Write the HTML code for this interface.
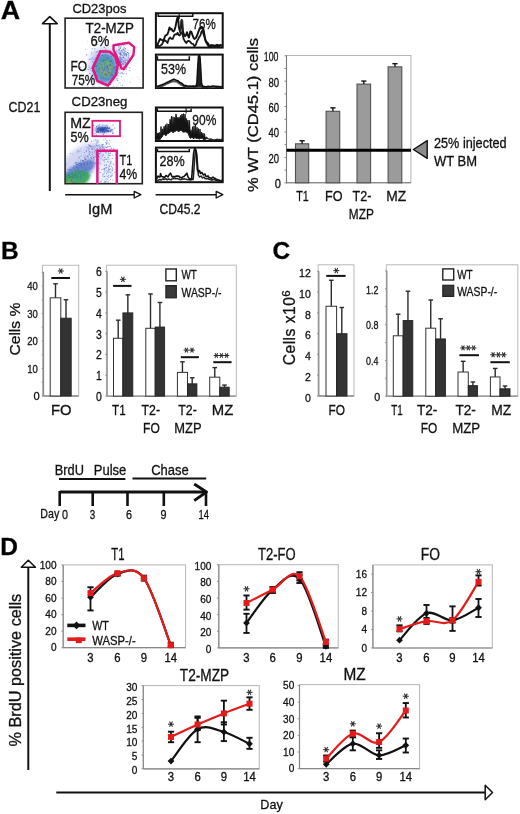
<!DOCTYPE html><html><head><meta charset="utf-8"><style>html,body{margin:0;padding:0;background:#fff;}svg{display:block;will-change:transform;}text{font-family:"Liberation Sans", sans-serif;stroke:#111;stroke-width:0.3px;}</style></head><body>
<svg width="520" height="814" viewBox="0 0 520 814">
<rect x="0" y="0" width="520" height="814" fill="#fff"/>
<text x="0.80" y="18.80" font-size="25.5" text-anchor="start" font-weight="bold" fill="#000" textLength="19.4" lengthAdjust="spacingAndGlyphs" >A</text>
<text x="1.00" y="259.00" font-size="24.5" text-anchor="start" font-weight="bold" fill="#000" >B</text>
<text x="272.50" y="259.20" font-size="24.5" text-anchor="start" font-weight="bold" fill="#000" >C</text>
<text x="0.30" y="555.00" font-size="24.5" text-anchor="start" font-weight="bold" fill="#000" >D</text>
<line x1="49.80" y1="23.00" x2="49.80" y2="191.00" stroke="#111" stroke-width="2.0" />
<polygon points="42.50,23.70 49.80,16.70 57.20,23.70" fill="#fff" stroke="#111" stroke-width="1.6" stroke-linejoin="round" />
<text x="8.60" y="111.80" font-size="14.49" text-anchor="start" font-weight="normal" fill="#111" textLength="31.8" lengthAdjust="spacingAndGlyphs" >CD21</text>
<rect x="65.10" y="18.20" width="78.00" height="69.80" fill="#fff" stroke="#222" stroke-width="1.6" />
<rect x="65.10" y="112.30" width="77.20" height="71.40" fill="#fff" stroke="#222" stroke-width="1.6" />
<defs><filter id="bl1" x="-50%" y="-50%" width="200%" height="200%"><feGaussianBlur stdDeviation="2.2"/></filter><filter id="bl2" x="-50%" y="-50%" width="200%" height="200%"><feGaussianBlur stdDeviation="1.2"/></filter><clipPath id="cp1"><rect x="66" y="19" width="76.2" height="68.2"/></clipPath><clipPath id="cp2"><rect x="66" y="113.1" width="75.5" height="69.8"/></clipPath></defs>
<g clip-path="url(#cp1)">
<g filter="url(#bl1)">
<ellipse cx="104" cy="66" rx="16" ry="19" fill="#b6c3ee" opacity="0.7"/>
<ellipse cx="123" cy="58" rx="6" ry="10" fill="#c2ccf0" opacity="0.6" transform="rotate(20 123 58)"/>
<ellipse cx="96" cy="55" rx="6" ry="5" fill="#c9d1f2" opacity="0.5"/>
</g>
<g filter="url(#bl2)">
<ellipse cx="105" cy="68" rx="11.5" ry="15" fill="#5f86d4" opacity="0.85"/>
<ellipse cx="105.5" cy="67.5" rx="9.5" ry="12.5" fill="#3f9fb0" opacity="0.85"/>
<ellipse cx="106" cy="68.5" rx="7.3" ry="9.5" fill="#5bb06a" opacity="0.9"/>
<ellipse cx="106" cy="69.5" rx="5.2" ry="6.5" fill="#aaa43c" opacity="0.9"/>
</g>
<rect x="101.7" y="77.3" width="1" height="1" fill="#3e63c4" opacity="0.75"/>
<rect x="94.0" y="64.1" width="1" height="1" fill="#5a7fd6" opacity="0.75"/>
<rect x="108.1" y="68.8" width="1" height="1" fill="#8aa0e3" opacity="0.75"/>
<rect x="105.6" y="67.6" width="1" height="1" fill="#7890de" opacity="0.75"/>
<rect x="103.4" y="68.9" width="1" height="1" fill="#2f56b8" opacity="0.75"/>
<rect x="102.3" y="63.3" width="1" height="1" fill="#56b27c" opacity="0.75"/>
<rect x="86.2" y="54.3" width="1" height="1" fill="#3e63c4" opacity="0.75"/>
<rect x="115.9" y="50.8" width="1" height="1" fill="#5a7fd6" opacity="0.75"/>
<rect x="109.4" y="74.0" width="1" height="1" fill="#8aa0e3" opacity="0.75"/>
<rect x="107.9" y="74.3" width="1" height="1" fill="#7890de" opacity="0.75"/>
<rect x="99.9" y="58.8" width="1" height="1" fill="#3e63c4" opacity="0.75"/>
<rect x="113.9" y="71.8" width="1" height="1" fill="#5a7fd6" opacity="0.75"/>
<rect x="102.2" y="58.3" width="1" height="1" fill="#7890de" opacity="0.75"/>
<rect x="101.8" y="68.9" width="1" height="1" fill="#2f56b8" opacity="0.75"/>
<rect x="106.1" y="64.6" width="1" height="1" fill="#8aa0e3" opacity="0.75"/>
<rect x="98.5" y="66.0" width="1" height="1" fill="#8aa0e3" opacity="0.75"/>
<rect x="104.6" y="59.0" width="1" height="1" fill="#3e63c4" opacity="0.75"/>
<rect x="81.8" y="84.9" width="1" height="1" fill="#2f56b8" opacity="0.75"/>
<rect x="107.1" y="70.5" width="1" height="1" fill="#3c9fae" opacity="0.75"/>
<rect x="105.5" y="67.2" width="1" height="1" fill="#8aa0e3" opacity="0.75"/>
<rect x="109.8" y="62.0" width="1" height="1" fill="#7890de" opacity="0.75"/>
<rect x="93.1" y="58.6" width="1" height="1" fill="#7890de" opacity="0.75"/>
<rect x="111.2" y="55.8" width="1" height="1" fill="#2f56b8" opacity="0.75"/>
<rect x="109.1" y="69.4" width="1" height="1" fill="#3c9fae" opacity="0.75"/>
<rect x="94.3" y="48.2" width="1" height="1" fill="#5a7fd6" opacity="0.75"/>
<rect x="104.9" y="68.2" width="1" height="1" fill="#3c9fae" opacity="0.75"/>
<rect x="111.3" y="68.6" width="1" height="1" fill="#3e63c4" opacity="0.75"/>
<rect x="106.8" y="68.2" width="1" height="1" fill="#3c9fae" opacity="0.75"/>
<rect x="105.6" y="67.6" width="1" height="1" fill="#56b27c" opacity="0.75"/>
<rect x="114.2" y="73.8" width="1" height="1" fill="#7890de" opacity="0.75"/>
<rect x="92.4" y="62.0" width="1" height="1" fill="#8aa0e3" opacity="0.75"/>
<rect x="103.3" y="83.3" width="1" height="1" fill="#7890de" opacity="0.75"/>
<rect x="93.6" y="86.4" width="1" height="1" fill="#3e63c4" opacity="0.75"/>
<rect x="113.0" y="87.0" width="1" height="1" fill="#5a7fd6" opacity="0.75"/>
<rect x="106.9" y="84.7" width="1" height="1" fill="#5a7fd6" opacity="0.75"/>
<rect x="106.8" y="67.5" width="1" height="1" fill="#8aa0e3" opacity="0.75"/>
<rect x="90.1" y="89.0" width="1" height="1" fill="#2f56b8" opacity="0.75"/>
<rect x="95.5" y="66.2" width="1" height="1" fill="#2f56b8" opacity="0.75"/>
<rect x="96.5" y="44.0" width="1" height="1" fill="#2f56b8" opacity="0.75"/>
<rect x="110.5" y="60.9" width="1" height="1" fill="#2f56b8" opacity="0.75"/>
<rect x="102.6" y="70.6" width="1" height="1" fill="#3c9fae" opacity="0.75"/>
<rect x="108.1" y="68.9" width="1" height="1" fill="#7890de" opacity="0.75"/>
<rect x="106.7" y="73.5" width="1" height="1" fill="#7890de" opacity="0.75"/>
<rect x="113.3" y="67.5" width="1" height="1" fill="#3e63c4" opacity="0.75"/>
<rect x="106.7" y="68.7" width="1" height="1" fill="#56b27c" opacity="0.75"/>
<rect x="104.2" y="66.0" width="1" height="1" fill="#7890de" opacity="0.75"/>
<rect x="105.4" y="74.6" width="1" height="1" fill="#3e63c4" opacity="0.75"/>
<rect x="110.0" y="59.3" width="1" height="1" fill="#8aa0e3" opacity="0.75"/>
<rect x="101.4" y="68.7" width="1" height="1" fill="#7890de" opacity="0.75"/>
<rect x="105.3" y="68.0" width="1" height="1" fill="#2f56b8" opacity="0.75"/>
<rect x="106.0" y="66.2" width="1" height="1" fill="#56b27c" opacity="0.75"/>
<rect x="103.7" y="67.1" width="1" height="1" fill="#7890de" opacity="0.75"/>
<rect x="93.9" y="63.3" width="1" height="1" fill="#8aa0e3" opacity="0.75"/>
<rect x="106.9" y="65.5" width="1" height="1" fill="#3c9fae" opacity="0.75"/>
<rect x="105.2" y="72.7" width="1" height="1" fill="#3c9fae" opacity="0.75"/>
<rect x="101.1" y="66.3" width="1" height="1" fill="#3c9fae" opacity="0.75"/>
<rect x="104.0" y="71.0" width="1" height="1" fill="#56b27c" opacity="0.75"/>
<rect x="116.3" y="48.8" width="1" height="1" fill="#8aa0e3" opacity="0.75"/>
<rect x="105.7" y="67.0" width="1" height="1" fill="#8aa0e3" opacity="0.75"/>
<rect x="101.1" y="74.8" width="1" height="1" fill="#3e63c4" opacity="0.75"/>
<rect x="106.9" y="67.8" width="1" height="1" fill="#3c9fae" opacity="0.75"/>
<rect x="112.8" y="64.8" width="1" height="1" fill="#7890de" opacity="0.75"/>
<rect x="128.4" y="55.1" width="1" height="1" fill="#5a7fd6" opacity="0.75"/>
<rect x="105.8" y="69.9" width="1" height="1" fill="#2f56b8" opacity="0.75"/>
<rect x="106.8" y="72.4" width="1" height="1" fill="#56b27c" opacity="0.75"/>
<rect x="112.7" y="52.8" width="1" height="1" fill="#7890de" opacity="0.75"/>
<rect x="104.8" y="66.1" width="1" height="1" fill="#3c9fae" opacity="0.75"/>
<rect x="108.9" y="64.7" width="1" height="1" fill="#3c9fae" opacity="0.75"/>
<rect x="105.5" y="59.4" width="1" height="1" fill="#2f56b8" opacity="0.75"/>
<rect x="105.1" y="68.5" width="1" height="1" fill="#56b27c" opacity="0.75"/>
<rect x="113.4" y="65.6" width="1" height="1" fill="#8aa0e3" opacity="0.75"/>
<rect x="104.5" y="59.6" width="1" height="1" fill="#3e63c4" opacity="0.75"/>
<rect x="114.3" y="79.3" width="1" height="1" fill="#8aa0e3" opacity="0.75"/>
<rect x="116.2" y="85.7" width="1" height="1" fill="#8aa0e3" opacity="0.75"/>
<rect x="110.6" y="66.7" width="1" height="1" fill="#7890de" opacity="0.75"/>
<rect x="110.8" y="74.9" width="1" height="1" fill="#3e63c4" opacity="0.75"/>
<rect x="112.6" y="65.8" width="1" height="1" fill="#8aa0e3" opacity="0.75"/>
<rect x="96.5" y="72.7" width="1" height="1" fill="#8aa0e3" opacity="0.75"/>
<rect x="106.3" y="65.4" width="1" height="1" fill="#2f56b8" opacity="0.75"/>
<rect x="105.9" y="77.1" width="1" height="1" fill="#7890de" opacity="0.75"/>
<rect x="105.2" y="73.5" width="1" height="1" fill="#56b27c" opacity="0.75"/>
<rect x="103.9" y="70.2" width="1" height="1" fill="#8aa0e3" opacity="0.75"/>
<rect x="98.0" y="61.9" width="1" height="1" fill="#8aa0e3" opacity="0.75"/>
<rect x="99.6" y="67.4" width="1" height="1" fill="#7890de" opacity="0.75"/>
<rect x="94.9" y="65.5" width="1" height="1" fill="#3e63c4" opacity="0.75"/>
<rect x="106.8" y="67.5" width="1" height="1" fill="#3c9fae" opacity="0.75"/>
<rect x="112.9" y="85.7" width="1" height="1" fill="#7890de" opacity="0.75"/>
<rect x="104.3" y="70.6" width="1" height="1" fill="#8aa0e3" opacity="0.75"/>
<rect x="104.5" y="67.1" width="1" height="1" fill="#8aa0e3" opacity="0.75"/>
<rect x="105.5" y="73.5" width="1" height="1" fill="#2f56b8" opacity="0.75"/>
<rect x="107.3" y="51.0" width="1" height="1" fill="#2f56b8" opacity="0.75"/>
<rect x="106.0" y="67.1" width="1" height="1" fill="#8aa0e3" opacity="0.75"/>
<rect x="96.4" y="57.4" width="1" height="1" fill="#2f56b8" opacity="0.75"/>
<rect x="105.1" y="67.7" width="1" height="1" fill="#8aa0e3" opacity="0.75"/>
<rect x="91.2" y="70.1" width="1" height="1" fill="#8aa0e3" opacity="0.75"/>
<rect x="110.7" y="64.9" width="1" height="1" fill="#5a7fd6" opacity="0.75"/>
<rect x="88.8" y="59.0" width="1" height="1" fill="#3e63c4" opacity="0.75"/>
<rect x="110.3" y="73.5" width="1" height="1" fill="#7890de" opacity="0.75"/>
<rect x="105.7" y="67.6" width="1" height="1" fill="#3c9fae" opacity="0.75"/>
<rect x="106.3" y="62.6" width="1" height="1" fill="#56b27c" opacity="0.75"/>
<rect x="107.3" y="70.8" width="1" height="1" fill="#7890de" opacity="0.75"/>
<rect x="116.1" y="55.0" width="1" height="1" fill="#8aa0e3" opacity="0.75"/>
<rect x="107.3" y="79.8" width="1" height="1" fill="#7890de" opacity="0.75"/>
<rect x="108.5" y="67.3" width="1" height="1" fill="#56b27c" opacity="0.75"/>
<rect x="111.3" y="79.6" width="1" height="1" fill="#5a7fd6" opacity="0.75"/>
<rect x="107.2" y="73.7" width="1" height="1" fill="#5a7fd6" opacity="0.75"/>
<rect x="103.3" y="51.4" width="1" height="1" fill="#7890de" opacity="0.75"/>
<rect x="107.0" y="67.7" width="1" height="1" fill="#2f56b8" opacity="0.75"/>
<rect x="102.9" y="64.2" width="1" height="1" fill="#56b27c" opacity="0.75"/>
<rect x="105.6" y="67.1" width="1" height="1" fill="#56b27c" opacity="0.75"/>
<rect x="105.7" y="67.7" width="1" height="1" fill="#3c9fae" opacity="0.75"/>
<rect x="105.1" y="71.1" width="1" height="1" fill="#7890de" opacity="0.75"/>
<rect x="91.6" y="77.1" width="1" height="1" fill="#5a7fd6" opacity="0.75"/>
<rect x="111.3" y="77.7" width="1" height="1" fill="#8aa0e3" opacity="0.75"/>
<rect x="104.3" y="66.8" width="1" height="1" fill="#7890de" opacity="0.75"/>
<rect x="103.9" y="62.5" width="1" height="1" fill="#8aa0e3" opacity="0.75"/>
<rect x="117.3" y="75.0" width="1" height="1" fill="#8aa0e3" opacity="0.75"/>
<rect x="110.1" y="71.0" width="1" height="1" fill="#8aa0e3" opacity="0.75"/>
<rect x="112.0" y="71.3" width="1" height="1" fill="#5a7fd6" opacity="0.75"/>
<rect x="97.6" y="63.9" width="1" height="1" fill="#8aa0e3" opacity="0.75"/>
<rect x="104.6" y="78.4" width="1" height="1" fill="#5a7fd6" opacity="0.75"/>
<rect x="112.4" y="74.8" width="1" height="1" fill="#3e63c4" opacity="0.75"/>
<rect x="108.0" y="68.5" width="1" height="1" fill="#2f56b8" opacity="0.75"/>
<rect x="106.0" y="56.8" width="1" height="1" fill="#5a7fd6" opacity="0.75"/>
<rect x="101.5" y="67.5" width="1" height="1" fill="#7890de" opacity="0.75"/>
<rect x="105.5" y="78.3" width="1" height="1" fill="#3e63c4" opacity="0.75"/>
<rect x="104.8" y="59.5" width="1" height="1" fill="#7890de" opacity="0.75"/>
<rect x="107.4" y="66.4" width="1" height="1" fill="#7890de" opacity="0.75"/>
<rect x="110.0" y="54.9" width="1" height="1" fill="#8aa0e3" opacity="0.75"/>
<rect x="101.7" y="71.4" width="1" height="1" fill="#8aa0e3" opacity="0.75"/>
<rect x="102.0" y="56.6" width="1" height="1" fill="#8aa0e3" opacity="0.75"/>
<rect x="105.2" y="66.2" width="1" height="1" fill="#3c9fae" opacity="0.75"/>
<rect x="103.9" y="68.9" width="1" height="1" fill="#7890de" opacity="0.75"/>
<rect x="108.0" y="69.0" width="1" height="1" fill="#3c9fae" opacity="0.75"/>
<rect x="105.4" y="70.3" width="1" height="1" fill="#56b27c" opacity="0.75"/>
<rect x="108.0" y="64.1" width="1" height="1" fill="#3c9fae" opacity="0.75"/>
<rect x="105.4" y="68.0" width="1" height="1" fill="#8aa0e3" opacity="0.75"/>
<rect x="110.1" y="76.5" width="1" height="1" fill="#7890de" opacity="0.75"/>
<rect x="103.3" y="101.3" width="1" height="1" fill="#7890de" opacity="0.75"/>
<rect x="105.7" y="75.8" width="1" height="1" fill="#8aa0e3" opacity="0.75"/>
<rect x="105.4" y="67.8" width="1" height="1" fill="#2f56b8" opacity="0.75"/>
<rect x="105.1" y="67.6" width="1" height="1" fill="#8aa0e3" opacity="0.75"/>
<rect x="105.8" y="68.7" width="1" height="1" fill="#2f56b8" opacity="0.75"/>
<rect x="105.5" y="67.5" width="1" height="1" fill="#2f56b8" opacity="0.75"/>
<rect x="113.6" y="70.3" width="1" height="1" fill="#5a7fd6" opacity="0.75"/>
<rect x="104.5" y="66.7" width="1" height="1" fill="#8aa0e3" opacity="0.75"/>
<rect x="105.5" y="56.2" width="1" height="1" fill="#8aa0e3" opacity="0.75"/>
<rect x="95.3" y="78.5" width="1" height="1" fill="#5a7fd6" opacity="0.75"/>
<rect x="114.9" y="66.3" width="1" height="1" fill="#2f56b8" opacity="0.75"/>
<rect x="118.0" y="72.1" width="1" height="1" fill="#8aa0e3" opacity="0.75"/>
<rect x="114.3" y="58.2" width="1" height="1" fill="#8aa0e3" opacity="0.75"/>
<rect x="113.0" y="79.1" width="1" height="1" fill="#7890de" opacity="0.75"/>
<rect x="96.3" y="67.2" width="1" height="1" fill="#8aa0e3" opacity="0.75"/>
<rect x="92.1" y="57.3" width="1" height="1" fill="#8aa0e3" opacity="0.75"/>
<rect x="104.5" y="64.5" width="1" height="1" fill="#7890de" opacity="0.75"/>
<rect x="110.0" y="74.0" width="1" height="1" fill="#5a7fd6" opacity="0.75"/>
<rect x="110.7" y="72.7" width="1" height="1" fill="#2f56b8" opacity="0.75"/>
<rect x="97.8" y="57.3" width="1" height="1" fill="#2f56b8" opacity="0.75"/>
<rect x="87.7" y="69.1" width="1" height="1" fill="#2f56b8" opacity="0.75"/>
<rect x="105.1" y="67.5" width="1" height="1" fill="#8aa0e3" opacity="0.75"/>
<rect x="97.4" y="51.1" width="1" height="1" fill="#5a7fd6" opacity="0.75"/>
<rect x="111.4" y="71.4" width="1" height="1" fill="#5a7fd6" opacity="0.75"/>
<rect x="104.9" y="61.6" width="1" height="1" fill="#56b27c" opacity="0.75"/>
<rect x="89.7" y="68.3" width="1" height="1" fill="#5a7fd6" opacity="0.75"/>
<rect x="98.7" y="68.7" width="1" height="1" fill="#2f56b8" opacity="0.75"/>
<rect x="95.8" y="51.6" width="1" height="1" fill="#3e63c4" opacity="0.75"/>
<rect x="105.7" y="67.9" width="1" height="1" fill="#2f56b8" opacity="0.75"/>
<rect x="90.5" y="58.6" width="1" height="1" fill="#3e63c4" opacity="0.75"/>
<rect x="107.1" y="68.3" width="1" height="1" fill="#3c9fae" opacity="0.75"/>
<rect x="98.8" y="50.3" width="1" height="1" fill="#5a7fd6" opacity="0.75"/>
<rect x="94.6" y="66.0" width="1" height="1" fill="#3e63c4" opacity="0.75"/>
<rect x="107.4" y="65.5" width="1" height="1" fill="#7890de" opacity="0.75"/>
<rect x="107.2" y="67.2" width="1" height="1" fill="#8aa0e3" opacity="0.75"/>
<rect x="105.8" y="66.6" width="1" height="1" fill="#56b27c" opacity="0.75"/>
<rect x="104.7" y="67.8" width="1" height="1" fill="#56b27c" opacity="0.75"/>
<rect x="107.2" y="76.1" width="1" height="1" fill="#7890de" opacity="0.75"/>
<rect x="120.9" y="92.2" width="1" height="1" fill="#3e63c4" opacity="0.75"/>
<rect x="107.1" y="63.1" width="1" height="1" fill="#8aa0e3" opacity="0.75"/>
<rect x="107.1" y="65.7" width="1" height="1" fill="#56b27c" opacity="0.75"/>
<rect x="98.6" y="68.3" width="1" height="1" fill="#3e63c4" opacity="0.75"/>
<rect x="116.4" y="67.8" width="1" height="1" fill="#5a7fd6" opacity="0.75"/>
<rect x="105.9" y="68.1" width="1" height="1" fill="#2f56b8" opacity="0.75"/>
<rect x="105.4" y="67.9" width="1" height="1" fill="#3c9fae" opacity="0.75"/>
<rect x="105.8" y="67.0" width="1" height="1" fill="#7890de" opacity="0.75"/>
<rect x="109.9" y="64.6" width="1" height="1" fill="#2f56b8" opacity="0.75"/>
<rect x="90.9" y="87.1" width="1" height="1" fill="#5a7fd6" opacity="0.75"/>
<rect x="113.5" y="67.4" width="1" height="1" fill="#7890de" opacity="0.75"/>
<rect x="104.7" y="74.0" width="1" height="1" fill="#3e63c4" opacity="0.75"/>
<rect x="108.8" y="70.7" width="1" height="1" fill="#56b27c" opacity="0.75"/>
<rect x="105.5" y="76.7" width="1" height="1" fill="#5a7fd6" opacity="0.75"/>
<rect x="101.9" y="67.2" width="1" height="1" fill="#56b27c" opacity="0.75"/>
<rect x="112.2" y="59.7" width="1" height="1" fill="#8aa0e3" opacity="0.75"/>
<rect x="91.7" y="48.1" width="1" height="1" fill="#7890de" opacity="0.75"/>
<rect x="103.2" y="51.8" width="1" height="1" fill="#3e63c4" opacity="0.75"/>
<rect x="103.7" y="46.9" width="1" height="1" fill="#2f56b8" opacity="0.75"/>
<rect x="104.4" y="73.9" width="1" height="1" fill="#3e63c4" opacity="0.75"/>
<rect x="112.6" y="63.0" width="1" height="1" fill="#5a7fd6" opacity="0.75"/>
<rect x="103.1" y="77.6" width="1" height="1" fill="#2f56b8" opacity="0.75"/>
<rect x="106.4" y="67.3" width="1" height="1" fill="#2f56b8" opacity="0.75"/>
<rect x="91.9" y="60.8" width="1" height="1" fill="#5a7fd6" opacity="0.75"/>
<rect x="107.3" y="71.6" width="1" height="1" fill="#56b27c" opacity="0.75"/>
<rect x="99.7" y="67.6" width="1" height="1" fill="#5a7fd6" opacity="0.75"/>
<rect x="114.6" y="59.6" width="1" height="1" fill="#3e63c4" opacity="0.75"/>
<rect x="105.6" y="67.8" width="1" height="1" fill="#7890de" opacity="0.75"/>
<rect x="102.1" y="74.3" width="1" height="1" fill="#5a7fd6" opacity="0.75"/>
<rect x="101.9" y="65.3" width="1" height="1" fill="#56b27c" opacity="0.75"/>
<rect x="105.5" y="56.0" width="1" height="1" fill="#7890de" opacity="0.75"/>
<rect x="101.6" y="72.4" width="1" height="1" fill="#5a7fd6" opacity="0.75"/>
<rect x="109.7" y="69.7" width="1" height="1" fill="#7890de" opacity="0.75"/>
<rect x="79.7" y="66.8" width="1" height="1" fill="#2f56b8" opacity="0.75"/>
<rect x="106.6" y="65.8" width="1" height="1" fill="#2f56b8" opacity="0.75"/>
<rect x="99.2" y="73.4" width="1" height="1" fill="#7890de" opacity="0.75"/>
<rect x="116.8" y="63.1" width="1" height="1" fill="#3e63c4" opacity="0.75"/>
<rect x="121.7" y="71.8" width="1" height="1" fill="#2f56b8" opacity="0.75"/>
<rect x="115.9" y="57.1" width="1" height="1" fill="#3e63c4" opacity="0.75"/>
<rect x="103.8" y="69.3" width="1" height="1" fill="#56b27c" opacity="0.75"/>
<rect x="113.0" y="48.5" width="1" height="1" fill="#5a7fd6" opacity="0.75"/>
<rect x="121.8" y="84.9" width="1" height="1" fill="#3e63c4" opacity="0.75"/>
<rect x="95.7" y="65.7" width="1" height="1" fill="#2f56b8" opacity="0.75"/>
<rect x="92.5" y="45.0" width="1" height="1" fill="#2f56b8" opacity="0.75"/>
<rect x="102.9" y="68.4" width="1" height="1" fill="#3c9fae" opacity="0.75"/>
<rect x="105.6" y="68.7" width="1" height="1" fill="#56b27c" opacity="0.75"/>
<rect x="104.4" y="65.7" width="1" height="1" fill="#2f56b8" opacity="0.75"/>
<rect x="102.3" y="62.7" width="1" height="1" fill="#3c9fae" opacity="0.75"/>
<rect x="113.9" y="76.8" width="1" height="1" fill="#7890de" opacity="0.75"/>
<rect x="101.5" y="71.9" width="1" height="1" fill="#5a7fd6" opacity="0.75"/>
<rect x="98.7" y="61.0" width="1" height="1" fill="#7890de" opacity="0.75"/>
<rect x="106.0" y="67.3" width="1" height="1" fill="#3c9fae" opacity="0.75"/>
<rect x="110.9" y="61.2" width="1" height="1" fill="#5a7fd6" opacity="0.75"/>
<rect x="106.6" y="67.1" width="1" height="1" fill="#3c9fae" opacity="0.75"/>
<rect x="101.4" y="81.7" width="1" height="1" fill="#2f56b8" opacity="0.75"/>
<rect x="104.1" y="68.5" width="1" height="1" fill="#2f56b8" opacity="0.75"/>
<rect x="102.3" y="60.3" width="1" height="1" fill="#3e63c4" opacity="0.75"/>
<rect x="103.8" y="71.1" width="1" height="1" fill="#8aa0e3" opacity="0.75"/>
<rect x="103.1" y="60.7" width="1" height="1" fill="#2f56b8" opacity="0.75"/>
<rect x="88.6" y="66.8" width="1" height="1" fill="#5a7fd6" opacity="0.75"/>
<rect x="112.4" y="65.8" width="1" height="1" fill="#5a7fd6" opacity="0.75"/>
<rect x="108.6" y="89.4" width="1" height="1" fill="#2f56b8" opacity="0.75"/>
<rect x="102.4" y="81.4" width="1" height="1" fill="#3e63c4" opacity="0.75"/>
<rect x="106.1" y="72.0" width="1" height="1" fill="#8aa0e3" opacity="0.75"/>
<rect x="102.8" y="61.5" width="1" height="1" fill="#5a7fd6" opacity="0.75"/>
<rect x="105.9" y="69.8" width="1" height="1" fill="#56b27c" opacity="0.75"/>
<rect x="107.6" y="70.9" width="1" height="1" fill="#2f56b8" opacity="0.75"/>
<rect x="106.4" y="66.6" width="1" height="1" fill="#56b27c" opacity="0.75"/>
<rect x="103.0" y="37.6" width="1" height="1" fill="#5a7fd6" opacity="0.75"/>
<rect x="105.6" y="67.9" width="1" height="1" fill="#56b27c" opacity="0.75"/>
<rect x="105.2" y="48.7" width="1" height="1" fill="#5a7fd6" opacity="0.75"/>
<rect x="103.4" y="70.2" width="1" height="1" fill="#2f56b8" opacity="0.75"/>
<rect x="109.4" y="76.7" width="1" height="1" fill="#5a7fd6" opacity="0.75"/>
<rect x="105.6" y="67.4" width="1" height="1" fill="#7890de" opacity="0.75"/>
<rect x="107.9" y="66.8" width="1" height="1" fill="#56b27c" opacity="0.75"/>
<rect x="109.5" y="56.9" width="1" height="1" fill="#7890de" opacity="0.75"/>
<rect x="114.6" y="71.3" width="1" height="1" fill="#8aa0e3" opacity="0.75"/>
<rect x="106.1" y="69.5" width="1" height="1" fill="#2f56b8" opacity="0.75"/>
<rect x="113.6" y="59.6" width="1" height="1" fill="#8aa0e3" opacity="0.75"/>
<rect x="105.7" y="65.0" width="1" height="1" fill="#7890de" opacity="0.75"/>
<rect x="125.8" y="73.4" width="1" height="1" fill="#5a7fd6" opacity="0.75"/>
<rect x="105.4" y="56.3" width="1" height="1" fill="#8aa0e3" opacity="0.75"/>
<rect x="103.6" y="71.4" width="1" height="1" fill="#3c9fae" opacity="0.75"/>
<rect x="103.6" y="99.8" width="1" height="1" fill="#2f56b8" opacity="0.75"/>
<rect x="105.4" y="67.7" width="1" height="1" fill="#3c9fae" opacity="0.75"/>
<rect x="106.2" y="66.9" width="1" height="1" fill="#3c9fae" opacity="0.75"/>
<rect x="112.3" y="64.2" width="1" height="1" fill="#7890de" opacity="0.75"/>
<rect x="106.6" y="67.1" width="1" height="1" fill="#56b27c" opacity="0.75"/>
<rect x="105.4" y="67.6" width="1" height="1" fill="#8aa0e3" opacity="0.75"/>
<rect x="115.0" y="61.5" width="1" height="1" fill="#3e63c4" opacity="0.75"/>
<rect x="105.9" y="65.8" width="1" height="1" fill="#3c9fae" opacity="0.75"/>
<rect x="91.0" y="52.4" width="1" height="1" fill="#5a7fd6" opacity="0.75"/>
<rect x="100.7" y="80.8" width="1" height="1" fill="#3e63c4" opacity="0.75"/>
<rect x="109.8" y="83.9" width="1" height="1" fill="#2f56b8" opacity="0.75"/>
<rect x="105.5" y="70.6" width="1" height="1" fill="#8aa0e3" opacity="0.75"/>
<rect x="105.0" y="68.7" width="1" height="1" fill="#56b27c" opacity="0.75"/>
<rect x="111.3" y="60.7" width="1" height="1" fill="#3e63c4" opacity="0.75"/>
<rect x="106.0" y="67.9" width="1" height="1" fill="#8aa0e3" opacity="0.75"/>
<rect x="103.8" y="58.8" width="1" height="1" fill="#7890de" opacity="0.75"/>
<rect x="103.8" y="65.4" width="1" height="1" fill="#3c9fae" opacity="0.75"/>
<rect x="105.4" y="56.5" width="1" height="1" fill="#3e63c4" opacity="0.75"/>
<rect x="112.0" y="54.2" width="1" height="1" fill="#5a7fd6" opacity="0.75"/>
<rect x="95.1" y="61.4" width="1" height="1" fill="#3e63c4" opacity="0.75"/>
<rect x="105.7" y="82.7" width="1" height="1" fill="#5a7fd6" opacity="0.75"/>
<rect x="111.1" y="78.0" width="1" height="1" fill="#5a7fd6" opacity="0.75"/>
<rect x="98.6" y="74.4" width="1" height="1" fill="#8aa0e3" opacity="0.75"/>
<rect x="103.4" y="67.4" width="1" height="1" fill="#3c9fae" opacity="0.75"/>
<rect x="123.5" y="66.2" width="1" height="1" fill="#3e63c4" opacity="0.75"/>
<rect x="97.5" y="69.2" width="1" height="1" fill="#8aa0e3" opacity="0.75"/>
<rect x="122.3" y="73.2" width="1" height="1" fill="#5a7fd6" opacity="0.75"/>
<rect x="112.8" y="76.3" width="1" height="1" fill="#7890de" opacity="0.75"/>
<rect x="128.1" y="53.7" width="1" height="1" fill="#5a7fd6" opacity="0.75"/>
<rect x="110.4" y="60.4" width="1" height="1" fill="#2f56b8" opacity="0.75"/>
<rect x="107.8" y="66.4" width="1" height="1" fill="#7890de" opacity="0.75"/>
<rect x="101.3" y="63.7" width="1" height="1" fill="#5a7fd6" opacity="0.75"/>
<rect x="108.5" y="72.3" width="1" height="1" fill="#2f56b8" opacity="0.75"/>
<rect x="105.1" y="82.8" width="1" height="1" fill="#5a7fd6" opacity="0.75"/>
<rect x="114.0" y="68.3" width="1" height="1" fill="#5a7fd6" opacity="0.75"/>
<rect x="104.0" y="63.5" width="1" height="1" fill="#2f56b8" opacity="0.75"/>
<rect x="107.7" y="57.6" width="1" height="1" fill="#7890de" opacity="0.75"/>
<rect x="112.9" y="71.6" width="1" height="1" fill="#7890de" opacity="0.75"/>
<rect x="101.7" y="61.5" width="1" height="1" fill="#3e63c4" opacity="0.75"/>
<rect x="107.3" y="71.3" width="1" height="1" fill="#2f56b8" opacity="0.75"/>
<rect x="102.1" y="79.3" width="1" height="1" fill="#8aa0e3" opacity="0.75"/>
<rect x="102.2" y="77.8" width="1" height="1" fill="#7890de" opacity="0.75"/>
<rect x="108.0" y="63.8" width="1" height="1" fill="#56b27c" opacity="0.75"/>
<rect x="102.1" y="72.7" width="1" height="1" fill="#5a7fd6" opacity="0.75"/>
<rect x="120.7" y="68.2" width="1" height="1" fill="#8aa0e3" opacity="0.75"/>
<rect x="101.6" y="70.1" width="1" height="1" fill="#56b27c" opacity="0.75"/>
<rect x="96.5" y="70.4" width="1" height="1" fill="#3e63c4" opacity="0.75"/>
<rect x="119.0" y="69.1" width="1" height="1" fill="#8aa0e3" opacity="0.75"/>
<rect x="109.4" y="70.6" width="1" height="1" fill="#3c9fae" opacity="0.75"/>
<rect x="101.6" y="72.8" width="1" height="1" fill="#5a7fd6" opacity="0.75"/>
<rect x="105.3" y="67.5" width="1" height="1" fill="#56b27c" opacity="0.75"/>
<rect x="119.5" y="82.3" width="1" height="1" fill="#8aa0e3" opacity="0.75"/>
<rect x="105.8" y="68.8" width="1" height="1" fill="#7890de" opacity="0.75"/>
<rect x="116.1" y="62.3" width="1" height="1" fill="#3e63c4" opacity="0.75"/>
<rect x="107.1" y="66.5" width="1" height="1" fill="#2f56b8" opacity="0.75"/>
<rect x="116.7" y="57.5" width="1" height="1" fill="#3e63c4" opacity="0.75"/>
<rect x="108.4" y="51.3" width="1" height="1" fill="#5a7fd6" opacity="0.75"/>
<rect x="96.7" y="75.4" width="1" height="1" fill="#3e63c4" opacity="0.75"/>
<rect x="108.6" y="87.2" width="1" height="1" fill="#5a7fd6" opacity="0.75"/>
<rect x="101.7" y="66.9" width="1" height="1" fill="#2f56b8" opacity="0.75"/>
<rect x="105.0" y="63.1" width="1" height="1" fill="#56b27c" opacity="0.75"/>
<rect x="120.5" y="72.7" width="1" height="1" fill="#3e63c4" opacity="0.75"/>
<rect x="108.9" y="60.4" width="1" height="1" fill="#3e63c4" opacity="0.75"/>
<rect x="94.7" y="57.3" width="1" height="1" fill="#5a7fd6" opacity="0.75"/>
<rect x="101.7" y="70.2" width="1" height="1" fill="#8aa0e3" opacity="0.75"/>
<rect x="100.2" y="70.9" width="1" height="1" fill="#7890de" opacity="0.75"/>
<rect x="114.5" y="69.2" width="1" height="1" fill="#2f56b8" opacity="0.75"/>
<rect x="103.9" y="67.6" width="1" height="1" fill="#3c9fae" opacity="0.75"/>
<rect x="89.2" y="73.2" width="1" height="1" fill="#3e63c4" opacity="0.75"/>
<rect x="101.5" y="68.4" width="1" height="1" fill="#8aa0e3" opacity="0.75"/>
<rect x="108.2" y="69.8" width="1" height="1" fill="#8aa0e3" opacity="0.75"/>
<rect x="91.8" y="66.4" width="1" height="1" fill="#3e63c4" opacity="0.75"/>
<rect x="105.1" y="62.8" width="1" height="1" fill="#3c9fae" opacity="0.75"/>
<rect x="94.4" y="66.5" width="1" height="1" fill="#5a7fd6" opacity="0.75"/>
<rect x="109.3" y="65.9" width="1" height="1" fill="#7890de" opacity="0.75"/>
<rect x="115.6" y="51.0" width="1" height="1" fill="#8aa0e3" opacity="0.75"/>
<rect x="105.6" y="68.0" width="1" height="1" fill="#56b27c" opacity="0.75"/>
<rect x="84.1" y="68.9" width="1" height="1" fill="#3e63c4" opacity="0.75"/>
<rect x="106.9" y="59.9" width="1" height="1" fill="#8aa0e3" opacity="0.75"/>
<rect x="114.6" y="72.7" width="1" height="1" fill="#3e63c4" opacity="0.75"/>
<rect x="116.3" y="56.8" width="1" height="1" fill="#5a7fd6" opacity="0.75"/>
<rect x="108.4" y="58.8" width="1" height="1" fill="#8aa0e3" opacity="0.75"/>
<rect x="107.9" y="79.1" width="1" height="1" fill="#5a7fd6" opacity="0.75"/>
<rect x="104.3" y="67.4" width="1" height="1" fill="#7890de" opacity="0.75"/>
<rect x="106.8" y="70.2" width="1" height="1" fill="#56b27c" opacity="0.75"/>
<rect x="103.4" y="61.8" width="1" height="1" fill="#3c9fae" opacity="0.75"/>
<rect x="108.3" y="70.7" width="1" height="1" fill="#8aa0e3" opacity="0.75"/>
<rect x="97.0" y="54.8" width="1" height="1" fill="#7890de" opacity="0.75"/>
<rect x="91.8" y="57.7" width="1" height="1" fill="#8aa0e3" opacity="0.75"/>
<rect x="116.6" y="78.7" width="1" height="1" fill="#5a7fd6" opacity="0.75"/>
<rect x="105.7" y="66.7" width="1" height="1" fill="#2f56b8" opacity="0.75"/>
<rect x="113.8" y="66.9" width="1" height="1" fill="#2f56b8" opacity="0.75"/>
<rect x="101.4" y="69.5" width="1" height="1" fill="#7890de" opacity="0.75"/>
<rect x="104.8" y="44.5" width="1" height="1" fill="#5a7fd6" opacity="0.75"/>
<rect x="102.0" y="62.0" width="1" height="1" fill="#8aa0e3" opacity="0.75"/>
<rect x="101.7" y="64.5" width="1" height="1" fill="#7890de" opacity="0.75"/>
<rect x="112.8" y="69.5" width="1" height="1" fill="#3e63c4" opacity="0.75"/>
<rect x="97.4" y="58.0" width="1" height="1" fill="#8aa0e3" opacity="0.75"/>
<rect x="108.8" y="72.2" width="1" height="1" fill="#2f56b8" opacity="0.75"/>
<rect x="105.1" y="66.7" width="1" height="1" fill="#2f56b8" opacity="0.75"/>
<rect x="105.6" y="67.6" width="1" height="1" fill="#2f56b8" opacity="0.75"/>
<rect x="107.4" y="82.3" width="1" height="1" fill="#5a7fd6" opacity="0.75"/>
<rect x="100.7" y="61.4" width="1" height="1" fill="#7890de" opacity="0.75"/>
<rect x="110.1" y="74.2" width="1" height="1" fill="#3e63c4" opacity="0.75"/>
<rect x="107.9" y="69.6" width="1" height="1" fill="#3c9fae" opacity="0.75"/>
<rect x="106.9" y="65.6" width="1" height="1" fill="#2f56b8" opacity="0.75"/>
<rect x="115.4" y="68.4" width="1" height="1" fill="#2f56b8" opacity="0.75"/>
<rect x="97.7" y="63.3" width="1" height="1" fill="#7890de" opacity="0.75"/>
<rect x="116.2" y="61.7" width="1" height="1" fill="#2f56b8" opacity="0.75"/>
<rect x="105.5" y="70.7" width="1" height="1" fill="#8aa0e3" opacity="0.75"/>
<rect x="104.1" y="68.7" width="1" height="1" fill="#2f56b8" opacity="0.75"/>
<rect x="105.8" y="67.6" width="1" height="1" fill="#8aa0e3" opacity="0.75"/>
<rect x="106.9" y="66.8" width="1" height="1" fill="#7890de" opacity="0.75"/>
<rect x="108.4" y="78.9" width="1" height="1" fill="#2f56b8" opacity="0.75"/>
<rect x="108.4" y="58.5" width="1" height="1" fill="#3e63c4" opacity="0.75"/>
<rect x="105.1" y="68.7" width="1" height="1" fill="#56b27c" opacity="0.75"/>
<rect x="106.1" y="63.7" width="1" height="1" fill="#3c9fae" opacity="0.75"/>
<rect x="114.7" y="68.0" width="1" height="1" fill="#7890de" opacity="0.75"/>
<rect x="104.8" y="49.7" width="1" height="1" fill="#7890de" opacity="0.75"/>
<rect x="106.4" y="74.9" width="1" height="1" fill="#3e63c4" opacity="0.75"/>
<rect x="103.2" y="72.5" width="1" height="1" fill="#3c9fae" opacity="0.75"/>
<rect x="102.5" y="56.6" width="1" height="1" fill="#5a7fd6" opacity="0.75"/>
<rect x="93.2" y="61.9" width="1" height="1" fill="#7890de" opacity="0.75"/>
<rect x="107.4" y="57.7" width="1" height="1" fill="#2f56b8" opacity="0.75"/>
<rect x="106.6" y="67.2" width="1" height="1" fill="#2f56b8" opacity="0.75"/>
<rect x="111.1" y="60.6" width="1" height="1" fill="#5a7fd6" opacity="0.75"/>
<rect x="105.5" y="66.5" width="1" height="1" fill="#56b27c" opacity="0.75"/>
<rect x="105.3" y="55.1" width="1" height="1" fill="#5a7fd6" opacity="0.75"/>
<rect x="106.7" y="91.2" width="1" height="1" fill="#8aa0e3" opacity="0.75"/>
<rect x="102.0" y="62.6" width="1" height="1" fill="#8aa0e3" opacity="0.75"/>
<rect x="91.9" y="70.9" width="1" height="1" fill="#8aa0e3" opacity="0.75"/>
<rect x="103.3" y="59.3" width="1" height="1" fill="#2f56b8" opacity="0.75"/>
<rect x="97.9" y="62.8" width="1" height="1" fill="#5a7fd6" opacity="0.75"/>
<rect x="106.2" y="71.1" width="1" height="1" fill="#56b27c" opacity="0.75"/>
<rect x="107.2" y="70.4" width="1" height="1" fill="#7890de" opacity="0.75"/>
<rect x="112.0" y="74.2" width="1" height="1" fill="#3e63c4" opacity="0.75"/>
<rect x="109.4" y="68.4" width="1" height="1" fill="#7890de" opacity="0.75"/>
<rect x="101.9" y="55.0" width="1" height="1" fill="#2f56b8" opacity="0.75"/>
<rect x="116.0" y="73.5" width="1" height="1" fill="#7890de" opacity="0.75"/>
<rect x="100.5" y="75.0" width="1" height="1" fill="#8aa0e3" opacity="0.75"/>
<rect x="120.9" y="76.3" width="1" height="1" fill="#8aa0e3" opacity="0.75"/>
<rect x="109.3" y="64.5" width="1" height="1" fill="#2f56b8" opacity="0.75"/>
<rect x="106.7" y="68.9" width="1" height="1" fill="#7890de" opacity="0.75"/>
<rect x="108.6" y="61.8" width="1" height="1" fill="#8aa0e3" opacity="0.75"/>
<rect x="96.6" y="55.0" width="1" height="1" fill="#5a7fd6" opacity="0.75"/>
<rect x="116.6" y="78.0" width="1" height="1" fill="#5a7fd6" opacity="0.75"/>
<rect x="101.4" y="78.9" width="1" height="1" fill="#7890de" opacity="0.75"/>
<rect x="105.8" y="67.6" width="1" height="1" fill="#3c9fae" opacity="0.75"/>
<rect x="100.0" y="75.3" width="1" height="1" fill="#5a7fd6" opacity="0.75"/>
<rect x="124.5" y="61.8" width="1" height="1" fill="#2f56b8" opacity="0.75"/>
<rect x="105.9" y="67.6" width="1" height="1" fill="#8aa0e3" opacity="0.75"/>
<rect x="104.3" y="68.2" width="1" height="1" fill="#3c9fae" opacity="0.75"/>
<rect x="96.6" y="64.7" width="1" height="1" fill="#5a7fd6" opacity="0.75"/>
<rect x="115.6" y="52.1" width="1" height="1" fill="#3e63c4" opacity="0.75"/>
<rect x="115.5" y="67.6" width="1" height="1" fill="#5a7fd6" opacity="0.75"/>
<rect x="105.6" y="66.3" width="1" height="1" fill="#8aa0e3" opacity="0.75"/>
<rect x="105.4" y="67.5" width="1" height="1" fill="#3c9fae" opacity="0.75"/>
<rect x="109.2" y="78.5" width="1" height="1" fill="#8aa0e3" opacity="0.75"/>
<rect x="105.5" y="67.9" width="1" height="1" fill="#56b27c" opacity="0.75"/>
<rect x="104.8" y="71.8" width="1" height="1" fill="#8aa0e3" opacity="0.75"/>
<rect x="117.2" y="80.0" width="1" height="1" fill="#2f56b8" opacity="0.75"/>
<rect x="127.4" y="63.1" width="1" height="1" fill="#4f6cc6" opacity="0.65"/>
<rect x="120.0" y="48.0" width="1" height="1" fill="#4f6cc6" opacity="0.65"/>
<rect x="119.7" y="53.9" width="1" height="1" fill="#4f6cc6" opacity="0.65"/>
<rect x="119.1" y="61.5" width="1" height="1" fill="#4f6cc6" opacity="0.65"/>
<rect x="123.1" y="56.4" width="1" height="1" fill="#4f6cc6" opacity="0.65"/>
<rect x="122.6" y="57.1" width="1" height="1" fill="#4f6cc6" opacity="0.65"/>
<rect x="122.7" y="62.5" width="1" height="1" fill="#4f6cc6" opacity="0.65"/>
<rect x="125.4" y="53.9" width="1" height="1" fill="#4f6cc6" opacity="0.65"/>
<rect x="116.7" y="66.6" width="1" height="1" fill="#4f6cc6" opacity="0.65"/>
<rect x="122.4" y="64.6" width="1" height="1" fill="#4f6cc6" opacity="0.65"/>
<rect x="116.2" y="56.0" width="1" height="1" fill="#4f6cc6" opacity="0.65"/>
<rect x="122.1" y="49.4" width="1" height="1" fill="#4f6cc6" opacity="0.65"/>
<rect x="120.2" y="62.3" width="1" height="1" fill="#4f6cc6" opacity="0.65"/>
<rect x="125.8" y="67.6" width="1" height="1" fill="#4f6cc6" opacity="0.65"/>
<rect x="119.0" y="49.6" width="1" height="1" fill="#4f6cc6" opacity="0.65"/>
<rect x="123.8" y="63.6" width="1" height="1" fill="#4f6cc6" opacity="0.65"/>
<rect x="122.7" y="50.2" width="1" height="1" fill="#4f6cc6" opacity="0.65"/>
<rect x="124.7" y="62.8" width="1" height="1" fill="#4f6cc6" opacity="0.65"/>
<rect x="123.9" y="55.1" width="1" height="1" fill="#4f6cc6" opacity="0.65"/>
<rect x="123.1" y="62.7" width="1" height="1" fill="#4f6cc6" opacity="0.65"/>
<rect x="120.0" y="46.9" width="1" height="1" fill="#4f6cc6" opacity="0.65"/>
<rect x="123.2" y="60.9" width="1" height="1" fill="#4f6cc6" opacity="0.65"/>
<rect x="122.0" y="63.3" width="1" height="1" fill="#4f6cc6" opacity="0.65"/>
<rect x="119.9" y="57.5" width="1" height="1" fill="#4f6cc6" opacity="0.65"/>
<rect x="120.9" y="61.4" width="1" height="1" fill="#4f6cc6" opacity="0.65"/>
<rect x="127.6" y="56.5" width="1" height="1" fill="#4f6cc6" opacity="0.65"/>
<rect x="129.2" y="67.2" width="1" height="1" fill="#4f6cc6" opacity="0.65"/>
<rect x="124.8" y="61.5" width="1" height="1" fill="#4f6cc6" opacity="0.65"/>
<rect x="128.2" y="56.9" width="1" height="1" fill="#4f6cc6" opacity="0.65"/>
<rect x="121.6" y="51.6" width="1" height="1" fill="#4f6cc6" opacity="0.65"/>
<rect x="123.7" y="66.1" width="1" height="1" fill="#4f6cc6" opacity="0.65"/>
<rect x="123.9" y="60.5" width="1" height="1" fill="#4f6cc6" opacity="0.65"/>
<rect x="121.3" y="59.0" width="1" height="1" fill="#4f6cc6" opacity="0.65"/>
<rect x="117.0" y="64.3" width="1" height="1" fill="#4f6cc6" opacity="0.65"/>
<rect x="120.6" y="51.4" width="1" height="1" fill="#4f6cc6" opacity="0.65"/>
<rect x="119.4" y="53.1" width="1" height="1" fill="#4f6cc6" opacity="0.65"/>
<rect x="125.0" y="64.3" width="1" height="1" fill="#4f6cc6" opacity="0.65"/>
<rect x="117.2" y="63.6" width="1" height="1" fill="#4f6cc6" opacity="0.65"/>
<rect x="125.1" y="54.5" width="1" height="1" fill="#4f6cc6" opacity="0.65"/>
<rect x="116.8" y="53.5" width="1" height="1" fill="#4f6cc6" opacity="0.65"/>
<rect x="119.8" y="60.1" width="1" height="1" fill="#4f6cc6" opacity="0.65"/>
<rect x="120.7" y="45.8" width="1" height="1" fill="#4f6cc6" opacity="0.65"/>
<rect x="122.8" y="48.8" width="1" height="1" fill="#4f6cc6" opacity="0.65"/>
<rect x="125.2" y="50.8" width="1" height="1" fill="#4f6cc6" opacity="0.65"/>
<rect x="119.6" y="52.9" width="1" height="1" fill="#4f6cc6" opacity="0.65"/>
<rect x="120.1" y="65.8" width="1" height="1" fill="#4f6cc6" opacity="0.65"/>
<rect x="125.0" y="61.6" width="1" height="1" fill="#4f6cc6" opacity="0.65"/>
<rect x="123.1" y="48.7" width="1" height="1" fill="#4f6cc6" opacity="0.65"/>
<rect x="120.2" y="54.7" width="1" height="1" fill="#4f6cc6" opacity="0.65"/>
<rect x="118.6" y="61.1" width="1" height="1" fill="#4f6cc6" opacity="0.65"/>
<rect x="119.4" y="53.7" width="1" height="1" fill="#4f6cc6" opacity="0.65"/>
<rect x="118.3" y="45.7" width="1" height="1" fill="#4f6cc6" opacity="0.65"/>
<rect x="124.1" y="66.0" width="1" height="1" fill="#4f6cc6" opacity="0.65"/>
<rect x="122.6" y="52.1" width="1" height="1" fill="#4f6cc6" opacity="0.65"/>
<rect x="112.5" y="59.0" width="1" height="1" fill="#4f6cc6" opacity="0.65"/>
<rect x="126.3" y="59.8" width="1" height="1" fill="#4f6cc6" opacity="0.65"/>
<rect x="125.2" y="66.9" width="1" height="1" fill="#4f6cc6" opacity="0.65"/>
<rect x="125.9" y="55.4" width="1" height="1" fill="#4f6cc6" opacity="0.65"/>
<rect x="125.7" y="62.7" width="1" height="1" fill="#4f6cc6" opacity="0.65"/>
<rect x="116.6" y="55.6" width="1" height="1" fill="#4f6cc6" opacity="0.65"/>
<rect x="117.0" y="57.3" width="1" height="1" fill="#4f6cc6" opacity="0.65"/>
<rect x="124.0" y="51.6" width="1" height="1" fill="#4f6cc6" opacity="0.65"/>
<rect x="114.8" y="65.8" width="1" height="1" fill="#4f6cc6" opacity="0.65"/>
<rect x="123.3" y="66.8" width="1" height="1" fill="#4f6cc6" opacity="0.65"/>
<rect x="117.4" y="64.4" width="1" height="1" fill="#4f6cc6" opacity="0.65"/>
<rect x="129.3" y="70.0" width="1" height="1" fill="#4f6cc6" opacity="0.65"/>
<rect x="121.3" y="59.6" width="1" height="1" fill="#4f6cc6" opacity="0.65"/>
<rect x="121.5" y="64.0" width="1" height="1" fill="#4f6cc6" opacity="0.65"/>
<rect x="125.6" y="58.5" width="1" height="1" fill="#4f6cc6" opacity="0.65"/>
<rect x="117.2" y="62.4" width="1" height="1" fill="#4f6cc6" opacity="0.65"/>
<rect x="120.4" y="61.8" width="1" height="1" fill="#4f6cc6" opacity="0.65"/>
<rect x="122.9" y="67.7" width="1" height="1" fill="#4f6cc6" opacity="0.65"/>
<rect x="126.0" y="55.3" width="1" height="1" fill="#4f6cc6" opacity="0.65"/>
<rect x="123.2" y="68.6" width="1" height="1" fill="#4f6cc6" opacity="0.65"/>
<rect x="120.1" y="60.6" width="1" height="1" fill="#4f6cc6" opacity="0.65"/>
<rect x="126.2" y="65.5" width="1" height="1" fill="#4f6cc6" opacity="0.65"/>
<rect x="123.8" y="50.1" width="1" height="1" fill="#4f6cc6" opacity="0.65"/>
<rect x="117.6" y="59.5" width="1" height="1" fill="#4f6cc6" opacity="0.65"/>
<rect x="123.4" y="73.3" width="1" height="1" fill="#4f6cc6" opacity="0.65"/>
<rect x="119.0" y="64.8" width="1" height="1" fill="#4f6cc6" opacity="0.65"/>
<rect x="124.7" y="48.0" width="1" height="1" fill="#4f6cc6" opacity="0.65"/>
<rect x="119.1" y="59.0" width="1" height="1" fill="#4f6cc6" opacity="0.65"/>
<rect x="120.3" y="57.1" width="1" height="1" fill="#4f6cc6" opacity="0.65"/>
<rect x="123.6" y="53.1" width="1" height="1" fill="#4f6cc6" opacity="0.65"/>
<rect x="123.6" y="54.2" width="1" height="1" fill="#4f6cc6" opacity="0.65"/>
<rect x="120.1" y="61.2" width="1" height="1" fill="#4f6cc6" opacity="0.65"/>
<rect x="120.0" y="59.7" width="1" height="1" fill="#4f6cc6" opacity="0.65"/>
<rect x="127.6" y="58.2" width="1" height="1" fill="#4f6cc6" opacity="0.65"/>
<rect x="121.5" y="62.4" width="1" height="1" fill="#4f6cc6" opacity="0.65"/>
<rect x="120.7" y="64.5" width="1" height="1" fill="#4f6cc6" opacity="0.65"/>
<rect x="117.5" y="61.7" width="1" height="1" fill="#4f6cc6" opacity="0.65"/>
<rect x="120.2" y="53.2" width="1" height="1" fill="#4f6cc6" opacity="0.65"/>
<rect x="128.2" y="52.9" width="1" height="1" fill="#4f6cc6" opacity="0.65"/>
<rect x="128.1" y="61.9" width="1" height="1" fill="#4f6cc6" opacity="0.65"/>
<rect x="127.1" y="52.1" width="1" height="1" fill="#4f6cc6" opacity="0.65"/>
<rect x="126.2" y="66.7" width="1" height="1" fill="#4f6cc6" opacity="0.65"/>
<rect x="121.6" y="57.2" width="1" height="1" fill="#4f6cc6" opacity="0.65"/>
<rect x="130.6" y="59.1" width="1" height="1" fill="#4f6cc6" opacity="0.65"/>
<rect x="120.5" y="54.2" width="1" height="1" fill="#4f6cc6" opacity="0.65"/>
<rect x="123.6" y="60.0" width="1" height="1" fill="#4f6cc6" opacity="0.65"/>
<rect x="122.6" y="68.3" width="1" height="1" fill="#4f6cc6" opacity="0.65"/>
<rect x="120.9" y="60.8" width="1" height="1" fill="#4f6cc6" opacity="0.65"/>
<rect x="127.1" y="52.0" width="1" height="1" fill="#4f6cc6" opacity="0.65"/>
<rect x="125.6" y="69.0" width="1" height="1" fill="#4f6cc6" opacity="0.65"/>
<rect x="117.3" y="51.4" width="1" height="1" fill="#4f6cc6" opacity="0.65"/>
<rect x="118.4" y="46.9" width="1" height="1" fill="#4f6cc6" opacity="0.65"/>
<rect x="123.6" y="46.9" width="1" height="1" fill="#4f6cc6" opacity="0.65"/>
<rect x="123.7" y="66.7" width="1" height="1" fill="#4f6cc6" opacity="0.65"/>
<rect x="116.3" y="56.1" width="1" height="1" fill="#4f6cc6" opacity="0.65"/>
<rect x="115.3" y="62.7" width="1" height="1" fill="#4f6cc6" opacity="0.65"/>
<rect x="119.4" y="56.4" width="1" height="1" fill="#4f6cc6" opacity="0.65"/>
<rect x="122.2" y="61.3" width="1" height="1" fill="#4f6cc6" opacity="0.65"/>
<rect x="120.8" y="58.1" width="1" height="1" fill="#4f6cc6" opacity="0.65"/>
<rect x="120.1" y="58.7" width="1" height="1" fill="#4f6cc6" opacity="0.65"/>
<rect x="117.9" y="58.4" width="1" height="1" fill="#4f6cc6" opacity="0.65"/>
<rect x="115.2" y="55.1" width="1" height="1" fill="#4f6cc6" opacity="0.65"/>
<rect x="128.7" y="58.5" width="1" height="1" fill="#4f6cc6" opacity="0.65"/>
<rect x="117.6" y="59.5" width="1" height="1" fill="#4f6cc6" opacity="0.65"/>
<rect x="118.6" y="48.1" width="1" height="1" fill="#4f6cc6" opacity="0.65"/>
<rect x="119.4" y="62.4" width="1" height="1" fill="#4f6cc6" opacity="0.65"/>
<rect x="123.3" y="57.4" width="1" height="1" fill="#4f6cc6" opacity="0.65"/>
<rect x="118.8" y="51.5" width="1" height="1" fill="#4f6cc6" opacity="0.65"/>
<rect x="126.7" y="59.5" width="1" height="1" fill="#4f6cc6" opacity="0.65"/>
<rect x="118.7" y="45.3" width="1" height="1" fill="#4f6cc6" opacity="0.65"/>
<rect x="117.2" y="72.9" width="1" height="1" fill="#4f6cc6" opacity="0.65"/>
<rect x="118.0" y="57.5" width="1" height="1" fill="#4f6cc6" opacity="0.65"/>
<rect x="122.7" y="57.1" width="1" height="1" fill="#4f6cc6" opacity="0.65"/>
<rect x="121.0" y="49.8" width="1" height="1" fill="#4f6cc6" opacity="0.65"/>
<rect x="118.3" y="68.1" width="1" height="1" fill="#4f6cc6" opacity="0.65"/>
<rect x="119.4" y="63.1" width="1" height="1" fill="#4f6cc6" opacity="0.65"/>
<rect x="116.1" y="56.4" width="1" height="1" fill="#4f6cc6" opacity="0.65"/>
<rect x="122.9" y="64.2" width="1" height="1" fill="#4f6cc6" opacity="0.65"/>
<rect x="118.1" y="61.6" width="1" height="1" fill="#4f6cc6" opacity="0.65"/>
<rect x="123.4" y="53.6" width="1" height="1" fill="#4f6cc6" opacity="0.65"/>
<rect x="123.7" y="52.6" width="1" height="1" fill="#4f6cc6" opacity="0.65"/>
<rect x="119.2" y="57.9" width="1" height="1" fill="#4f6cc6" opacity="0.65"/>
<rect x="112.5" y="57.3" width="1" height="1" fill="#4f6cc6" opacity="0.65"/>
<rect x="118.5" y="49.2" width="1" height="1" fill="#4f6cc6" opacity="0.65"/>
<rect x="120.5" y="62.6" width="1" height="1" fill="#4f6cc6" opacity="0.65"/>
<rect x="120.6" y="65.6" width="1" height="1" fill="#4f6cc6" opacity="0.65"/>
<rect x="117.9" y="50.1" width="1" height="1" fill="#4f6cc6" opacity="0.65"/>
<rect x="127.4" y="60.4" width="1" height="1" fill="#4f6cc6" opacity="0.65"/>
<rect x="125.3" y="53.0" width="1" height="1" fill="#4f6cc6" opacity="0.65"/>
<rect x="124.8" y="59.6" width="1" height="1" fill="#4f6cc6" opacity="0.65"/>
<rect x="124.3" y="58.2" width="1" height="1" fill="#4f6cc6" opacity="0.65"/>
<rect x="126.2" y="54.1" width="1" height="1" fill="#4f6cc6" opacity="0.65"/>
<rect x="118.6" y="49.1" width="1" height="1" fill="#4f6cc6" opacity="0.65"/>
<rect x="126.1" y="53.6" width="1" height="1" fill="#4f6cc6" opacity="0.65"/>
<rect x="118.3" y="52.4" width="1" height="1" fill="#4f6cc6" opacity="0.65"/>
<rect x="120.4" y="50.4" width="1" height="1" fill="#4f6cc6" opacity="0.65"/>
<rect x="121.0" y="54.2" width="1" height="1" fill="#4f6cc6" opacity="0.65"/>
<rect x="120.1" y="52.2" width="1" height="1" fill="#4f6cc6" opacity="0.65"/>
<rect x="122.1" y="55.2" width="1" height="1" fill="#4f6cc6" opacity="0.65"/>
<rect x="122.4" y="59.5" width="1" height="1" fill="#4f6cc6" opacity="0.65"/>
<rect x="123.2" y="44.9" width="1" height="1" fill="#4f6cc6" opacity="0.65"/>
<rect x="120.1" y="53.2" width="1" height="1" fill="#4f6cc6" opacity="0.65"/>
<rect x="124.7" y="48.5" width="1" height="1" fill="#4f6cc6" opacity="0.65"/>
<rect x="119.5" y="56.2" width="1" height="1" fill="#4f6cc6" opacity="0.65"/>
<rect x="120.8" y="63.9" width="1" height="1" fill="#4f6cc6" opacity="0.65"/>
<rect x="120.5" y="63.8" width="1" height="1" fill="#4f6cc6" opacity="0.65"/>
<rect x="120.3" y="84.5" width="0.9" height="0.9" fill="#9aaae6" opacity="0.5"/>
<rect x="88.0" y="65.1" width="0.9" height="0.9" fill="#9aaae6" opacity="0.5"/>
<rect x="87.2" y="41.3" width="0.9" height="0.9" fill="#9aaae6" opacity="0.5"/>
<rect x="129.6" y="65.5" width="0.9" height="0.9" fill="#9aaae6" opacity="0.5"/>
<rect x="135.5" y="58.7" width="0.9" height="0.9" fill="#9aaae6" opacity="0.5"/>
<rect x="85.8" y="55.5" width="0.9" height="0.9" fill="#9aaae6" opacity="0.5"/>
<rect x="117.6" y="84.7" width="0.9" height="0.9" fill="#9aaae6" opacity="0.5"/>
<rect x="138.9" y="60.2" width="0.9" height="0.9" fill="#9aaae6" opacity="0.5"/>
<rect x="107.7" y="40.4" width="0.9" height="0.9" fill="#9aaae6" opacity="0.5"/>
<rect x="120.4" y="46.3" width="0.9" height="0.9" fill="#9aaae6" opacity="0.5"/>
<rect x="93.3" y="35.8" width="0.9" height="0.9" fill="#9aaae6" opacity="0.5"/>
<rect x="85.3" y="71.2" width="0.9" height="0.9" fill="#9aaae6" opacity="0.5"/>
<rect x="91.7" y="86.2" width="0.9" height="0.9" fill="#9aaae6" opacity="0.5"/>
<rect x="89.8" y="81.1" width="0.9" height="0.9" fill="#9aaae6" opacity="0.5"/>
<rect x="92.1" y="35.9" width="0.9" height="0.9" fill="#9aaae6" opacity="0.5"/>
<rect x="124.6" y="47.8" width="0.9" height="0.9" fill="#9aaae6" opacity="0.5"/>
<rect x="125.3" y="44.9" width="0.9" height="0.9" fill="#9aaae6" opacity="0.5"/>
<rect x="87.8" y="76.0" width="0.9" height="0.9" fill="#9aaae6" opacity="0.5"/>
<rect x="124.2" y="80.3" width="0.9" height="0.9" fill="#9aaae6" opacity="0.5"/>
<rect x="125.1" y="39.5" width="0.9" height="0.9" fill="#9aaae6" opacity="0.5"/>
<rect x="119.6" y="72.6" width="0.9" height="0.9" fill="#9aaae6" opacity="0.5"/>
<rect x="110.3" y="84.4" width="0.9" height="0.9" fill="#9aaae6" opacity="0.5"/>
<rect x="99.0" y="86.1" width="0.9" height="0.9" fill="#9aaae6" opacity="0.5"/>
<rect x="124.4" y="35.6" width="0.9" height="0.9" fill="#9aaae6" opacity="0.5"/>
<rect x="85.8" y="69.5" width="0.9" height="0.9" fill="#9aaae6" opacity="0.5"/>
<rect x="130.0" y="39.2" width="0.9" height="0.9" fill="#9aaae6" opacity="0.5"/>
<rect x="102.1" y="73.7" width="0.9" height="0.9" fill="#9aaae6" opacity="0.5"/>
<rect x="94.1" y="80.6" width="0.9" height="0.9" fill="#9aaae6" opacity="0.5"/>
<rect x="111.7" y="38.2" width="0.9" height="0.9" fill="#9aaae6" opacity="0.5"/>
<rect x="105.2" y="65.5" width="0.9" height="0.9" fill="#9aaae6" opacity="0.5"/>
<rect x="109.1" y="70.9" width="0.9" height="0.9" fill="#9aaae6" opacity="0.5"/>
<rect x="93.0" y="77.3" width="0.9" height="0.9" fill="#9aaae6" opacity="0.5"/>
<rect x="105.0" y="69.2" width="0.9" height="0.9" fill="#9aaae6" opacity="0.5"/>
<rect x="119.6" y="57.2" width="0.9" height="0.9" fill="#9aaae6" opacity="0.5"/>
<rect x="106.2" y="76.7" width="0.9" height="0.9" fill="#9aaae6" opacity="0.5"/>
<rect x="137.0" y="76.6" width="0.9" height="0.9" fill="#9aaae6" opacity="0.5"/>
<rect x="116.2" y="50.5" width="0.9" height="0.9" fill="#9aaae6" opacity="0.5"/>
<rect x="88.3" y="86.6" width="0.9" height="0.9" fill="#9aaae6" opacity="0.5"/>
<rect x="123.7" y="78.9" width="0.9" height="0.9" fill="#9aaae6" opacity="0.5"/>
<rect x="103.3" y="67.1" width="0.9" height="0.9" fill="#9aaae6" opacity="0.5"/>
<rect x="138.8" y="79.1" width="0.9" height="0.9" fill="#9aaae6" opacity="0.5"/>
<rect x="118.1" y="51.4" width="0.9" height="0.9" fill="#9aaae6" opacity="0.5"/>
<rect x="108.6" y="82.1" width="0.9" height="0.9" fill="#9aaae6" opacity="0.5"/>
<rect x="105.7" y="71.3" width="0.9" height="0.9" fill="#9aaae6" opacity="0.5"/>
<rect x="118.1" y="82.5" width="0.9" height="0.9" fill="#9aaae6" opacity="0.5"/>
<rect x="129.4" y="50.0" width="0.9" height="0.9" fill="#9aaae6" opacity="0.5"/>
<rect x="85.1" y="48.9" width="0.9" height="0.9" fill="#9aaae6" opacity="0.5"/>
<rect x="108.2" y="66.1" width="0.9" height="0.9" fill="#9aaae6" opacity="0.5"/>
<rect x="129.9" y="82.0" width="0.9" height="0.9" fill="#9aaae6" opacity="0.5"/>
<rect x="87.3" y="79.2" width="0.9" height="0.9" fill="#9aaae6" opacity="0.5"/>
<rect x="129.6" y="81.0" width="0.9" height="0.9" fill="#9aaae6" opacity="0.5"/>
<rect x="116.5" y="49.5" width="0.9" height="0.9" fill="#9aaae6" opacity="0.5"/>
<rect x="131.8" y="77.8" width="0.9" height="0.9" fill="#9aaae6" opacity="0.5"/>
<rect x="122.7" y="83.4" width="0.9" height="0.9" fill="#9aaae6" opacity="0.5"/>
<rect x="104.1" y="39.5" width="0.9" height="0.9" fill="#9aaae6" opacity="0.5"/>
<rect x="115.5" y="77.3" width="0.9" height="0.9" fill="#9aaae6" opacity="0.5"/>
<rect x="96.0" y="74.8" width="0.9" height="0.9" fill="#9aaae6" opacity="0.5"/>
<rect x="136.2" y="47.4" width="0.9" height="0.9" fill="#9aaae6" opacity="0.5"/>
<rect x="118.4" y="70.9" width="0.9" height="0.9" fill="#9aaae6" opacity="0.5"/>
<rect x="110.6" y="45.9" width="0.9" height="0.9" fill="#9aaae6" opacity="0.5"/>
</g>
<polygon points="92.70,68.00 100.50,51.20 109.70,51.80 115.30,56.70 117.70,64.70 116.10,74.40 108.00,85.50 97.50,81.00" fill="none" stroke="#e2177f" stroke-width="2.6" stroke-linejoin="round" />
<polygon points="113.50,45.30 128.90,42.70 134.20,47.10 133.40,55.00 123.60,69.20 121.40,68.30 116.50,55.90 113.50,49.70" fill="none" stroke="#e2177f" stroke-width="2.4" stroke-linejoin="round" />
<g clip-path="url(#cp2)">
<g filter="url(#bl1)">
<ellipse cx="82" cy="163" rx="27" ry="15" fill="#c5cbef" opacity="0.8" transform="rotate(-40 82 163)"/>
<ellipse cx="103" cy="129.5" rx="9" ry="4" fill="#a9b7ea" opacity="0.8"/>
<ellipse cx="107" cy="166" rx="6" ry="16" fill="#dde2f6" opacity="0.6"/>
</g>
<g filter="url(#bl2)">
<ellipse cx="79" cy="171" rx="18" ry="7" fill="#4d6fc0" opacity="0.75" transform="rotate(-30 79 171)"/>
<ellipse cx="75" cy="180" rx="16" ry="8.5" fill="#35a65a" opacity="0.92" transform="rotate(-22 75 180)"/>
<ellipse cx="70" cy="182" rx="6" ry="3" fill="#7fb840" opacity="0.6"/>
<ellipse cx="102" cy="129.5" rx="7" ry="2.6" fill="#3d5ab2" opacity="0.8"/>
</g>
<rect x="74.7" y="162.7" width="1" height="1" fill="#3f5ab5" opacity="0.6"/>
<rect x="79.8" y="161.2" width="1" height="1" fill="#5b78cf" opacity="0.6"/>
<rect x="64.6" y="168.0" width="1" height="1" fill="#7b8fd8" opacity="0.6"/>
<rect x="79.5" y="162.8" width="1" height="1" fill="#4a66c0" opacity="0.6"/>
<rect x="70.6" y="174.8" width="1" height="1" fill="#7b8fd8" opacity="0.6"/>
<rect x="76.9" y="167.3" width="1" height="1" fill="#5b78cf" opacity="0.6"/>
<rect x="87.3" y="148.4" width="1" height="1" fill="#7b8fd8" opacity="0.6"/>
<rect x="88.2" y="155.6" width="1" height="1" fill="#5b78cf" opacity="0.6"/>
<rect x="76.7" y="169.7" width="1" height="1" fill="#5b78cf" opacity="0.6"/>
<rect x="77.4" y="169.6" width="1" height="1" fill="#4a66c0" opacity="0.6"/>
<rect x="75.9" y="166.8" width="1" height="1" fill="#3f5ab5" opacity="0.6"/>
<rect x="97.5" y="139.8" width="1" height="1" fill="#7b8fd8" opacity="0.6"/>
<rect x="86.1" y="167.4" width="1" height="1" fill="#3f5ab5" opacity="0.6"/>
<rect x="74.9" y="182.2" width="1" height="1" fill="#3f5ab5" opacity="0.6"/>
<rect x="88.6" y="154.0" width="1" height="1" fill="#3f5ab5" opacity="0.6"/>
<rect x="96.8" y="145.5" width="1" height="1" fill="#7b8fd8" opacity="0.6"/>
<rect x="77.3" y="149.9" width="1" height="1" fill="#3f5ab5" opacity="0.6"/>
<rect x="75.0" y="171.4" width="1" height="1" fill="#4a66c0" opacity="0.6"/>
<rect x="100.0" y="147.0" width="1" height="1" fill="#7b8fd8" opacity="0.6"/>
<rect x="103.9" y="150.0" width="1" height="1" fill="#5b78cf" opacity="0.6"/>
<rect x="102.9" y="154.3" width="1" height="1" fill="#3f5ab5" opacity="0.6"/>
<rect x="73.0" y="188.8" width="1" height="1" fill="#4a66c0" opacity="0.6"/>
<rect x="87.0" y="164.9" width="1" height="1" fill="#5b78cf" opacity="0.6"/>
<rect x="78.6" y="169.4" width="1" height="1" fill="#7b8fd8" opacity="0.6"/>
<rect x="84.2" y="168.6" width="1" height="1" fill="#4a66c0" opacity="0.6"/>
<rect x="101.5" y="144.0" width="1" height="1" fill="#4a66c0" opacity="0.6"/>
<rect x="98.4" y="162.1" width="1" height="1" fill="#5b78cf" opacity="0.6"/>
<rect x="104.8" y="138.2" width="1" height="1" fill="#4a66c0" opacity="0.6"/>
<rect x="103.5" y="149.8" width="1" height="1" fill="#3f5ab5" opacity="0.6"/>
<rect x="90.8" y="146.2" width="1" height="1" fill="#7b8fd8" opacity="0.6"/>
<rect x="77.2" y="173.7" width="1" height="1" fill="#7b8fd8" opacity="0.6"/>
<rect x="71.2" y="179.6" width="1" height="1" fill="#3f5ab5" opacity="0.6"/>
<rect x="91.0" y="171.5" width="1" height="1" fill="#7b8fd8" opacity="0.6"/>
<rect x="80.2" y="168.5" width="1" height="1" fill="#7b8fd8" opacity="0.6"/>
<rect x="80.2" y="176.4" width="1" height="1" fill="#7b8fd8" opacity="0.6"/>
<rect x="78.6" y="166.0" width="1" height="1" fill="#5b78cf" opacity="0.6"/>
<rect x="90.1" y="145.7" width="1" height="1" fill="#3f5ab5" opacity="0.6"/>
<rect x="100.5" y="158.1" width="1" height="1" fill="#7b8fd8" opacity="0.6"/>
<rect x="80.4" y="171.0" width="1" height="1" fill="#4a66c0" opacity="0.6"/>
<rect x="66.7" y="191.7" width="1" height="1" fill="#5b78cf" opacity="0.6"/>
<rect x="97.1" y="150.9" width="1" height="1" fill="#5b78cf" opacity="0.6"/>
<rect x="75.1" y="165.8" width="1" height="1" fill="#3f5ab5" opacity="0.6"/>
<rect x="69.1" y="176.5" width="1" height="1" fill="#4a66c0" opacity="0.6"/>
<rect x="83.2" y="170.9" width="1" height="1" fill="#7b8fd8" opacity="0.6"/>
<rect x="87.5" y="164.2" width="1" height="1" fill="#4a66c0" opacity="0.6"/>
<rect x="90.9" y="158.3" width="1" height="1" fill="#5b78cf" opacity="0.6"/>
<rect x="95.2" y="139.1" width="1" height="1" fill="#4a66c0" opacity="0.6"/>
<rect x="67.0" y="169.1" width="1" height="1" fill="#4a66c0" opacity="0.6"/>
<rect x="86.4" y="163.0" width="1" height="1" fill="#3f5ab5" opacity="0.6"/>
<rect x="99.8" y="147.4" width="1" height="1" fill="#7b8fd8" opacity="0.6"/>
<rect x="82.9" y="160.2" width="1" height="1" fill="#3f5ab5" opacity="0.6"/>
<rect x="61.9" y="185.0" width="1" height="1" fill="#4a66c0" opacity="0.6"/>
<rect x="95.3" y="153.7" width="1" height="1" fill="#7b8fd8" opacity="0.6"/>
<rect x="65.3" y="174.1" width="1" height="1" fill="#5b78cf" opacity="0.6"/>
<rect x="90.1" y="162.9" width="1" height="1" fill="#5b78cf" opacity="0.6"/>
<rect x="68.1" y="167.6" width="1" height="1" fill="#7b8fd8" opacity="0.6"/>
<rect x="96.9" y="147.6" width="1" height="1" fill="#5b78cf" opacity="0.6"/>
<rect x="82.2" y="178.0" width="1" height="1" fill="#3f5ab5" opacity="0.6"/>
<rect x="77.4" y="162.1" width="1" height="1" fill="#5b78cf" opacity="0.6"/>
<rect x="80.2" y="178.1" width="1" height="1" fill="#4a66c0" opacity="0.6"/>
<rect x="69.5" y="190.2" width="1" height="1" fill="#5b78cf" opacity="0.6"/>
<rect x="74.0" y="177.9" width="1" height="1" fill="#7b8fd8" opacity="0.6"/>
<rect x="61.3" y="177.7" width="1" height="1" fill="#4a66c0" opacity="0.6"/>
<rect x="97.9" y="163.6" width="1" height="1" fill="#4a66c0" opacity="0.6"/>
<rect x="71.7" y="186.2" width="1" height="1" fill="#7b8fd8" opacity="0.6"/>
<rect x="77.2" y="187.4" width="1" height="1" fill="#4a66c0" opacity="0.6"/>
<rect x="99.2" y="156.5" width="1" height="1" fill="#3f5ab5" opacity="0.6"/>
<rect x="77.0" y="164.2" width="1" height="1" fill="#3f5ab5" opacity="0.6"/>
<rect x="84.0" y="152.0" width="1" height="1" fill="#5b78cf" opacity="0.6"/>
<rect x="87.5" y="164.2" width="1" height="1" fill="#7b8fd8" opacity="0.6"/>
<rect x="83.8" y="159.7" width="1" height="1" fill="#7b8fd8" opacity="0.6"/>
<rect x="94.7" y="150.4" width="1" height="1" fill="#4a66c0" opacity="0.6"/>
<rect x="102.0" y="144.8" width="1" height="1" fill="#3f5ab5" opacity="0.6"/>
<rect x="90.9" y="158.0" width="1" height="1" fill="#4a66c0" opacity="0.6"/>
<rect x="62.9" y="183.3" width="1" height="1" fill="#5b78cf" opacity="0.6"/>
<rect x="69.2" y="177.3" width="1" height="1" fill="#3f5ab5" opacity="0.6"/>
<rect x="91.3" y="147.3" width="1" height="1" fill="#5b78cf" opacity="0.6"/>
<rect x="64.7" y="178.0" width="1" height="1" fill="#7b8fd8" opacity="0.6"/>
<rect x="87.8" y="157.6" width="1" height="1" fill="#5b78cf" opacity="0.6"/>
<rect x="69.2" y="172.7" width="1" height="1" fill="#5b78cf" opacity="0.6"/>
<rect x="73.3" y="180.2" width="1" height="1" fill="#5b78cf" opacity="0.6"/>
<rect x="78.9" y="177.3" width="1" height="1" fill="#7b8fd8" opacity="0.6"/>
<rect x="59.1" y="172.3" width="1" height="1" fill="#3f5ab5" opacity="0.6"/>
<rect x="73.0" y="182.0" width="1" height="1" fill="#3f5ab5" opacity="0.6"/>
<rect x="84.4" y="170.7" width="1" height="1" fill="#7b8fd8" opacity="0.6"/>
<rect x="89.5" y="146.1" width="1" height="1" fill="#3f5ab5" opacity="0.6"/>
<rect x="71.5" y="168.9" width="1" height="1" fill="#7b8fd8" opacity="0.6"/>
<rect x="82.6" y="160.7" width="1" height="1" fill="#4a66c0" opacity="0.6"/>
<rect x="79.7" y="177.3" width="1" height="1" fill="#3f5ab5" opacity="0.6"/>
<rect x="60.4" y="192.1" width="1" height="1" fill="#4a66c0" opacity="0.6"/>
<rect x="75.2" y="174.9" width="1" height="1" fill="#4a66c0" opacity="0.6"/>
<rect x="76.5" y="168.3" width="1" height="1" fill="#5b78cf" opacity="0.6"/>
<rect x="82.4" y="167.1" width="1" height="1" fill="#3f5ab5" opacity="0.6"/>
<rect x="89.2" y="159.4" width="1" height="1" fill="#4a66c0" opacity="0.6"/>
<rect x="94.5" y="132.8" width="1" height="1" fill="#3f5ab5" opacity="0.6"/>
<rect x="73.0" y="177.4" width="1" height="1" fill="#7b8fd8" opacity="0.6"/>
<rect x="85.8" y="150.7" width="1" height="1" fill="#3f5ab5" opacity="0.6"/>
<rect x="70.3" y="166.6" width="1" height="1" fill="#4a66c0" opacity="0.6"/>
<rect x="84.1" y="171.0" width="1" height="1" fill="#5b78cf" opacity="0.6"/>
<rect x="89.3" y="162.3" width="1" height="1" fill="#3f5ab5" opacity="0.6"/>
<rect x="93.6" y="158.9" width="1" height="1" fill="#5b78cf" opacity="0.6"/>
<rect x="73.6" y="170.5" width="1" height="1" fill="#7b8fd8" opacity="0.6"/>
<rect x="71.0" y="176.7" width="1" height="1" fill="#3f5ab5" opacity="0.6"/>
<rect x="96.3" y="158.8" width="1" height="1" fill="#3f5ab5" opacity="0.6"/>
<rect x="77.0" y="175.6" width="1" height="1" fill="#4a66c0" opacity="0.6"/>
<rect x="78.2" y="169.5" width="1" height="1" fill="#7b8fd8" opacity="0.6"/>
<rect x="82.3" y="161.2" width="1" height="1" fill="#7b8fd8" opacity="0.6"/>
<rect x="63.1" y="181.1" width="1" height="1" fill="#5b78cf" opacity="0.6"/>
<rect x="66.4" y="194.8" width="1" height="1" fill="#7b8fd8" opacity="0.6"/>
<rect x="98.2" y="140.6" width="1" height="1" fill="#3f5ab5" opacity="0.6"/>
<rect x="76.0" y="162.3" width="1" height="1" fill="#3f5ab5" opacity="0.6"/>
<rect x="89.0" y="167.6" width="1" height="1" fill="#3f5ab5" opacity="0.6"/>
<rect x="95.5" y="140.4" width="1" height="1" fill="#5b78cf" opacity="0.6"/>
<rect x="72.7" y="167.4" width="1" height="1" fill="#4a66c0" opacity="0.6"/>
<rect x="101.5" y="148.0" width="1" height="1" fill="#3f5ab5" opacity="0.6"/>
<rect x="97.5" y="149.1" width="1" height="1" fill="#5b78cf" opacity="0.6"/>
<rect x="66.1" y="191.6" width="1" height="1" fill="#7b8fd8" opacity="0.6"/>
<rect x="91.6" y="171.7" width="1" height="1" fill="#7b8fd8" opacity="0.6"/>
<rect x="104.3" y="151.0" width="1" height="1" fill="#3f5ab5" opacity="0.6"/>
<rect x="78.4" y="157.4" width="1" height="1" fill="#4a66c0" opacity="0.6"/>
<rect x="84.4" y="167.3" width="1" height="1" fill="#5b78cf" opacity="0.6"/>
<rect x="85.1" y="169.2" width="1" height="1" fill="#5b78cf" opacity="0.6"/>
<rect x="89.9" y="156.7" width="1" height="1" fill="#5b78cf" opacity="0.6"/>
<rect x="95.4" y="149.8" width="1" height="1" fill="#5b78cf" opacity="0.6"/>
<rect x="90.6" y="164.3" width="1" height="1" fill="#7b8fd8" opacity="0.6"/>
<rect x="100.4" y="145.5" width="1" height="1" fill="#4a66c0" opacity="0.6"/>
<rect x="83.4" y="162.8" width="1" height="1" fill="#4a66c0" opacity="0.6"/>
<rect x="82.4" y="163.2" width="1" height="1" fill="#5b78cf" opacity="0.6"/>
<rect x="62.6" y="174.9" width="1" height="1" fill="#3f5ab5" opacity="0.6"/>
<rect x="94.2" y="152.7" width="1" height="1" fill="#7b8fd8" opacity="0.6"/>
<rect x="71.2" y="182.3" width="1" height="1" fill="#5b78cf" opacity="0.6"/>
<rect x="83.8" y="180.5" width="1" height="1" fill="#5b78cf" opacity="0.6"/>
<rect x="73.2" y="171.6" width="1" height="1" fill="#5b78cf" opacity="0.6"/>
<rect x="66.7" y="180.8" width="1" height="1" fill="#5b78cf" opacity="0.6"/>
<rect x="78.2" y="163.2" width="1" height="1" fill="#5b78cf" opacity="0.6"/>
<rect x="68.8" y="175.0" width="1" height="1" fill="#5b78cf" opacity="0.6"/>
<rect x="98.3" y="144.2" width="1" height="1" fill="#7b8fd8" opacity="0.6"/>
<rect x="86.4" y="146.9" width="1" height="1" fill="#4a66c0" opacity="0.6"/>
<rect x="86.0" y="150.2" width="1" height="1" fill="#3f5ab5" opacity="0.6"/>
<rect x="80.6" y="166.4" width="1" height="1" fill="#4a66c0" opacity="0.6"/>
<rect x="71.3" y="184.8" width="1" height="1" fill="#5b78cf" opacity="0.6"/>
<rect x="97.4" y="153.5" width="1" height="1" fill="#5b78cf" opacity="0.6"/>
<rect x="80.5" y="166.3" width="1" height="1" fill="#5b78cf" opacity="0.6"/>
<rect x="88.9" y="152.7" width="1" height="1" fill="#4a66c0" opacity="0.6"/>
<rect x="74.7" y="169.4" width="1" height="1" fill="#3f5ab5" opacity="0.6"/>
<rect x="64.8" y="177.0" width="1" height="1" fill="#4a66c0" opacity="0.6"/>
<rect x="76.5" y="176.7" width="1" height="1" fill="#4a66c0" opacity="0.6"/>
<rect x="76.2" y="164.1" width="1" height="1" fill="#4a66c0" opacity="0.6"/>
<rect x="66.6" y="184.6" width="1" height="1" fill="#3f5ab5" opacity="0.6"/>
<rect x="83.7" y="156.6" width="1" height="1" fill="#3f5ab5" opacity="0.6"/>
<rect x="83.9" y="170.3" width="1" height="1" fill="#4a66c0" opacity="0.6"/>
<rect x="104.8" y="147.1" width="1" height="1" fill="#3f5ab5" opacity="0.6"/>
<rect x="83.4" y="164.0" width="1" height="1" fill="#4a66c0" opacity="0.6"/>
<rect x="70.3" y="169.2" width="1" height="1" fill="#5b78cf" opacity="0.6"/>
<rect x="83.3" y="172.6" width="1" height="1" fill="#3f5ab5" opacity="0.6"/>
<rect x="66.4" y="178.6" width="1" height="1" fill="#5b78cf" opacity="0.6"/>
<rect x="81.9" y="170.1" width="1" height="1" fill="#4a66c0" opacity="0.6"/>
<rect x="75.7" y="168.3" width="1" height="1" fill="#7b8fd8" opacity="0.6"/>
<rect x="93.5" y="148.5" width="1" height="1" fill="#7b8fd8" opacity="0.6"/>
<rect x="66.8" y="190.4" width="1" height="1" fill="#3f5ab5" opacity="0.6"/>
<rect x="66.6" y="179.8" width="1" height="1" fill="#4a66c0" opacity="0.6"/>
<rect x="100.0" y="152.5" width="1" height="1" fill="#7b8fd8" opacity="0.6"/>
<rect x="104.2" y="150.4" width="1" height="1" fill="#3f5ab5" opacity="0.6"/>
<rect x="77.1" y="169.0" width="1" height="1" fill="#5b78cf" opacity="0.6"/>
<rect x="80.4" y="184.9" width="1" height="1" fill="#4a66c0" opacity="0.6"/>
<rect x="91.6" y="156.4" width="1" height="1" fill="#4a66c0" opacity="0.6"/>
<rect x="80.8" y="163.1" width="1" height="1" fill="#5b78cf" opacity="0.6"/>
<rect x="76.6" y="151.6" width="1" height="1" fill="#4a66c0" opacity="0.6"/>
<rect x="84.6" y="156.8" width="1" height="1" fill="#3f5ab5" opacity="0.6"/>
<rect x="78.4" y="151.1" width="1" height="1" fill="#5b78cf" opacity="0.6"/>
<rect x="95.0" y="146.4" width="1" height="1" fill="#5b78cf" opacity="0.6"/>
<rect x="89.1" y="145.0" width="1" height="1" fill="#4a66c0" opacity="0.6"/>
<rect x="93.4" y="158.3" width="1" height="1" fill="#7b8fd8" opacity="0.6"/>
<rect x="98.1" y="159.3" width="1" height="1" fill="#3f5ab5" opacity="0.6"/>
<rect x="97.3" y="142.3" width="1" height="1" fill="#5b78cf" opacity="0.6"/>
<rect x="83.0" y="167.7" width="1" height="1" fill="#7b8fd8" opacity="0.6"/>
<rect x="88.8" y="145.5" width="1" height="1" fill="#3f5ab5" opacity="0.6"/>
<rect x="81.8" y="160.0" width="1" height="1" fill="#4a66c0" opacity="0.6"/>
<rect x="87.2" y="178.1" width="1" height="1" fill="#7b8fd8" opacity="0.6"/>
<rect x="76.4" y="185.3" width="1" height="1" fill="#4a66c0" opacity="0.6"/>
<rect x="84.5" y="164.4" width="1" height="1" fill="#7b8fd8" opacity="0.6"/>
<rect x="83.8" y="174.5" width="1" height="1" fill="#4a66c0" opacity="0.6"/>
<rect x="68.7" y="169.2" width="1" height="1" fill="#4a66c0" opacity="0.6"/>
<rect x="97.7" y="156.5" width="1" height="1" fill="#4a66c0" opacity="0.6"/>
<rect x="95.3" y="151.5" width="1" height="1" fill="#4a66c0" opacity="0.6"/>
<rect x="86.4" y="169.1" width="1" height="1" fill="#5b78cf" opacity="0.6"/>
<rect x="84.8" y="158.5" width="1" height="1" fill="#4a66c0" opacity="0.6"/>
<rect x="78.1" y="162.7" width="1" height="1" fill="#4a66c0" opacity="0.6"/>
<rect x="68.7" y="184.2" width="1" height="1" fill="#4a66c0" opacity="0.6"/>
<rect x="70.9" y="178.2" width="1" height="1" fill="#5b78cf" opacity="0.6"/>
<rect x="87.5" y="157.3" width="1" height="1" fill="#7b8fd8" opacity="0.6"/>
<rect x="77.4" y="164.0" width="1" height="1" fill="#5b78cf" opacity="0.6"/>
<rect x="53.9" y="184.6" width="1" height="1" fill="#3f5ab5" opacity="0.6"/>
<rect x="66.0" y="163.4" width="1" height="1" fill="#7b8fd8" opacity="0.6"/>
<rect x="64.4" y="179.3" width="1" height="1" fill="#4a66c0" opacity="0.6"/>
<rect x="90.6" y="158.3" width="1" height="1" fill="#5b78cf" opacity="0.6"/>
<rect x="79.8" y="148.4" width="1" height="1" fill="#7b8fd8" opacity="0.6"/>
<rect x="95.5" y="162.9" width="1" height="1" fill="#5b78cf" opacity="0.6"/>
<rect x="94.6" y="149.3" width="1" height="1" fill="#4a66c0" opacity="0.6"/>
<rect x="88.2" y="144.4" width="1" height="1" fill="#4a66c0" opacity="0.6"/>
<rect x="68.6" y="174.0" width="1" height="1" fill="#7b8fd8" opacity="0.6"/>
<rect x="76.1" y="164.1" width="1" height="1" fill="#4a66c0" opacity="0.6"/>
<rect x="74.0" y="167.2" width="1" height="1" fill="#7b8fd8" opacity="0.6"/>
<rect x="80.4" y="175.9" width="1" height="1" fill="#3f5ab5" opacity="0.6"/>
<rect x="102.3" y="146.2" width="1" height="1" fill="#3f5ab5" opacity="0.6"/>
<rect x="97.6" y="155.0" width="1" height="1" fill="#5b78cf" opacity="0.6"/>
<rect x="71.2" y="180.8" width="1" height="1" fill="#3f5ab5" opacity="0.6"/>
<rect x="74.3" y="181.2" width="1" height="1" fill="#4a66c0" opacity="0.6"/>
<rect x="72.5" y="175.8" width="1" height="1" fill="#3f5ab5" opacity="0.6"/>
<rect x="72.4" y="178.4" width="1" height="1" fill="#3f5ab5" opacity="0.6"/>
<rect x="96.9" y="149.5" width="1" height="1" fill="#4a66c0" opacity="0.6"/>
<rect x="98.9" y="153.0" width="1" height="1" fill="#3f5ab5" opacity="0.6"/>
<rect x="90.4" y="145.5" width="1" height="1" fill="#3f5ab5" opacity="0.6"/>
<rect x="66.4" y="185.7" width="1" height="1" fill="#4a66c0" opacity="0.6"/>
<rect x="105.9" y="144.0" width="1" height="1" fill="#5b78cf" opacity="0.6"/>
<rect x="87.0" y="163.2" width="1" height="1" fill="#3f5ab5" opacity="0.6"/>
<rect x="91.2" y="147.8" width="1" height="1" fill="#7b8fd8" opacity="0.6"/>
<rect x="88.5" y="148.5" width="1" height="1" fill="#4a66c0" opacity="0.6"/>
<rect x="73.1" y="165.4" width="1" height="1" fill="#4a66c0" opacity="0.6"/>
<rect x="83.9" y="163.6" width="1" height="1" fill="#3f5ab5" opacity="0.6"/>
<rect x="78.6" y="175.8" width="1" height="1" fill="#7b8fd8" opacity="0.6"/>
<rect x="74.3" y="190.1" width="1" height="1" fill="#5b78cf" opacity="0.6"/>
<rect x="77.3" y="167.2" width="1" height="1" fill="#4a66c0" opacity="0.6"/>
<rect x="84.0" y="169.8" width="1" height="1" fill="#3f5ab5" opacity="0.6"/>
<rect x="71.5" y="173.1" width="1" height="1" fill="#5b78cf" opacity="0.6"/>
<rect x="91.1" y="140.9" width="1" height="1" fill="#4a66c0" opacity="0.6"/>
<rect x="87.8" y="147.2" width="1" height="1" fill="#5b78cf" opacity="0.6"/>
<rect x="93.1" y="157.4" width="1" height="1" fill="#3f5ab5" opacity="0.6"/>
<rect x="91.8" y="153.8" width="1" height="1" fill="#4a66c0" opacity="0.6"/>
<rect x="85.6" y="158.4" width="1" height="1" fill="#5b78cf" opacity="0.6"/>
<rect x="81.1" y="168.1" width="1" height="1" fill="#4a66c0" opacity="0.6"/>
<rect x="83.6" y="167.8" width="1" height="1" fill="#5b78cf" opacity="0.6"/>
<rect x="91.6" y="153.8" width="1" height="1" fill="#7b8fd8" opacity="0.6"/>
<rect x="71.6" y="171.1" width="1" height="1" fill="#5b78cf" opacity="0.6"/>
<rect x="97.5" y="155.7" width="1" height="1" fill="#7b8fd8" opacity="0.6"/>
<rect x="97.1" y="157.8" width="1" height="1" fill="#5b78cf" opacity="0.6"/>
<rect x="74.9" y="176.7" width="1" height="1" fill="#5b78cf" opacity="0.6"/>
<rect x="95.7" y="143.7" width="1" height="1" fill="#4a66c0" opacity="0.6"/>
<rect x="104.4" y="159.0" width="1" height="1" fill="#3f5ab5" opacity="0.6"/>
<rect x="72.3" y="179.1" width="1" height="1" fill="#7b8fd8" opacity="0.6"/>
<rect x="68.4" y="174.3" width="1" height="1" fill="#3f5ab5" opacity="0.6"/>
<rect x="91.2" y="148.8" width="1" height="1" fill="#7b8fd8" opacity="0.6"/>
<rect x="102.8" y="147.4" width="1" height="1" fill="#4a66c0" opacity="0.6"/>
<rect x="81.3" y="164.6" width="1" height="1" fill="#5b78cf" opacity="0.6"/>
<rect x="63.3" y="174.2" width="1" height="1" fill="#3f5ab5" opacity="0.6"/>
<rect x="102.2" y="149.1" width="1" height="1" fill="#3f5ab5" opacity="0.6"/>
<rect x="84.2" y="162.1" width="1" height="1" fill="#5b78cf" opacity="0.6"/>
<rect x="74.0" y="168.4" width="1" height="1" fill="#4a66c0" opacity="0.6"/>
<rect x="89.0" y="161.6" width="1" height="1" fill="#7b8fd8" opacity="0.6"/>
<rect x="88.0" y="161.2" width="1" height="1" fill="#7b8fd8" opacity="0.6"/>
<rect x="73.7" y="177.0" width="1" height="1" fill="#4a66c0" opacity="0.6"/>
<rect x="52.5" y="186.7" width="1" height="1" fill="#5b78cf" opacity="0.6"/>
<rect x="87.0" y="155.7" width="1" height="1" fill="#3f5ab5" opacity="0.6"/>
<rect x="71.4" y="172.6" width="1" height="1" fill="#4a66c0" opacity="0.6"/>
<rect x="106.0" y="146.9" width="1" height="1" fill="#5b78cf" opacity="0.6"/>
<rect x="96.7" y="141.5" width="1" height="1" fill="#5b78cf" opacity="0.6"/>
<rect x="76.6" y="179.7" width="1" height="1" fill="#4a66c0" opacity="0.6"/>
<rect x="86.3" y="166.7" width="1" height="1" fill="#7b8fd8" opacity="0.6"/>
<rect x="80.2" y="159.5" width="1" height="1" fill="#3f5ab5" opacity="0.6"/>
<rect x="75.3" y="161.7" width="1" height="1" fill="#3f5ab5" opacity="0.6"/>
<rect x="90.3" y="157.1" width="1" height="1" fill="#7b8fd8" opacity="0.6"/>
<rect x="74.0" y="189.4" width="1" height="1" fill="#3f5ab5" opacity="0.6"/>
<rect x="72.9" y="173.9" width="1" height="1" fill="#4a66c0" opacity="0.6"/>
<rect x="90.9" y="168.2" width="1" height="1" fill="#7b8fd8" opacity="0.6"/>
<rect x="79.5" y="150.9" width="1" height="1" fill="#7b8fd8" opacity="0.6"/>
<rect x="72.7" y="192.9" width="1" height="1" fill="#4a66c0" opacity="0.6"/>
<rect x="72.9" y="176.8" width="1" height="1" fill="#3f5ab5" opacity="0.6"/>
<rect x="98.9" y="150.2" width="1" height="1" fill="#7b8fd8" opacity="0.6"/>
<rect x="95.9" y="153.4" width="1" height="1" fill="#5b78cf" opacity="0.6"/>
<rect x="89.2" y="151.0" width="1" height="1" fill="#5b78cf" opacity="0.6"/>
<rect x="70.7" y="177.1" width="1" height="1" fill="#7b8fd8" opacity="0.6"/>
<rect x="93.4" y="147.0" width="1" height="1" fill="#5b78cf" opacity="0.6"/>
<rect x="97.1" y="145.0" width="1" height="1" fill="#7b8fd8" opacity="0.6"/>
<rect x="94.4" y="155.8" width="1" height="1" fill="#5b78cf" opacity="0.6"/>
<rect x="90.8" y="156.8" width="1" height="1" fill="#7b8fd8" opacity="0.6"/>
<rect x="101.2" y="151.2" width="1" height="1" fill="#7b8fd8" opacity="0.6"/>
<rect x="77.8" y="168.3" width="1" height="1" fill="#5b78cf" opacity="0.6"/>
<rect x="84.3" y="165.2" width="1" height="1" fill="#3f5ab5" opacity="0.6"/>
<rect x="73.9" y="173.5" width="1" height="1" fill="#7b8fd8" opacity="0.6"/>
<rect x="86.9" y="161.4" width="1" height="1" fill="#7b8fd8" opacity="0.6"/>
<rect x="74.7" y="177.5" width="1" height="1" fill="#5b78cf" opacity="0.6"/>
<rect x="75.2" y="173.6" width="1" height="1" fill="#4a66c0" opacity="0.6"/>
<rect x="84.8" y="154.8" width="1" height="1" fill="#7b8fd8" opacity="0.6"/>
<rect x="92.4" y="152.3" width="1" height="1" fill="#7b8fd8" opacity="0.6"/>
<rect x="80.7" y="155.4" width="1" height="1" fill="#7b8fd8" opacity="0.6"/>
<rect x="74.4" y="168.4" width="1" height="1" fill="#7b8fd8" opacity="0.6"/>
<rect x="59.1" y="184.0" width="1" height="1" fill="#7b8fd8" opacity="0.6"/>
<rect x="67.6" y="172.9" width="1" height="1" fill="#5b78cf" opacity="0.6"/>
<rect x="96.0" y="145.2" width="1" height="1" fill="#4a66c0" opacity="0.6"/>
<rect x="89.8" y="174.8" width="1" height="1" fill="#7b8fd8" opacity="0.6"/>
<rect x="99.4" y="148.0" width="1" height="1" fill="#4a66c0" opacity="0.6"/>
<rect x="79.3" y="170.5" width="1" height="1" fill="#3f5ab5" opacity="0.6"/>
<rect x="92.3" y="145.7" width="1" height="1" fill="#7b8fd8" opacity="0.6"/>
<rect x="94.0" y="151.4" width="1" height="1" fill="#5b78cf" opacity="0.6"/>
<rect x="69.5" y="176.7" width="1" height="1" fill="#3f5ab5" opacity="0.6"/>
<rect x="86.8" y="160.9" width="1" height="1" fill="#3f5ab5" opacity="0.6"/>
<rect x="90.5" y="160.4" width="1" height="1" fill="#4a66c0" opacity="0.6"/>
<rect x="74.8" y="183.1" width="1" height="1" fill="#4a66c0" opacity="0.6"/>
<rect x="76.3" y="183.9" width="1" height="1" fill="#7b8fd8" opacity="0.6"/>
<rect x="79.6" y="171.5" width="1" height="1" fill="#4a66c0" opacity="0.6"/>
<rect x="90.1" y="160.7" width="1" height="1" fill="#4a66c0" opacity="0.6"/>
<rect x="93.1" y="157.0" width="1" height="1" fill="#3f5ab5" opacity="0.6"/>
<rect x="95.7" y="155.1" width="1" height="1" fill="#3f5ab5" opacity="0.6"/>
<rect x="81.5" y="178.3" width="1" height="1" fill="#7b8fd8" opacity="0.6"/>
<rect x="68.4" y="174.9" width="1" height="1" fill="#3f5ab5" opacity="0.6"/>
<rect x="99.6" y="150.0" width="1" height="1" fill="#5b78cf" opacity="0.6"/>
<rect x="99.8" y="163.2" width="1" height="1" fill="#4a66c0" opacity="0.6"/>
<rect x="101.8" y="156.3" width="1" height="1" fill="#5b78cf" opacity="0.6"/>
<rect x="86.6" y="155.8" width="1" height="1" fill="#3f5ab5" opacity="0.6"/>
<rect x="84.5" y="165.4" width="1" height="1" fill="#7b8fd8" opacity="0.6"/>
<rect x="102.9" y="146.7" width="1" height="1" fill="#5b78cf" opacity="0.6"/>
<rect x="63.7" y="181.4" width="1" height="1" fill="#3f5ab5" opacity="0.6"/>
<rect x="89.5" y="154.6" width="1" height="1" fill="#7b8fd8" opacity="0.6"/>
<rect x="77.8" y="190.2" width="1" height="1" fill="#4a66c0" opacity="0.6"/>
<rect x="87.4" y="163.1" width="1" height="1" fill="#4a66c0" opacity="0.6"/>
<rect x="72.3" y="153.6" width="1" height="1" fill="#7b8fd8" opacity="0.6"/>
<rect x="96.5" y="150.5" width="1" height="1" fill="#4a66c0" opacity="0.6"/>
<rect x="98.5" y="149.8" width="1" height="1" fill="#5b78cf" opacity="0.6"/>
<rect x="77.0" y="176.8" width="1" height="1" fill="#5b78cf" opacity="0.6"/>
<rect x="99.4" y="148.1" width="1" height="1" fill="#7b8fd8" opacity="0.6"/>
<rect x="74.4" y="174.4" width="1" height="1" fill="#3f5ab5" opacity="0.6"/>
<rect x="77.2" y="159.6" width="1" height="1" fill="#7b8fd8" opacity="0.6"/>
<rect x="77.4" y="173.5" width="1" height="1" fill="#4a66c0" opacity="0.6"/>
<rect x="75.3" y="172.4" width="1" height="1" fill="#4a66c0" opacity="0.6"/>
<rect x="94.1" y="145.5" width="1" height="1" fill="#7b8fd8" opacity="0.6"/>
<rect x="87.7" y="138.4" width="1" height="1" fill="#4a66c0" opacity="0.6"/>
<rect x="94.5" y="162.1" width="1" height="1" fill="#5b78cf" opacity="0.6"/>
<rect x="104.2" y="151.3" width="1" height="1" fill="#7b8fd8" opacity="0.6"/>
<rect x="82.3" y="160.1" width="1" height="1" fill="#3f5ab5" opacity="0.6"/>
<rect x="107.3" y="146.1" width="1" height="1" fill="#3f5ab5" opacity="0.6"/>
<rect x="69.8" y="153.0" width="1" height="1" fill="#4a66c0" opacity="0.6"/>
<rect x="96.6" y="139.9" width="1" height="1" fill="#7b8fd8" opacity="0.6"/>
<rect x="85.4" y="160.5" width="1" height="1" fill="#7b8fd8" opacity="0.6"/>
<rect x="70.6" y="171.8" width="1" height="1" fill="#7b8fd8" opacity="0.6"/>
<rect x="80.3" y="163.1" width="1" height="1" fill="#7b8fd8" opacity="0.6"/>
<rect x="80.3" y="163.8" width="1" height="1" fill="#4a66c0" opacity="0.6"/>
<rect x="68.5" y="174.8" width="1" height="1" fill="#4a66c0" opacity="0.6"/>
<rect x="85.4" y="158.9" width="1" height="1" fill="#4a66c0" opacity="0.6"/>
<rect x="69.5" y="174.0" width="1" height="1" fill="#5b78cf" opacity="0.6"/>
<rect x="70.5" y="179.9" width="1" height="1" fill="#3f5ab5" opacity="0.6"/>
<rect x="72.3" y="182.1" width="1" height="1" fill="#5b78cf" opacity="0.6"/>
<rect x="75.2" y="162.9" width="1" height="1" fill="#7b8fd8" opacity="0.6"/>
<rect x="85.7" y="169.0" width="1" height="1" fill="#3f5ab5" opacity="0.6"/>
<rect x="84.2" y="158.7" width="1" height="1" fill="#4a66c0" opacity="0.6"/>
<rect x="96.2" y="161.5" width="1" height="1" fill="#7b8fd8" opacity="0.6"/>
<rect x="78.9" y="157.3" width="1" height="1" fill="#7b8fd8" opacity="0.6"/>
<rect x="93.1" y="160.2" width="1" height="1" fill="#5b78cf" opacity="0.6"/>
<rect x="88.3" y="162.7" width="1" height="1" fill="#7b8fd8" opacity="0.6"/>
<rect x="97.0" y="152.9" width="1" height="1" fill="#3f5ab5" opacity="0.6"/>
<rect x="62.6" y="170.6" width="1" height="1" fill="#4a66c0" opacity="0.6"/>
<rect x="74.4" y="176.8" width="1" height="1" fill="#7b8fd8" opacity="0.6"/>
<rect x="96.3" y="142.3" width="1" height="1" fill="#5b78cf" opacity="0.6"/>
<rect x="88.8" y="161.8" width="1" height="1" fill="#7b8fd8" opacity="0.6"/>
<rect x="73.0" y="174.8" width="1" height="1" fill="#4a66c0" opacity="0.6"/>
<rect x="103.2" y="139.5" width="1" height="1" fill="#5b78cf" opacity="0.6"/>
<rect x="87.7" y="159.7" width="1" height="1" fill="#3f5ab5" opacity="0.6"/>
<rect x="73.1" y="167.4" width="1" height="1" fill="#5b78cf" opacity="0.6"/>
<rect x="58.9" y="173.5" width="1" height="1" fill="#3f5ab5" opacity="0.6"/>
<rect x="69.7" y="169.3" width="1" height="1" fill="#3f5ab5" opacity="0.6"/>
<rect x="85.0" y="175.4" width="1" height="1" fill="#5b78cf" opacity="0.6"/>
<rect x="88.5" y="151.5" width="1" height="1" fill="#5b78cf" opacity="0.6"/>
<rect x="96.3" y="153.0" width="1" height="1" fill="#3f5ab5" opacity="0.6"/>
<rect x="94.8" y="156.6" width="1" height="1" fill="#5b78cf" opacity="0.6"/>
<rect x="91.2" y="162.0" width="1" height="1" fill="#4a66c0" opacity="0.6"/>
<rect x="92.3" y="164.6" width="1" height="1" fill="#7b8fd8" opacity="0.6"/>
<rect x="89.6" y="167.8" width="1" height="1" fill="#3f5ab5" opacity="0.6"/>
<rect x="97.9" y="155.7" width="1" height="1" fill="#5b78cf" opacity="0.6"/>
<rect x="98.4" y="154.2" width="1" height="1" fill="#5b78cf" opacity="0.6"/>
<rect x="66.5" y="174.2" width="1" height="1" fill="#5b78cf" opacity="0.6"/>
<rect x="76.3" y="183.0" width="1" height="1" fill="#3f5ab5" opacity="0.6"/>
<rect x="82.0" y="164.5" width="1" height="1" fill="#7b8fd8" opacity="0.6"/>
<rect x="70.5" y="177.9" width="1" height="1" fill="#7b8fd8" opacity="0.6"/>
<rect x="78.7" y="174.4" width="1" height="1" fill="#7b8fd8" opacity="0.6"/>
<rect x="93.3" y="139.7" width="1" height="1" fill="#4a66c0" opacity="0.6"/>
<rect x="79.5" y="165.3" width="1" height="1" fill="#5b78cf" opacity="0.6"/>
<rect x="92.7" y="155.4" width="1" height="1" fill="#7b8fd8" opacity="0.6"/>
<rect x="68.2" y="188.0" width="1" height="1" fill="#4a66c0" opacity="0.6"/>
<rect x="92.3" y="148.4" width="1" height="1" fill="#3f5ab5" opacity="0.6"/>
<rect x="79.3" y="163.6" width="1" height="1" fill="#4a66c0" opacity="0.6"/>
<rect x="61.4" y="184.3" width="1" height="1" fill="#5b78cf" opacity="0.6"/>
<rect x="77.3" y="170.3" width="1" height="1" fill="#3f5ab5" opacity="0.6"/>
<rect x="77.8" y="172.5" width="1" height="1" fill="#4a66c0" opacity="0.6"/>
<rect x="79.5" y="156.1" width="1" height="1" fill="#7b8fd8" opacity="0.6"/>
<rect x="90.4" y="151.8" width="1" height="1" fill="#4a66c0" opacity="0.6"/>
<rect x="80.3" y="164.2" width="1" height="1" fill="#5b78cf" opacity="0.6"/>
<rect x="92.0" y="151.4" width="1" height="1" fill="#7b8fd8" opacity="0.6"/>
<rect x="85.1" y="158.4" width="1" height="1" fill="#5b78cf" opacity="0.6"/>
<rect x="99.4" y="150.5" width="1" height="1" fill="#3f5ab5" opacity="0.6"/>
<rect x="76.7" y="179.7" width="1" height="1" fill="#7b8fd8" opacity="0.6"/>
<rect x="89.2" y="151.1" width="1" height="1" fill="#7b8fd8" opacity="0.6"/>
<rect x="78.6" y="167.8" width="1" height="1" fill="#4a66c0" opacity="0.6"/>
<rect x="84.1" y="169.3" width="1" height="1" fill="#7b8fd8" opacity="0.6"/>
<rect x="71.5" y="173.8" width="1" height="1" fill="#3f5ab5" opacity="0.6"/>
<rect x="72.9" y="182.3" width="1" height="1" fill="#3f5ab5" opacity="0.6"/>
<rect x="71.1" y="176.0" width="1" height="1" fill="#4a66c0" opacity="0.6"/>
<rect x="105.5" y="142.4" width="1" height="1" fill="#7b8fd8" opacity="0.6"/>
<rect x="91.3" y="165.5" width="1" height="1" fill="#5b78cf" opacity="0.6"/>
<rect x="72.0" y="180.4" width="1" height="1" fill="#5b78cf" opacity="0.6"/>
<rect x="64.4" y="177.2" width="1" height="1" fill="#4a66c0" opacity="0.6"/>
<rect x="83.6" y="168.5" width="1" height="1" fill="#5b78cf" opacity="0.6"/>
<rect x="92.2" y="158.2" width="1" height="1" fill="#7b8fd8" opacity="0.6"/>
<rect x="65.0" y="186.8" width="1" height="1" fill="#4a66c0" opacity="0.6"/>
<rect x="75.6" y="172.7" width="1" height="1" fill="#7b8fd8" opacity="0.6"/>
<rect x="92.6" y="145.7" width="1" height="1" fill="#5b78cf" opacity="0.6"/>
<rect x="88.2" y="149.3" width="1" height="1" fill="#5b78cf" opacity="0.6"/>
<rect x="62.8" y="178.5" width="1" height="1" fill="#4a66c0" opacity="0.6"/>
<rect x="81.2" y="165.2" width="1" height="1" fill="#4a66c0" opacity="0.6"/>
<rect x="77.1" y="167.1" width="1" height="1" fill="#5b78cf" opacity="0.6"/>
<rect x="98.6" y="146.1" width="1" height="1" fill="#4a66c0" opacity="0.6"/>
<rect x="77.8" y="175.8" width="1" height="1" fill="#4a66c0" opacity="0.6"/>
<rect x="80.4" y="163.5" width="1" height="1" fill="#3f5ab5" opacity="0.6"/>
<rect x="73.0" y="172.9" width="1" height="1" fill="#7b8fd8" opacity="0.6"/>
<rect x="80.1" y="174.8" width="1" height="1" fill="#4a66c0" opacity="0.6"/>
<rect x="106.3" y="140.2" width="1" height="1" fill="#4a66c0" opacity="0.6"/>
<rect x="108.2" y="150.5" width="1" height="1" fill="#3f5ab5" opacity="0.6"/>
<rect x="91.9" y="149.0" width="1" height="1" fill="#4a66c0" opacity="0.6"/>
<rect x="73.5" y="189.8" width="1" height="1" fill="#5b78cf" opacity="0.6"/>
<rect x="78.7" y="164.9" width="1" height="1" fill="#5b78cf" opacity="0.6"/>
<rect x="65.7" y="177.7" width="1" height="1" fill="#5b78cf" opacity="0.6"/>
<rect x="98.0" y="154.2" width="1" height="1" fill="#5b78cf" opacity="0.6"/>
<rect x="111.7" y="169.7" width="1" height="1" fill="#5f77cc" opacity="0.6"/>
<rect x="108.2" y="175.0" width="1" height="1" fill="#5f77cc" opacity="0.6"/>
<rect x="103.5" y="159.9" width="1" height="1" fill="#5f77cc" opacity="0.6"/>
<rect x="112.3" y="179.6" width="1" height="1" fill="#5f77cc" opacity="0.6"/>
<rect x="115.3" y="157.7" width="1" height="1" fill="#5f77cc" opacity="0.6"/>
<rect x="107.6" y="157.5" width="1" height="1" fill="#5f77cc" opacity="0.6"/>
<rect x="109.2" y="171.6" width="1" height="1" fill="#5f77cc" opacity="0.6"/>
<rect x="108.4" y="169.2" width="1" height="1" fill="#5f77cc" opacity="0.6"/>
<rect x="108.9" y="146.0" width="1" height="1" fill="#5f77cc" opacity="0.6"/>
<rect x="109.6" y="148.5" width="1" height="1" fill="#5f77cc" opacity="0.6"/>
<rect x="107.6" y="182.0" width="1" height="1" fill="#5f77cc" opacity="0.6"/>
<rect x="110.1" y="182.9" width="1" height="1" fill="#5f77cc" opacity="0.6"/>
<rect x="108.0" y="161.4" width="1" height="1" fill="#5f77cc" opacity="0.6"/>
<rect x="103.1" y="173.5" width="1" height="1" fill="#5f77cc" opacity="0.6"/>
<rect x="111.9" y="167.4" width="1" height="1" fill="#5f77cc" opacity="0.6"/>
<rect x="103.8" y="148.6" width="1" height="1" fill="#5f77cc" opacity="0.6"/>
<rect x="102.2" y="173.8" width="1" height="1" fill="#5f77cc" opacity="0.6"/>
<rect x="102.2" y="144.0" width="1" height="1" fill="#5f77cc" opacity="0.6"/>
<rect x="106.3" y="147.0" width="1" height="1" fill="#5f77cc" opacity="0.6"/>
<rect x="103.8" y="181.5" width="1" height="1" fill="#5f77cc" opacity="0.6"/>
<rect x="104.3" y="145.8" width="1" height="1" fill="#5f77cc" opacity="0.6"/>
<rect x="101.9" y="175.6" width="1" height="1" fill="#5f77cc" opacity="0.6"/>
<rect x="114.0" y="172.0" width="1" height="1" fill="#5f77cc" opacity="0.6"/>
<rect x="104.1" y="175.8" width="1" height="1" fill="#5f77cc" opacity="0.6"/>
<rect x="108.5" y="158.7" width="1" height="1" fill="#5f77cc" opacity="0.6"/>
<rect x="102.6" y="175.5" width="1" height="1" fill="#5f77cc" opacity="0.6"/>
<rect x="108.5" y="152.9" width="1" height="1" fill="#5f77cc" opacity="0.6"/>
<rect x="100.1" y="181.3" width="1" height="1" fill="#5f77cc" opacity="0.6"/>
<rect x="98.7" y="145.0" width="1" height="1" fill="#5f77cc" opacity="0.6"/>
<rect x="105.3" y="181.6" width="1" height="1" fill="#5f77cc" opacity="0.6"/>
<rect x="107.6" y="176.1" width="1" height="1" fill="#5f77cc" opacity="0.6"/>
<rect x="104.4" y="150.0" width="1" height="1" fill="#5f77cc" opacity="0.6"/>
<rect x="108.2" y="150.2" width="1" height="1" fill="#5f77cc" opacity="0.6"/>
<rect x="110.7" y="161.2" width="1" height="1" fill="#5f77cc" opacity="0.6"/>
<rect x="111.5" y="170.5" width="1" height="1" fill="#5f77cc" opacity="0.6"/>
<rect x="104.1" y="156.9" width="1" height="1" fill="#5f77cc" opacity="0.6"/>
<rect x="108.3" y="169.4" width="1" height="1" fill="#5f77cc" opacity="0.6"/>
<rect x="100.9" y="180.5" width="1" height="1" fill="#5f77cc" opacity="0.6"/>
<rect x="108.6" y="143.7" width="1" height="1" fill="#5f77cc" opacity="0.6"/>
<rect x="103.8" y="168.1" width="1" height="1" fill="#5f77cc" opacity="0.6"/>
<rect x="108.6" y="165.6" width="1" height="1" fill="#5f77cc" opacity="0.6"/>
<rect x="104.3" y="176.0" width="1" height="1" fill="#5f77cc" opacity="0.6"/>
<rect x="107.1" y="161.0" width="1" height="1" fill="#5f77cc" opacity="0.6"/>
<rect x="106.7" y="140.7" width="1" height="1" fill="#5f77cc" opacity="0.6"/>
<rect x="111.9" y="158.0" width="1" height="1" fill="#5f77cc" opacity="0.6"/>
<rect x="111.1" y="166.0" width="1" height="1" fill="#5f77cc" opacity="0.6"/>
<rect x="103.9" y="149.2" width="1" height="1" fill="#5f77cc" opacity="0.6"/>
<rect x="107.8" y="155.2" width="1" height="1" fill="#5f77cc" opacity="0.6"/>
<rect x="109.7" y="152.6" width="1" height="1" fill="#5f77cc" opacity="0.6"/>
<rect x="103.0" y="143.8" width="1" height="1" fill="#5f77cc" opacity="0.6"/>
<rect x="106.3" y="159.0" width="1" height="1" fill="#5f77cc" opacity="0.6"/>
<rect x="112.4" y="168.4" width="1" height="1" fill="#5f77cc" opacity="0.6"/>
<rect x="107.6" y="169.4" width="1" height="1" fill="#5f77cc" opacity="0.6"/>
<rect x="105.3" y="141.8" width="1" height="1" fill="#5f77cc" opacity="0.6"/>
<rect x="108.0" y="151.7" width="1" height="1" fill="#5f77cc" opacity="0.6"/>
<rect x="105.0" y="181.2" width="1" height="1" fill="#5f77cc" opacity="0.6"/>
<rect x="105.4" y="178.3" width="1" height="1" fill="#5f77cc" opacity="0.6"/>
<rect x="108.9" y="166.2" width="1" height="1" fill="#5f77cc" opacity="0.6"/>
<rect x="109.8" y="161.5" width="1" height="1" fill="#5f77cc" opacity="0.6"/>
<rect x="104.8" y="181.1" width="1" height="1" fill="#5f77cc" opacity="0.6"/>
<rect x="96.5" y="148.1" width="1" height="1" fill="#5f77cc" opacity="0.6"/>
<rect x="106.6" y="175.7" width="1" height="1" fill="#5f77cc" opacity="0.6"/>
<rect x="109.2" y="140.0" width="1" height="1" fill="#5f77cc" opacity="0.6"/>
<rect x="110.6" y="147.5" width="1" height="1" fill="#5f77cc" opacity="0.6"/>
<rect x="110.6" y="174.8" width="1" height="1" fill="#5f77cc" opacity="0.6"/>
<rect x="105.7" y="150.8" width="1" height="1" fill="#5f77cc" opacity="0.6"/>
<rect x="106.0" y="163.8" width="1" height="1" fill="#5f77cc" opacity="0.6"/>
<rect x="108.3" y="177.1" width="1" height="1" fill="#5f77cc" opacity="0.6"/>
<rect x="103.6" y="179.9" width="1" height="1" fill="#5f77cc" opacity="0.6"/>
<rect x="106.7" y="178.4" width="1" height="1" fill="#5f77cc" opacity="0.6"/>
<rect x="106.3" y="166.8" width="1" height="1" fill="#5f77cc" opacity="0.6"/>
<rect x="105.8" y="159.1" width="1" height="1" fill="#5f77cc" opacity="0.6"/>
<rect x="110.2" y="168.4" width="1" height="1" fill="#5f77cc" opacity="0.6"/>
<rect x="106.1" y="167.2" width="1" height="1" fill="#5f77cc" opacity="0.6"/>
<rect x="104.0" y="169.1" width="1" height="1" fill="#5f77cc" opacity="0.6"/>
<rect x="110.0" y="179.0" width="1" height="1" fill="#5f77cc" opacity="0.6"/>
<rect x="103.7" y="182.0" width="1" height="1" fill="#5f77cc" opacity="0.6"/>
<rect x="107.0" y="142.5" width="1" height="1" fill="#5f77cc" opacity="0.6"/>
<rect x="109.7" y="164.0" width="1" height="1" fill="#5f77cc" opacity="0.6"/>
<rect x="102.4" y="159.3" width="1" height="1" fill="#5f77cc" opacity="0.6"/>
<rect x="107.0" y="171.3" width="1" height="1" fill="#5f77cc" opacity="0.6"/>
<rect x="99.6" y="172.2" width="1" height="1" fill="#5f77cc" opacity="0.6"/>
<rect x="110.0" y="145.9" width="1" height="1" fill="#5f77cc" opacity="0.6"/>
<rect x="107.7" y="181.0" width="1" height="1" fill="#5f77cc" opacity="0.6"/>
<rect x="108.5" y="165.3" width="1" height="1" fill="#5f77cc" opacity="0.6"/>
<rect x="105.8" y="164.8" width="1" height="1" fill="#5f77cc" opacity="0.6"/>
<rect x="110.3" y="172.1" width="1" height="1" fill="#5f77cc" opacity="0.6"/>
<rect x="108.0" y="167.6" width="1" height="1" fill="#5f77cc" opacity="0.6"/>
<rect x="105.9" y="152.5" width="1" height="1" fill="#5f77cc" opacity="0.6"/>
<rect x="112.8" y="163.4" width="1" height="1" fill="#5f77cc" opacity="0.6"/>
<rect x="98.5" y="167.9" width="1" height="1" fill="#5f77cc" opacity="0.6"/>
<rect x="111.6" y="174.6" width="1" height="1" fill="#5f77cc" opacity="0.6"/>
<rect x="105.5" y="181.4" width="1" height="1" fill="#5f77cc" opacity="0.6"/>
<rect x="103.9" y="170.5" width="1" height="1" fill="#5f77cc" opacity="0.6"/>
<rect x="106.0" y="147.0" width="1" height="1" fill="#5f77cc" opacity="0.6"/>
<rect x="104.4" y="164.7" width="1" height="1" fill="#5f77cc" opacity="0.6"/>
<rect x="109.9" y="154.9" width="1" height="1" fill="#5f77cc" opacity="0.6"/>
<rect x="101.5" y="146.0" width="1" height="1" fill="#5f77cc" opacity="0.6"/>
<rect x="99.9" y="147.0" width="1" height="1" fill="#5f77cc" opacity="0.6"/>
<rect x="106.3" y="171.7" width="1" height="1" fill="#5f77cc" opacity="0.6"/>
<rect x="108.4" y="142.3" width="1" height="1" fill="#5f77cc" opacity="0.6"/>
<rect x="109.7" y="152.8" width="1" height="1" fill="#5f77cc" opacity="0.6"/>
<rect x="100.2" y="181.4" width="1" height="1" fill="#5f77cc" opacity="0.6"/>
<rect x="113.1" y="148.0" width="1" height="1" fill="#5f77cc" opacity="0.6"/>
<rect x="103.9" y="148.5" width="1" height="1" fill="#5f77cc" opacity="0.6"/>
<rect x="114.8" y="153.8" width="1" height="1" fill="#5f77cc" opacity="0.6"/>
<rect x="105.4" y="151.2" width="1" height="1" fill="#5f77cc" opacity="0.6"/>
<rect x="107.6" y="156.9" width="1" height="1" fill="#5f77cc" opacity="0.6"/>
<rect x="100.2" y="151.5" width="1" height="1" fill="#5f77cc" opacity="0.6"/>
<rect x="112.9" y="148.8" width="1" height="1" fill="#5f77cc" opacity="0.6"/>
<rect x="110.2" y="176.0" width="1" height="1" fill="#5f77cc" opacity="0.6"/>
<rect x="104.9" y="167.4" width="1" height="1" fill="#5f77cc" opacity="0.6"/>
<rect x="107.5" y="146.5" width="1" height="1" fill="#5f77cc" opacity="0.6"/>
<rect x="104.0" y="172.6" width="1" height="1" fill="#5f77cc" opacity="0.6"/>
<rect x="102.6" y="168.8" width="1" height="1" fill="#5f77cc" opacity="0.6"/>
<rect x="107.8" y="172.4" width="1" height="1" fill="#5f77cc" opacity="0.6"/>
<rect x="106.5" y="179.5" width="1" height="1" fill="#5f77cc" opacity="0.6"/>
<rect x="110.3" y="162.8" width="1" height="1" fill="#5f77cc" opacity="0.6"/>
<rect x="105.8" y="151.2" width="1" height="1" fill="#5f77cc" opacity="0.6"/>
<rect x="111.8" y="173.2" width="1" height="1" fill="#5f77cc" opacity="0.6"/>
<rect x="113.3" y="164.4" width="1" height="1" fill="#5f77cc" opacity="0.6"/>
<rect x="108.7" y="155.2" width="1" height="1" fill="#5f77cc" opacity="0.6"/>
<rect x="109.6" y="150.5" width="1" height="1" fill="#5f77cc" opacity="0.6"/>
<rect x="106.0" y="143.0" width="1" height="1" fill="#5f77cc" opacity="0.6"/>
<rect x="101.4" y="169.2" width="1" height="1" fill="#5f77cc" opacity="0.6"/>
<rect x="105.2" y="157.7" width="1" height="1" fill="#5f77cc" opacity="0.6"/>
<rect x="107.6" y="153.2" width="1" height="1" fill="#5f77cc" opacity="0.6"/>
<rect x="105.4" y="167.7" width="1" height="1" fill="#5f77cc" opacity="0.6"/>
<rect x="111.9" y="169.8" width="1" height="1" fill="#5f77cc" opacity="0.6"/>
<rect x="106.0" y="173.3" width="1" height="1" fill="#5f77cc" opacity="0.6"/>
<rect x="100.4" y="171.9" width="1" height="1" fill="#5f77cc" opacity="0.6"/>
<rect x="112.1" y="154.7" width="1" height="1" fill="#5f77cc" opacity="0.6"/>
<rect x="102.1" y="155.0" width="1" height="1" fill="#5f77cc" opacity="0.6"/>
<rect x="111.0" y="148.0" width="1" height="1" fill="#5f77cc" opacity="0.6"/>
<rect x="110.0" y="162.4" width="1" height="1" fill="#5f77cc" opacity="0.6"/>
<rect x="103.9" y="168.8" width="1" height="1" fill="#5f77cc" opacity="0.6"/>
<rect x="108.5" y="154.6" width="1" height="1" fill="#5f77cc" opacity="0.6"/>
<rect x="105.9" y="142.8" width="1" height="1" fill="#5f77cc" opacity="0.6"/>
<rect x="103.5" y="176.6" width="1" height="1" fill="#5f77cc" opacity="0.6"/>
<rect x="109.1" y="168.7" width="1" height="1" fill="#5f77cc" opacity="0.6"/>
<rect x="103.9" y="164.7" width="1" height="1" fill="#5f77cc" opacity="0.6"/>
<rect x="105.3" y="151.8" width="1" height="1" fill="#5f77cc" opacity="0.6"/>
<rect x="110.5" y="176.1" width="1" height="1" fill="#5f77cc" opacity="0.6"/>
<rect x="101.9" y="146.5" width="1" height="1" fill="#5f77cc" opacity="0.6"/>
<rect x="104.2" y="161.5" width="1" height="1" fill="#5f77cc" opacity="0.6"/>
<rect x="101.8" y="178.6" width="1" height="1" fill="#5f77cc" opacity="0.6"/>
<rect x="111.6" y="175.3" width="1" height="1" fill="#5f77cc" opacity="0.6"/>
<rect x="103.6" y="167.9" width="1" height="1" fill="#5f77cc" opacity="0.6"/>
<rect x="108.3" y="170.3" width="1" height="1" fill="#5f77cc" opacity="0.6"/>
<rect x="105.7" y="170.3" width="1" height="1" fill="#5f77cc" opacity="0.6"/>
<rect x="99.8" y="128.5" width="1" height="1" fill="#2f4aa8" opacity="0.75"/>
<rect x="108.1" y="130.6" width="1" height="1" fill="#2f4aa8" opacity="0.75"/>
<rect x="104.1" y="128.1" width="1" height="1" fill="#2f4aa8" opacity="0.75"/>
<rect x="103.2" y="130.9" width="1" height="1" fill="#2f4aa8" opacity="0.75"/>
<rect x="108.1" y="131.2" width="1" height="1" fill="#2f4aa8" opacity="0.75"/>
<rect x="110.5" y="128.9" width="1" height="1" fill="#2f4aa8" opacity="0.75"/>
<rect x="98.1" y="131.9" width="1" height="1" fill="#2f4aa8" opacity="0.75"/>
<rect x="110.2" y="131.2" width="1" height="1" fill="#2f4aa8" opacity="0.75"/>
<rect x="102.3" y="129.6" width="1" height="1" fill="#2f4aa8" opacity="0.75"/>
<rect x="100.8" y="128.7" width="1" height="1" fill="#2f4aa8" opacity="0.75"/>
<rect x="102.3" y="130.2" width="1" height="1" fill="#2f4aa8" opacity="0.75"/>
<rect x="97.1" y="130.4" width="1" height="1" fill="#2f4aa8" opacity="0.75"/>
<rect x="103.0" y="129.0" width="1" height="1" fill="#2f4aa8" opacity="0.75"/>
<rect x="103.5" y="128.6" width="1" height="1" fill="#2f4aa8" opacity="0.75"/>
<rect x="103.5" y="132.3" width="1" height="1" fill="#2f4aa8" opacity="0.75"/>
<rect x="100.3" y="131.0" width="1" height="1" fill="#2f4aa8" opacity="0.75"/>
<rect x="99.6" y="128.9" width="1" height="1" fill="#2f4aa8" opacity="0.75"/>
<rect x="103.3" y="128.2" width="1" height="1" fill="#2f4aa8" opacity="0.75"/>
<rect x="106.9" y="126.4" width="1" height="1" fill="#2f4aa8" opacity="0.75"/>
<rect x="101.4" y="129.4" width="1" height="1" fill="#2f4aa8" opacity="0.75"/>
<rect x="102.7" y="129.0" width="1" height="1" fill="#2f4aa8" opacity="0.75"/>
<rect x="97.8" y="129.4" width="1" height="1" fill="#2f4aa8" opacity="0.75"/>
<rect x="108.4" y="130.6" width="1" height="1" fill="#2f4aa8" opacity="0.75"/>
<rect x="101.5" y="126.9" width="1" height="1" fill="#2f4aa8" opacity="0.75"/>
<rect x="98.1" y="130.9" width="1" height="1" fill="#2f4aa8" opacity="0.75"/>
<rect x="99.8" y="128.7" width="1" height="1" fill="#2f4aa8" opacity="0.75"/>
<rect x="112.5" y="124.6" width="1" height="1" fill="#2f4aa8" opacity="0.75"/>
<rect x="106.3" y="124.7" width="1" height="1" fill="#2f4aa8" opacity="0.75"/>
<rect x="96.2" y="134.6" width="1" height="1" fill="#2f4aa8" opacity="0.75"/>
<rect x="107.1" y="130.5" width="1" height="1" fill="#2f4aa8" opacity="0.75"/>
<rect x="105.8" y="131.1" width="1" height="1" fill="#2f4aa8" opacity="0.75"/>
<rect x="99.6" y="126.6" width="1" height="1" fill="#2f4aa8" opacity="0.75"/>
<rect x="98.6" y="130.0" width="1" height="1" fill="#2f4aa8" opacity="0.75"/>
<rect x="104.2" y="131.4" width="1" height="1" fill="#2f4aa8" opacity="0.75"/>
<rect x="101.9" y="130.8" width="1" height="1" fill="#2f4aa8" opacity="0.75"/>
<rect x="102.0" y="127.1" width="1" height="1" fill="#2f4aa8" opacity="0.75"/>
<rect x="99.7" y="130.0" width="1" height="1" fill="#2f4aa8" opacity="0.75"/>
<rect x="101.6" y="128.2" width="1" height="1" fill="#2f4aa8" opacity="0.75"/>
<rect x="101.9" y="132.1" width="1" height="1" fill="#2f4aa8" opacity="0.75"/>
<rect x="98.9" y="124.4" width="1" height="1" fill="#2f4aa8" opacity="0.75"/>
<rect x="102.3" y="124.6" width="1" height="1" fill="#2f4aa8" opacity="0.75"/>
<rect x="108.8" y="128.0" width="1" height="1" fill="#2f4aa8" opacity="0.75"/>
<rect x="102.2" y="128.8" width="1" height="1" fill="#2f4aa8" opacity="0.75"/>
<rect x="102.7" y="129.8" width="1" height="1" fill="#2f4aa8" opacity="0.75"/>
<rect x="107.2" y="127.1" width="1" height="1" fill="#2f4aa8" opacity="0.75"/>
<rect x="100.1" y="128.4" width="1" height="1" fill="#2f4aa8" opacity="0.75"/>
<rect x="100.8" y="130.4" width="1" height="1" fill="#2f4aa8" opacity="0.75"/>
<rect x="93.1" y="124.9" width="1" height="1" fill="#2f4aa8" opacity="0.75"/>
<rect x="102.0" y="130.1" width="1" height="1" fill="#2f4aa8" opacity="0.75"/>
<rect x="104.4" y="131.2" width="1" height="1" fill="#2f4aa8" opacity="0.75"/>
<rect x="109.0" y="127.4" width="1" height="1" fill="#2f4aa8" opacity="0.75"/>
<rect x="100.5" y="129.8" width="1" height="1" fill="#2f4aa8" opacity="0.75"/>
<rect x="104.5" y="130.2" width="1" height="1" fill="#2f4aa8" opacity="0.75"/>
<rect x="103.4" y="127.3" width="1" height="1" fill="#2f4aa8" opacity="0.75"/>
<rect x="112.4" y="129.2" width="1" height="1" fill="#2f4aa8" opacity="0.75"/>
<rect x="103.9" y="127.3" width="1" height="1" fill="#2f4aa8" opacity="0.75"/>
<rect x="103.5" y="128.6" width="1" height="1" fill="#2f4aa8" opacity="0.75"/>
<rect x="107.0" y="131.1" width="1" height="1" fill="#2f4aa8" opacity="0.75"/>
<rect x="99.4" y="129.4" width="1" height="1" fill="#2f4aa8" opacity="0.75"/>
<rect x="102.5" y="129.9" width="1" height="1" fill="#2f4aa8" opacity="0.75"/>
<rect x="108.5" y="127.8" width="1" height="1" fill="#2f4aa8" opacity="0.75"/>
<rect x="114.4" y="127.6" width="1" height="1" fill="#2f4aa8" opacity="0.75"/>
<rect x="95.8" y="130.8" width="1" height="1" fill="#2f4aa8" opacity="0.75"/>
<rect x="96.4" y="131.9" width="1" height="1" fill="#2f4aa8" opacity="0.75"/>
<rect x="103.8" y="128.6" width="1" height="1" fill="#2f4aa8" opacity="0.75"/>
<rect x="105.6" y="129.6" width="1" height="1" fill="#2f4aa8" opacity="0.75"/>
<rect x="98.7" y="128.5" width="1" height="1" fill="#2f4aa8" opacity="0.75"/>
<rect x="111.0" y="129.7" width="1" height="1" fill="#2f4aa8" opacity="0.75"/>
<rect x="103.6" y="127.3" width="1" height="1" fill="#2f4aa8" opacity="0.75"/>
<rect x="111.6" y="130.6" width="1" height="1" fill="#2f4aa8" opacity="0.75"/>
<rect x="100.8" y="129.3" width="1" height="1" fill="#2f4aa8" opacity="0.75"/>
<rect x="99.7" y="132.0" width="1" height="1" fill="#2f4aa8" opacity="0.75"/>
<rect x="106.4" y="128.0" width="1" height="1" fill="#2f4aa8" opacity="0.75"/>
<rect x="100.5" y="128.5" width="1" height="1" fill="#2f4aa8" opacity="0.75"/>
<rect x="102.9" y="133.8" width="1" height="1" fill="#2f4aa8" opacity="0.75"/>
<rect x="100.9" y="130.1" width="1" height="1" fill="#2f4aa8" opacity="0.75"/>
<rect x="100.5" y="128.9" width="1" height="1" fill="#2f4aa8" opacity="0.75"/>
<rect x="104.0" y="131.6" width="1" height="1" fill="#2f4aa8" opacity="0.75"/>
<rect x="97.0" y="128.0" width="1" height="1" fill="#2f4aa8" opacity="0.75"/>
<rect x="101.2" y="127.4" width="1" height="1" fill="#2f4aa8" opacity="0.75"/>
<rect x="109.1" y="130.8" width="1" height="1" fill="#2f4aa8" opacity="0.75"/>
<rect x="107.3" y="130.2" width="1" height="1" fill="#2f4aa8" opacity="0.75"/>
<rect x="97.1" y="131.3" width="1" height="1" fill="#2f4aa8" opacity="0.75"/>
<rect x="101.7" y="128.1" width="1" height="1" fill="#2f4aa8" opacity="0.75"/>
<rect x="98.4" y="127.0" width="1" height="1" fill="#2f4aa8" opacity="0.75"/>
<rect x="100.1" y="129.7" width="1" height="1" fill="#2f4aa8" opacity="0.75"/>
<rect x="107.6" y="128.0" width="1" height="1" fill="#2f4aa8" opacity="0.75"/>
<rect x="105.6" y="130.1" width="1" height="1" fill="#2f4aa8" opacity="0.75"/>
<rect x="105.7" y="129.4" width="1" height="1" fill="#2f4aa8" opacity="0.75"/>
<rect x="96.3" y="131.7" width="1" height="1" fill="#2f4aa8" opacity="0.75"/>
<rect x="105.4" y="127.0" width="1" height="1" fill="#2f4aa8" opacity="0.75"/>
<rect x="102.4" y="128.9" width="1" height="1" fill="#2f4aa8" opacity="0.75"/>
<rect x="112.7" y="132.5" width="1" height="1" fill="#2f4aa8" opacity="0.75"/>
<rect x="102.9" y="129.0" width="1" height="1" fill="#2f4aa8" opacity="0.75"/>
<rect x="105.7" y="129.9" width="1" height="1" fill="#2f4aa8" opacity="0.75"/>
<rect x="105.4" y="128.9" width="1" height="1" fill="#2f4aa8" opacity="0.75"/>
<rect x="97.6" y="125.4" width="1" height="1" fill="#2f4aa8" opacity="0.75"/>
<rect x="96.0" y="126.1" width="1" height="1" fill="#2f4aa8" opacity="0.75"/>
<rect x="102.3" y="130.7" width="1" height="1" fill="#2f4aa8" opacity="0.75"/>
<rect x="110.0" y="129.9" width="1" height="1" fill="#2f4aa8" opacity="0.75"/>
<rect x="112.1" y="132.8" width="1" height="1" fill="#2f4aa8" opacity="0.75"/>
<rect x="101.8" y="128.3" width="1" height="1" fill="#2f4aa8" opacity="0.75"/>
<rect x="103.4" y="128.4" width="1" height="1" fill="#2f4aa8" opacity="0.75"/>
<rect x="100.4" y="129.4" width="1" height="1" fill="#2f4aa8" opacity="0.75"/>
<rect x="104.7" y="125.4" width="1" height="1" fill="#2f4aa8" opacity="0.75"/>
<rect x="102.8" y="129.4" width="1" height="1" fill="#2f4aa8" opacity="0.75"/>
<rect x="105.9" y="127.5" width="1" height="1" fill="#2f4aa8" opacity="0.75"/>
<rect x="104.8" y="127.4" width="1" height="1" fill="#2f4aa8" opacity="0.75"/>
<rect x="98.1" y="127.7" width="1" height="1" fill="#2f4aa8" opacity="0.75"/>
<rect x="103.1" y="128.7" width="1" height="1" fill="#2f4aa8" opacity="0.75"/>
</g>
<rect x="92.40" y="120.80" width="27.60" height="15.40" fill="none" stroke="#e2177f" stroke-width="1.8" />
<path d="M97.4 184 V150.8 H116.8 V184" fill="none" stroke="#e2177f" stroke-width="2.5" />
<text x="72.40" y="12.50" font-size="13.23" text-anchor="start" font-weight="normal" fill="#111" textLength="54" lengthAdjust="spacingAndGlyphs" >CD23pos</text>
<text x="85.60" y="33.30" font-size="14.28" text-anchor="start" font-weight="normal" fill="#111" textLength="48.2" lengthAdjust="spacingAndGlyphs" >T2-MZP</text>
<text x="90.60" y="46.30" font-size="14.7" text-anchor="start" font-weight="normal" fill="#111" textLength="18.8" lengthAdjust="spacingAndGlyphs" >6%</text>
<text x="70.50" y="71.20" font-size="14.49" text-anchor="start" font-weight="normal" fill="#111" textLength="16.6" lengthAdjust="spacingAndGlyphs" >FO</text>
<text x="71.70" y="84.60" font-size="14.07" text-anchor="start" font-weight="normal" fill="#111" textLength="23.5" lengthAdjust="spacingAndGlyphs" >75%</text>
<text x="71.60" y="106.40" font-size="13.23" text-anchor="start" font-weight="normal" fill="#111" textLength="55.8" lengthAdjust="spacingAndGlyphs" >CD23neg</text>
<text x="70.20" y="128.20" font-size="14.07" text-anchor="start" font-weight="normal" fill="#111" textLength="20.6" lengthAdjust="spacingAndGlyphs" >MZ</text>
<text x="70.50" y="142.00" font-size="14.07" text-anchor="start" font-weight="normal" fill="#111" textLength="18.2" lengthAdjust="spacingAndGlyphs" >5%</text>
<text x="119.40" y="165.40" font-size="14.07" text-anchor="start" font-weight="normal" fill="#111" textLength="12.9" lengthAdjust="spacingAndGlyphs" >T1</text>
<text x="119.40" y="179.00" font-size="14.07" text-anchor="start" font-weight="normal" fill="#111" textLength="17.7" lengthAdjust="spacingAndGlyphs" >4%</text>
<line x1="65.20" y1="194.70" x2="134.50" y2="194.70" stroke="#111" stroke-width="1.6" />
<polygon points="134.20,191.40 140.80,194.70 134.20,198.00" fill="#fff" stroke="#111" stroke-width="1.3" stroke-linejoin="round" />
<text x="88.00" y="214.00" font-size="14.07" text-anchor="start" font-weight="normal" fill="#111" textLength="24.3" lengthAdjust="spacingAndGlyphs" >IgM</text>
<line x1="155.60" y1="194.70" x2="216.50" y2="194.70" stroke="#111" stroke-width="1.6" />
<polygon points="216.20,191.40 222.80,194.70 216.20,198.00" fill="#fff" stroke="#111" stroke-width="1.3" stroke-linejoin="round" />
<text x="159.50" y="214.00" font-size="14.07" text-anchor="start" font-weight="normal" fill="#111" textLength="41" lengthAdjust="spacingAndGlyphs" >CD45.2</text>
<rect x="155.90" y="13.20" width="66.80" height="34.40" fill="#fff" stroke="#111" stroke-width="2.0" />
<rect x="155.90" y="54.60" width="66.80" height="33.40" fill="#fff" stroke="#111" stroke-width="2.0" />
<rect x="155.90" y="107.50" width="66.80" height="33.50" fill="#fff" stroke="#111" stroke-width="2.0" />
<rect x="155.90" y="147.60" width="66.80" height="34.60" fill="#fff" stroke="#111" stroke-width="2.0" />
<polyline points="156.70,46.60 158.05,45.40 159.40,46.30 160.70,45.43 162.00,44.30 163.40,41.66 164.80,40.20 166.15,41.31 167.50,43.00 168.85,38.87 170.20,37.50 171.50,38.89 172.80,38.90 174.15,35.22 175.50,34.20 176.55,34.42 177.60,32.80 178.60,35.02 179.60,35.50 180.60,33.73 181.60,32.20 182.60,34.49 183.60,38.90 184.95,41.37 186.30,43.00 187.65,41.13 189.00,40.90 190.35,42.05 191.70,43.60 193.05,43.86 194.40,46.30 195.75,44.93 197.10,40.90 198.20,39.23 199.30,36.89 200.40,35.50 201.45,31.71 202.50,30.20 203.50,34.19 204.50,36.90 205.55,40.93 206.60,43.00 208.50,46.30 209.54,46.60 210.58,45.21 211.62,45.98 212.65,45.81 213.69,46.60 214.73,45.41 215.77,46.60 216.81,46.60 217.85,46.60 218.88,45.07 219.92,45.28 220.96,45.40 222.00,46.50" fill="none" stroke="#1a1a1a" stroke-width="1.8" stroke-linejoin="round" />
<polyline points="156.70,45.50 157.80,43.84 158.90,41.38 160.00,38.90 161.13,39.62 162.27,40.11 163.40,40.90 164.40,37.94 165.40,35.50 166.45,35.16 167.50,34.20 168.50,31.27 169.50,27.50 170.50,29.32 171.50,28.80 172.50,30.80 173.50,31.50 174.50,29.98 175.50,26.80 176.90,19.40 178.00,16.70 178.90,27.50 180.20,32.20 181.60,20.00 182.90,30.80 183.95,34.66 185.00,36.20 186.00,35.14 187.00,32.20 188.00,35.46 189.00,37.50 190.30,31.50 191.35,31.89 192.40,34.90 193.40,37.41 194.40,38.90 195.75,38.18 197.10,35.50 198.45,31.61 199.80,28.10 200.80,28.51 201.80,26.80 202.80,27.90 203.80,30.80 205.10,38.90 206.15,41.84 207.20,42.30 208.20,43.79 209.20,45.60 210.36,46.26 211.52,45.07 212.68,45.28 213.84,45.50 215.00,46.00 216.00,45.41 217.00,44.67 218.00,45.54 219.00,46.60 220.00,45.50 221.50,44.50" fill="none" stroke="#111" stroke-width="1.9" stroke-linejoin="round" />
<path d="M180.6 32 L180.9 21 L181.8 19.6 L182.8 21 L183.1 31" fill="none" stroke="#333" stroke-width="1.1" />
<path d="M158.2 14 V16.3 H192.8 V14" fill="none" stroke="#111" stroke-width="1.5" />
<line x1="179.20" y1="14.00" x2="179.20" y2="19.00" stroke="#111" stroke-width="1.1" />
<text x="192.50" y="28.60" font-size="14.7" text-anchor="start" font-weight="normal" fill="#111" textLength="23.2" lengthAdjust="spacingAndGlyphs" >76%</text>
<polyline points="156.50,87.00 157.67,86.92 158.83,86.97 160.00,86.30 161.00,86.29 162.00,86.09 163.00,85.97 164.00,85.20 165.00,85.03 166.00,84.12 167.00,83.67 168.00,83.50 169.00,83.01 170.00,82.22 171.00,82.30 172.00,81.60 173.00,81.82 174.00,81.00 175.00,81.75 176.00,81.50 177.00,82.00 178.00,82.94 179.00,83.61 180.00,84.00 181.00,84.96 182.00,85.44 183.00,85.76 184.00,86.30 185.00,86.08 186.00,86.98 187.00,86.64 188.00,87.00 189.00,87.13 190.00,86.87 191.00,87.04 192.00,87.47 193.00,86.66 194.00,87.03 195.00,87.15 196.00,87.04 197.00,87.44 198.00,86.91 199.00,87.41 200.00,87.19 201.00,87.47 202.00,86.59 203.00,86.71 204.00,86.79 205.00,87.41 206.00,86.51 207.00,86.76 208.00,87.22 209.00,87.49 210.00,86.68 211.00,86.94 212.00,87.19 213.00,87.19 214.00,87.25 215.00,87.25 216.00,86.75 217.00,86.76 218.00,86.53 219.00,87.19 220.00,86.71 221.00,86.76 222.00,87.00" fill="none" stroke="#555" stroke-width="1.6" stroke-linejoin="round" />
<polyline points="156.50,86.50 158.25,86.37 160.00,85.50 162.00,84.86 164.00,84.00 166.00,83.07 168.00,82.00 169.50,81.37 171.00,80.50 172.50,79.93 174.00,79.20 175.50,80.01 177.00,80.50 178.50,81.34 180.00,82.50 182.00,83.65 184.00,85.50 186.00,85.65 188.00,86.50 189.60,86.13 191.20,86.43 192.80,86.27 194.40,86.27 196.00,86.60 197.00,83.00 197.80,68.00 198.50,57.00 199.20,55.00 199.90,57.00 200.60,68.00 201.40,83.00 202.50,86.50 204.00,86.50 205.50,86.89 207.00,86.67 208.50,86.35 210.00,86.75 211.50,86.29 213.00,86.23 214.50,86.40 216.00,86.50 217.50,86.73 219.00,86.54 220.50,86.77 222.00,86.60" fill="none" stroke="#111" stroke-width="1.8" stroke-linejoin="round" />
<polygon points="197.00,86.50 198.00,70.00 198.60,59.00 199.20,55.50 199.80,59.00 200.40,70.00 201.40,86.50" fill="#222" stroke="#111" stroke-width="0.6" stroke-linejoin="round" />
<path d="M157.4 56.3 V60 H189.3 V56.3" fill="none" stroke="#111" stroke-width="1.5" />
<text x="161.00" y="74.40" font-size="14.7" text-anchor="start" font-weight="normal" fill="#111" textLength="25.0" lengthAdjust="spacingAndGlyphs" >53%</text>
<polygon points="156.50,138.51 157.25,133.52 158.00,132.81 158.75,133.40 159.50,132.44 160.25,139.13 161.00,126.52 161.75,136.88 162.50,128.86 163.25,135.04 164.00,126.25 164.75,130.04 165.50,124.73 166.25,135.28 167.00,123.61 167.75,133.97 168.50,123.99 169.25,132.04 170.00,119.31 170.75,124.31 171.50,116.19 172.25,129.95 173.00,116.72 173.75,127.40 174.50,117.46 175.25,121.86 176.00,113.89 176.75,118.72 177.50,117.54 178.25,120.85 179.00,117.03 179.75,120.49 180.50,115.45 181.25,119.63 182.00,114.05 182.75,120.02 183.50,113.65 184.25,122.73 185.00,114.00 185.75,122.23 186.50,118.58 187.25,124.55 188.00,120.01 188.75,132.05 189.50,120.51 190.25,135.19 191.00,129.82 191.75,135.68 192.50,126.69 193.25,136.29 194.00,125.82 194.75,137.53 195.50,124.53 196.25,136.39 197.00,127.26 197.75,135.02 198.50,128.56 199.25,138.35 200.00,129.02 200.75,138.65 201.50,132.08 202.25,136.31 203.00,133.03 203.75,139.25 204.50,133.66 205.25,139.51 206.00,136.83 206.75,137.49 207.50,137.98 208.25,138.63 209.00,139.06 209.75,139.64 210.50,139.57 211.25,138.99 212.00,139.17 212.75,139.73 213.50,139.58 214.25,139.77 215.00,139.79 215.75,139.82 216.50,139.03 217.25,139.86 218.00,139.53 218.75,139.19 219.50,139.10 220.25,139.94 221.00,139.15 221.75,139.00 222.00,140.00 221.00,140.00 220.00,139.89 219.00,139.27 218.00,140.96 217.00,138.68 216.00,140.25 215.00,139.56 214.00,140.82 213.00,139.94 212.00,140.30 211.00,138.94 210.00,138.78 209.00,139.47 208.00,138.47 207.00,138.88 206.00,138.53 205.00,139.50 204.00,140.26 203.00,139.34 202.00,138.24 201.00,137.94 200.00,138.50 199.00,139.27 198.00,137.78 197.00,138.76 196.00,138.28 195.00,137.50 194.00,138.67 193.00,138.43 192.00,136.95 191.00,138.26 190.00,138.00 189.00,135.75 188.00,133.00 187.00,132.66 186.00,131.70 185.00,132.00 184.00,131.89 183.00,132.18 182.00,131.33 181.00,130.06 180.00,131.00 179.00,131.16 178.00,131.61 177.00,130.19 176.00,130.71 175.00,131.60 174.00,131.64 173.00,132.92 172.00,130.93 171.00,131.59 170.00,132.00 169.00,133.27 168.00,133.04 167.00,134.19 166.00,135.50 165.00,135.22 164.00,134.15 163.00,135.00 162.00,137.06 161.00,137.91 160.00,139.50 158.83,140.68 157.67,139.27 156.50,140.00" fill="#141414" stroke="none" stroke-width="0" stroke-linejoin="round" />
<polyline points="156.50,138.51 157.25,133.52 158.00,132.81 158.75,133.40 159.50,132.44 160.25,139.13 161.00,126.52 161.75,136.88 162.50,128.86 163.25,135.04 164.00,126.25 164.75,130.04 165.50,124.73 166.25,135.28 167.00,123.61 167.75,133.97 168.50,123.99 169.25,132.04 170.00,119.31 170.75,124.31 171.50,116.19 172.25,129.95 173.00,116.72 173.75,127.40 174.50,117.46 175.25,121.86 176.00,113.89 176.75,118.72 177.50,117.54 178.25,120.85 179.00,117.03 179.75,120.49 180.50,115.45 181.25,119.63 182.00,114.05 182.75,120.02 183.50,113.65 184.25,122.73 185.00,114.00 185.75,122.23 186.50,118.58 187.25,124.55 188.00,120.01 188.75,132.05 189.50,120.51 190.25,135.19 191.00,129.82 191.75,135.68 192.50,126.69 193.25,136.29 194.00,125.82 194.75,137.53 195.50,124.53 196.25,136.39 197.00,127.26 197.75,135.02 198.50,128.56 199.25,138.35 200.00,129.02 200.75,138.65 201.50,132.08 202.25,136.31 203.00,133.03 203.75,139.25 204.50,133.66 205.25,139.51 206.00,136.83 206.75,137.49 207.50,137.98 208.25,138.63 209.00,139.06 209.75,139.64 210.50,139.57 211.25,138.99 212.00,139.17 212.75,139.73 213.50,139.58 214.25,139.77 215.00,139.79 215.75,139.82 216.50,139.03 217.25,139.86 218.00,139.53 218.75,139.19 219.50,139.10 220.25,139.94 221.00,139.15 221.75,139.00" fill="none" stroke="#111" stroke-width="0.9" stroke-linejoin="round" />
<polyline points="156.50,140.00 157.67,139.27 158.83,140.68 160.00,139.50 161.00,137.91 162.00,137.06 163.00,135.00 164.00,134.15 165.00,135.22 166.00,135.50 167.00,134.19 168.00,133.04 169.00,133.27 170.00,132.00 171.00,131.59 172.00,130.93 173.00,132.92 174.00,131.64 175.00,131.60 176.00,130.71 177.00,130.19 178.00,131.61 179.00,131.16 180.00,131.00 181.00,130.06 182.00,131.33 183.00,132.18 184.00,131.89 185.00,132.00 186.00,131.70 187.00,132.66 188.00,133.00 189.00,135.75 190.00,138.00 191.00,138.26 192.00,136.95 193.00,138.43 194.00,138.67 195.00,137.50 196.00,138.28 197.00,138.76 198.00,137.78 199.00,139.27 200.00,138.50 201.00,137.94 202.00,138.24 203.00,139.34 204.00,140.26 205.00,139.50 206.00,138.53 207.00,138.88 208.00,138.47 209.00,139.47 210.00,138.78 211.00,138.94 212.00,140.30 213.00,139.94 214.00,140.82 215.00,139.56 216.00,140.25 217.00,138.68 218.00,140.96 219.00,139.27 220.00,139.89 221.00,140.00 222.00,140.00" fill="none" stroke="#222" stroke-width="1.0" stroke-linejoin="round" />
<path d="M157.4 108.5 V111.2 H191.1 V108.5" fill="none" stroke="#111" stroke-width="1.4" />
<line x1="186.10" y1="107.50" x2="186.10" y2="113.50" stroke="#111" stroke-width="1.1" />
<text x="192.30" y="124.90" font-size="14.7" text-anchor="start" font-weight="normal" fill="#111" textLength="24.0" lengthAdjust="spacingAndGlyphs" >90%</text>
<polyline points="156.50,180.50 157.67,180.70 158.83,179.82 160.00,179.50 161.00,179.99 162.00,179.45 163.00,178.86 164.00,179.50 165.00,179.00 166.00,178.74 167.00,179.80 168.00,179.25 169.00,179.07 170.00,179.50 171.00,179.85 172.00,178.89 173.00,178.79 174.00,178.51 175.00,178.50 176.00,178.90 177.00,178.33 178.00,178.95 179.00,178.89 180.00,179.50 181.00,179.79 182.00,178.70 183.00,179.33 184.00,178.81 185.00,179.00 186.00,179.14 187.00,179.47 188.00,179.85 189.00,179.37 190.00,180.00 191.07,179.52 192.13,179.21 193.20,179.50 194.20,166.00 195.20,153.00 196.00,150.50 196.80,154.00 197.60,165.00 198.40,175.00 199.50,177.00 201.00,176.00 202.50,178.00 204.00,177.00 205.00,178.45 206.00,178.80 207.00,178.55 208.00,178.71 209.00,179.35 210.00,179.50 211.00,179.72 212.00,180.21 213.00,179.34 214.00,179.68 215.00,179.73 216.00,180.35 217.00,180.32 218.00,180.39 219.00,181.09 220.00,180.94 221.00,181.31 222.00,181.00" fill="none" stroke="#222" stroke-width="1.5" stroke-linejoin="round" />
<polyline points="156.50,179.50 158.00,176.00 159.00,177.05 160.00,177.00 160.50,173.50 161.50,176.50 162.75,176.72 164.00,177.50 165.00,177.03 166.00,175.50 167.00,176.14 168.00,177.00 169.25,174.56 170.50,173.20 172.00,176.50 173.00,177.16 174.00,176.36 175.00,177.00 176.00,176.09 177.00,176.08 178.00,176.00 179.00,176.25 180.00,177.56 181.00,177.50 182.00,177.61 183.00,176.74 184.00,176.50 185.45,174.89 186.90,173.20 188.00,177.00 189.25,178.42 190.50,179.00 191.60,179.60 192.60,166.00 193.60,153.00 194.80,148.30 195.80,150.00 196.60,158.00 197.40,170.00 198.50,172.00 199.50,170.50 200.50,173.50 202.00,172.50 203.20,175.00 205.00,174.00 206.00,176.50 207.00,176.52 208.00,175.80 208.90,177.40 210.30,177.93 211.70,178.10 213.00,177.00 214.00,177.88 215.00,178.27 216.00,179.60 217.00,179.41 218.00,180.02 219.00,180.05 220.00,180.43 221.00,180.66 222.00,180.30" fill="none" stroke="#111" stroke-width="1.6" stroke-linejoin="round" />
<path d="M157.4 149 V151.4 H189.3 V149" fill="none" stroke="#111" stroke-width="1.5" />
<text x="159.60" y="166.40" font-size="14.7" text-anchor="start" font-weight="normal" fill="#111" textLength="25.2" lengthAdjust="spacingAndGlyphs" >28%</text>
<rect x="286.50" y="55.50" width="124.40" height="127.30" fill="none" stroke="#b4b4b4" stroke-width="1.0" />
<line x1="286.50" y1="55.50" x2="286.50" y2="183.30" stroke="#777" stroke-width="1.1" />
<line x1="286.00" y1="182.80" x2="411.00" y2="182.80" stroke="#777" stroke-width="1.1" />
<line x1="284.50" y1="182.80" x2="286.50" y2="182.80" stroke="#777" stroke-width="0.9" />
<line x1="284.50" y1="170.10" x2="286.50" y2="170.10" stroke="#777" stroke-width="0.9" />
<line x1="284.50" y1="157.40" x2="286.50" y2="157.40" stroke="#777" stroke-width="0.9" />
<line x1="284.50" y1="144.70" x2="286.50" y2="144.70" stroke="#777" stroke-width="0.9" />
<line x1="284.50" y1="132.00" x2="286.50" y2="132.00" stroke="#777" stroke-width="0.9" />
<line x1="284.50" y1="119.30" x2="286.50" y2="119.30" stroke="#777" stroke-width="0.9" />
<line x1="284.50" y1="106.60" x2="286.50" y2="106.60" stroke="#777" stroke-width="0.9" />
<line x1="284.50" y1="93.90" x2="286.50" y2="93.90" stroke="#777" stroke-width="0.9" />
<line x1="284.50" y1="81.20" x2="286.50" y2="81.20" stroke="#777" stroke-width="0.9" />
<line x1="284.50" y1="68.50" x2="286.50" y2="68.50" stroke="#777" stroke-width="0.9" />
<line x1="284.50" y1="55.80" x2="286.50" y2="55.80" stroke="#777" stroke-width="0.9" />
<text x="281.00" y="188.20" font-size="12.18" text-anchor="end" font-weight="normal" fill="#111" textLength="6.2" lengthAdjust="spacingAndGlyphs" >0</text>
<text x="279.00" y="162.80" font-size="12.18" text-anchor="end" font-weight="normal" fill="#111" textLength="10.6" lengthAdjust="spacingAndGlyphs" >20</text>
<text x="279.00" y="137.40" font-size="12.18" text-anchor="end" font-weight="normal" fill="#111" textLength="10.6" lengthAdjust="spacingAndGlyphs" >40</text>
<text x="279.00" y="112.00" font-size="12.18" text-anchor="end" font-weight="normal" fill="#111" textLength="10.6" lengthAdjust="spacingAndGlyphs" >60</text>
<text x="279.00" y="86.60" font-size="12.18" text-anchor="end" font-weight="normal" fill="#111" textLength="10.6" lengthAdjust="spacingAndGlyphs" >80</text>
<text x="278.40" y="61.20" font-size="12.18" text-anchor="end" font-weight="normal" fill="#111" textLength="14.6" lengthAdjust="spacingAndGlyphs" >100</text>
<rect x="295.50" y="143.81" width="13.20" height="38.99" fill="#9b9b9b" stroke="#505050" stroke-width="1.1" />
<line x1="302.10" y1="143.81" x2="302.10" y2="140.76" stroke="#111" stroke-width="1.4" />
<line x1="299.50" y1="140.76" x2="304.70" y2="140.76" stroke="#111" stroke-width="1.4" />
<rect x="326.10" y="111.30" width="13.60" height="71.50" fill="#9b9b9b" stroke="#505050" stroke-width="1.1" />
<line x1="332.90" y1="111.30" x2="332.90" y2="107.87" stroke="#111" stroke-width="1.4" />
<line x1="330.30" y1="107.87" x2="335.50" y2="107.87" stroke="#111" stroke-width="1.4" />
<rect x="357.00" y="84.12" width="13.60" height="98.68" fill="#9b9b9b" stroke="#505050" stroke-width="1.1" />
<line x1="363.80" y1="84.12" x2="363.80" y2="81.07" stroke="#111" stroke-width="1.4" />
<line x1="361.20" y1="81.07" x2="366.40" y2="81.07" stroke="#111" stroke-width="1.4" />
<rect x="388.10" y="66.85" width="13.70" height="115.95" fill="#9b9b9b" stroke="#505050" stroke-width="1.1" />
<line x1="394.95" y1="66.85" x2="394.95" y2="63.67" stroke="#111" stroke-width="1.4" />
<line x1="392.35" y1="63.67" x2="397.55" y2="63.67" stroke="#111" stroke-width="1.4" />
<line x1="286.50" y1="150.20" x2="411.00" y2="150.20" stroke="#000" stroke-width="3.0" />
<polygon points="413.40,149.50 427.20,140.60 427.20,158.40" fill="#8a8a8a" stroke="#111" stroke-width="1.4" stroke-linejoin="round" />
<text x="434.00" y="148.00" font-size="14.07" text-anchor="start" font-weight="normal" fill="#111" textLength="72.6" lengthAdjust="spacingAndGlyphs" >25% injected</text>
<text x="434.00" y="165.50" font-size="14.07" text-anchor="start" font-weight="normal" fill="#111" textLength="43" lengthAdjust="spacingAndGlyphs" >WT BM</text>
<text x="302.50" y="201.30" font-size="14.91" text-anchor="middle" font-weight="normal" fill="#111" textLength="12.5" lengthAdjust="spacingAndGlyphs" >T1</text>
<text x="333.80" y="201.30" font-size="14.91" text-anchor="middle" font-weight="normal" fill="#111" textLength="17.5" lengthAdjust="spacingAndGlyphs" >FO</text>
<text x="361.90" y="201.30" font-size="14.91" text-anchor="middle" font-weight="normal" fill="#111" textLength="18.8" lengthAdjust="spacingAndGlyphs" >T2-</text>
<text x="361.30" y="218.80" font-size="14.91" text-anchor="middle" font-weight="normal" fill="#111" textLength="25" lengthAdjust="spacingAndGlyphs" >MZP</text>
<text x="396.30" y="201.30" font-size="14.91" text-anchor="middle" font-weight="normal" fill="#111" textLength="20" lengthAdjust="spacingAndGlyphs" >MZ</text>
<text transform="translate(257.8,192) rotate(-90)" font-size="15.2" fill="#111" textLength="154" lengthAdjust="spacingAndGlyphs">% WT (CD45.1) cells</text>
<rect x="42.50" y="265.30" width="36.20" height="130.70" fill="none" stroke="#b9b9b9" stroke-width="1.0" />
<line x1="43.50" y1="272.00" x2="43.50" y2="396.00" stroke="#8a8a8a" stroke-width="1.3" />
<line x1="43.50" y1="396.00" x2="78.70" y2="396.00" stroke="#8a8a8a" stroke-width="1.3" />
<line x1="41.70" y1="382.25" x2="43.50" y2="382.25" stroke="#8a8a8a" stroke-width="0.9" />
<line x1="41.70" y1="354.75" x2="43.50" y2="354.75" stroke="#8a8a8a" stroke-width="0.9" />
<line x1="41.70" y1="327.25" x2="43.50" y2="327.25" stroke="#8a8a8a" stroke-width="0.9" />
<line x1="41.70" y1="299.75" x2="43.50" y2="299.75" stroke="#8a8a8a" stroke-width="0.9" />
<line x1="41.70" y1="272.25" x2="43.50" y2="272.25" stroke="#8a8a8a" stroke-width="0.9" />
<line x1="41.70" y1="396.00" x2="43.50" y2="396.00" stroke="#8a8a8a" stroke-width="0.9" />
<line x1="41.70" y1="368.50" x2="43.50" y2="368.50" stroke="#8a8a8a" stroke-width="0.9" />
<line x1="41.70" y1="341.00" x2="43.50" y2="341.00" stroke="#8a8a8a" stroke-width="0.9" />
<line x1="41.70" y1="313.50" x2="43.50" y2="313.50" stroke="#8a8a8a" stroke-width="0.9" />
<line x1="41.70" y1="286.00" x2="43.50" y2="286.00" stroke="#8a8a8a" stroke-width="0.9" />
<text x="39.80" y="400.00" font-size="11.55" text-anchor="end" font-weight="normal" fill="#111" textLength="6.2" lengthAdjust="spacingAndGlyphs" >0</text>
<text x="37.80" y="372.50" font-size="11.55" text-anchor="end" font-weight="normal" fill="#111" textLength="10.6" lengthAdjust="spacingAndGlyphs" >10</text>
<text x="37.80" y="345.00" font-size="11.55" text-anchor="end" font-weight="normal" fill="#111" textLength="10.6" lengthAdjust="spacingAndGlyphs" >20</text>
<text x="37.80" y="317.50" font-size="11.55" text-anchor="end" font-weight="normal" fill="#111" textLength="10.6" lengthAdjust="spacingAndGlyphs" >30</text>
<text x="37.80" y="290.00" font-size="11.55" text-anchor="end" font-weight="normal" fill="#111" textLength="10.6" lengthAdjust="spacingAndGlyphs" >40</text>
<line x1="55.50" y1="297.82" x2="55.50" y2="283.80" stroke="#2a2a2a" stroke-width="1.4" />
<line x1="53.20" y1="283.80" x2="57.80" y2="283.80" stroke="#2a2a2a" stroke-width="1.4" />
<rect x="50.20" y="297.82" width="10.60" height="98.18" fill="#fff" stroke="#333" stroke-width="1.0" />
<line x1="66.00" y1="318.18" x2="66.00" y2="299.75" stroke="#2a2a2a" stroke-width="1.4" />
<line x1="63.70" y1="299.75" x2="68.30" y2="299.75" stroke="#2a2a2a" stroke-width="1.4" />
<rect x="60.80" y="318.18" width="10.40" height="77.82" fill="#333333" stroke="#222" stroke-width="0.9" />
<line x1="51.30" y1="278.00" x2="69.90" y2="278.00" stroke="#111" stroke-width="2.0" />
<line x1="57.80" y1="271.00" x2="63.80" y2="271.00" stroke="#2a2a2a" stroke-width="1.05" />
<line x1="59.30" y1="268.40" x2="62.30" y2="273.60" stroke="#2a2a2a" stroke-width="1.05" />
<line x1="62.30" y1="268.40" x2="59.30" y2="273.60" stroke="#2a2a2a" stroke-width="1.05" />
<text x="61.15" y="414.70" font-size="14.91" text-anchor="middle" font-weight="normal" fill="#111" textLength="20.5" lengthAdjust="spacingAndGlyphs" >FO</text>
<text transform="translate(19.7,355.6) rotate(-90)" font-size="15.4" fill="#111" textLength="53" lengthAdjust="spacingAndGlyphs">Cells %</text>
<rect x="106.40" y="265.20" width="129.90" height="130.90" fill="none" stroke="#b9b9b9" stroke-width="1.0" />
<line x1="107.10" y1="271.30" x2="107.10" y2="396.10" stroke="#8a8a8a" stroke-width="1.3" />
<line x1="107.10" y1="396.10" x2="236.30" y2="396.10" stroke="#8a8a8a" stroke-width="1.3" />
<line x1="105.30" y1="396.10" x2="107.10" y2="396.10" stroke="#8a8a8a" stroke-width="0.9" />
<line x1="105.30" y1="375.30" x2="107.10" y2="375.30" stroke="#8a8a8a" stroke-width="0.9" />
<line x1="105.30" y1="354.50" x2="107.10" y2="354.50" stroke="#8a8a8a" stroke-width="0.9" />
<line x1="105.30" y1="333.70" x2="107.10" y2="333.70" stroke="#8a8a8a" stroke-width="0.9" />
<line x1="105.30" y1="312.90" x2="107.10" y2="312.90" stroke="#8a8a8a" stroke-width="0.9" />
<line x1="105.30" y1="292.10" x2="107.10" y2="292.10" stroke="#8a8a8a" stroke-width="0.9" />
<line x1="105.30" y1="271.30" x2="107.10" y2="271.30" stroke="#8a8a8a" stroke-width="0.9" />
<text x="101.70" y="400.90" font-size="12.6" text-anchor="end" font-weight="normal" fill="#111" textLength="5.8" lengthAdjust="spacingAndGlyphs" >0</text>
<text x="101.70" y="380.10" font-size="12.6" text-anchor="end" font-weight="normal" fill="#111" textLength="5.8" lengthAdjust="spacingAndGlyphs" >1</text>
<text x="101.70" y="359.30" font-size="12.6" text-anchor="end" font-weight="normal" fill="#111" textLength="5.8" lengthAdjust="spacingAndGlyphs" >2</text>
<text x="101.70" y="338.50" font-size="12.6" text-anchor="end" font-weight="normal" fill="#111" textLength="5.8" lengthAdjust="spacingAndGlyphs" >3</text>
<text x="101.70" y="317.70" font-size="12.6" text-anchor="end" font-weight="normal" fill="#111" textLength="5.8" lengthAdjust="spacingAndGlyphs" >4</text>
<text x="101.70" y="296.90" font-size="12.6" text-anchor="end" font-weight="normal" fill="#111" textLength="5.8" lengthAdjust="spacingAndGlyphs" >5</text>
<text x="101.70" y="276.10" font-size="12.6" text-anchor="end" font-weight="normal" fill="#111" textLength="5.8" lengthAdjust="spacingAndGlyphs" >6</text>
<line x1="118.20" y1="338.28" x2="118.20" y2="320.18" stroke="#2a2a2a" stroke-width="1.4" />
<line x1="115.90" y1="320.18" x2="120.50" y2="320.18" stroke="#2a2a2a" stroke-width="1.4" />
<rect x="113.50" y="338.28" width="9.40" height="57.82" fill="#fff" stroke="#333" stroke-width="1.0" />
<line x1="127.85" y1="312.90" x2="127.85" y2="294.80" stroke="#2a2a2a" stroke-width="1.4" />
<line x1="125.55" y1="294.80" x2="130.15" y2="294.80" stroke="#2a2a2a" stroke-width="1.4" />
<rect x="122.90" y="312.90" width="9.90" height="83.20" fill="#333333" stroke="#222" stroke-width="0.9" />
<line x1="150.50" y1="328.29" x2="150.50" y2="293.97" stroke="#2a2a2a" stroke-width="1.4" />
<line x1="148.20" y1="293.97" x2="152.80" y2="293.97" stroke="#2a2a2a" stroke-width="1.4" />
<rect x="145.80" y="328.29" width="9.40" height="67.81" fill="#fff" stroke="#333" stroke-width="1.0" />
<line x1="159.90" y1="327.04" x2="159.90" y2="302.50" stroke="#2a2a2a" stroke-width="1.4" />
<line x1="157.60" y1="302.50" x2="162.20" y2="302.50" stroke="#2a2a2a" stroke-width="1.4" />
<rect x="155.20" y="327.04" width="9.40" height="69.06" fill="#333333" stroke="#222" stroke-width="0.9" />
<line x1="182.45" y1="372.39" x2="182.45" y2="361.78" stroke="#2a2a2a" stroke-width="1.4" />
<line x1="180.15" y1="361.78" x2="184.75" y2="361.78" stroke="#2a2a2a" stroke-width="1.4" />
<rect x="177.40" y="372.39" width="10.10" height="23.71" fill="#fff" stroke="#333" stroke-width="1.0" />
<line x1="192.20" y1="383.83" x2="192.20" y2="377.80" stroke="#2a2a2a" stroke-width="1.4" />
<line x1="189.90" y1="377.80" x2="194.50" y2="377.80" stroke="#2a2a2a" stroke-width="1.4" />
<rect x="187.50" y="383.83" width="9.40" height="12.27" fill="#333333" stroke="#222" stroke-width="0.9" />
<line x1="214.75" y1="377.17" x2="214.75" y2="367.60" stroke="#2a2a2a" stroke-width="1.4" />
<line x1="212.45" y1="367.60" x2="217.05" y2="367.60" stroke="#2a2a2a" stroke-width="1.4" />
<rect x="209.70" y="377.17" width="10.10" height="18.93" fill="#fff" stroke="#333" stroke-width="1.0" />
<line x1="224.50" y1="387.16" x2="224.50" y2="385.08" stroke="#2a2a2a" stroke-width="1.4" />
<line x1="222.20" y1="385.08" x2="226.80" y2="385.08" stroke="#2a2a2a" stroke-width="1.4" />
<rect x="219.80" y="387.16" width="9.40" height="8.94" fill="#333333" stroke="#222" stroke-width="0.9" />
<line x1="113.10" y1="285.90" x2="131.50" y2="285.90" stroke="#111" stroke-width="2.0" />
<line x1="119.90" y1="279.30" x2="125.90" y2="279.30" stroke="#2a2a2a" stroke-width="1.05" />
<line x1="121.40" y1="276.70" x2="124.40" y2="281.90" stroke="#2a2a2a" stroke-width="1.05" />
<line x1="124.40" y1="276.70" x2="121.40" y2="281.90" stroke="#2a2a2a" stroke-width="1.05" />
<line x1="180.80" y1="357.20" x2="198.90" y2="357.20" stroke="#111" stroke-width="2.0" />
<line x1="183.60" y1="350.10" x2="189.20" y2="350.10" stroke="#2a2a2a" stroke-width="1.05" />
<line x1="185.00" y1="347.68" x2="187.80" y2="352.52" stroke="#2a2a2a" stroke-width="1.05" />
<line x1="187.80" y1="347.68" x2="185.00" y2="352.52" stroke="#2a2a2a" stroke-width="1.05" />
<line x1="189.20" y1="350.10" x2="194.80" y2="350.10" stroke="#2a2a2a" stroke-width="1.05" />
<line x1="190.60" y1="347.68" x2="193.40" y2="352.52" stroke="#2a2a2a" stroke-width="1.05" />
<line x1="193.40" y1="347.68" x2="190.60" y2="352.52" stroke="#2a2a2a" stroke-width="1.05" />
<line x1="213.30" y1="362.20" x2="231.60" y2="362.20" stroke="#111" stroke-width="2.0" />
<line x1="213.65" y1="355.50" x2="219.05" y2="355.50" stroke="#2a2a2a" stroke-width="1.05" />
<line x1="215.00" y1="353.16" x2="217.70" y2="357.84" stroke="#2a2a2a" stroke-width="1.05" />
<line x1="217.70" y1="353.16" x2="215.00" y2="357.84" stroke="#2a2a2a" stroke-width="1.05" />
<line x1="218.75" y1="355.50" x2="224.15" y2="355.50" stroke="#2a2a2a" stroke-width="1.05" />
<line x1="220.10" y1="353.16" x2="222.80" y2="357.84" stroke="#2a2a2a" stroke-width="1.05" />
<line x1="222.80" y1="353.16" x2="220.10" y2="357.84" stroke="#2a2a2a" stroke-width="1.05" />
<line x1="223.85" y1="355.50" x2="229.25" y2="355.50" stroke="#2a2a2a" stroke-width="1.05" />
<line x1="225.20" y1="353.16" x2="227.90" y2="357.84" stroke="#2a2a2a" stroke-width="1.05" />
<line x1="227.90" y1="353.16" x2="225.20" y2="357.84" stroke="#2a2a2a" stroke-width="1.05" />
<rect x="165.90" y="269.00" width="10.40" height="11.80" fill="#fff" stroke="#222" stroke-width="1.4" />
<rect x="165.90" y="285.60" width="10.40" height="12.20" fill="#3a3a3a" stroke="#222" stroke-width="1.2" />
<text x="181.50" y="279.20" font-size="12.81" text-anchor="start" font-weight="normal" fill="#111" textLength="15.4" lengthAdjust="spacingAndGlyphs" >WT</text>
<text x="181.50" y="296.60" font-size="12.81" text-anchor="start" font-weight="normal" fill="#111" textLength="40" lengthAdjust="spacingAndGlyphs" >WASP-/-</text>
<text x="118.85" y="414.70" font-size="14.91" text-anchor="middle" font-weight="normal" fill="#111" textLength="13.5" lengthAdjust="spacingAndGlyphs" >T1</text>
<text x="150.75" y="414.70" font-size="14.91" text-anchor="middle" font-weight="normal" fill="#111" textLength="18.5" lengthAdjust="spacingAndGlyphs" >T2-</text>
<text x="187.50" y="414.70" font-size="14.91" text-anchor="middle" font-weight="normal" fill="#111" textLength="18.5" lengthAdjust="spacingAndGlyphs" >T2-</text>
<text x="222.50" y="414.70" font-size="14.91" text-anchor="middle" font-weight="normal" fill="#111" textLength="21.5" lengthAdjust="spacingAndGlyphs" >MZ</text>
<text x="151.45" y="433.00" font-size="14.91" text-anchor="middle" font-weight="normal" fill="#111" textLength="16.7" lengthAdjust="spacingAndGlyphs" >FO</text>
<text x="188.00" y="433.00" font-size="14.91" text-anchor="middle" font-weight="normal" fill="#111" textLength="27.3" lengthAdjust="spacingAndGlyphs" >MZP</text>
<rect x="318.10" y="264.80" width="35.90" height="131.20" fill="none" stroke="#b9b9b9" stroke-width="1.0" />
<line x1="318.80" y1="271.20" x2="318.80" y2="396.00" stroke="#8a8a8a" stroke-width="1.3" />
<line x1="318.80" y1="396.00" x2="354.00" y2="396.00" stroke="#8a8a8a" stroke-width="1.3" />
<line x1="317.00" y1="396.00" x2="318.80" y2="396.00" stroke="#8a8a8a" stroke-width="0.9" />
<line x1="317.00" y1="375.20" x2="318.80" y2="375.20" stroke="#8a8a8a" stroke-width="0.9" />
<line x1="317.00" y1="354.40" x2="318.80" y2="354.40" stroke="#8a8a8a" stroke-width="0.9" />
<line x1="317.00" y1="333.60" x2="318.80" y2="333.60" stroke="#8a8a8a" stroke-width="0.9" />
<line x1="317.00" y1="312.80" x2="318.80" y2="312.80" stroke="#8a8a8a" stroke-width="0.9" />
<line x1="317.00" y1="292.00" x2="318.80" y2="292.00" stroke="#8a8a8a" stroke-width="0.9" />
<line x1="317.00" y1="271.20" x2="318.80" y2="271.20" stroke="#8a8a8a" stroke-width="0.9" />
<text x="310.80" y="401.80" font-size="11.76" text-anchor="end" font-weight="normal" fill="#111" textLength="5.9" lengthAdjust="spacingAndGlyphs" >0</text>
<text x="310.80" y="381.00" font-size="11.76" text-anchor="end" font-weight="normal" fill="#111" textLength="5.9" lengthAdjust="spacingAndGlyphs" >2</text>
<text x="310.80" y="360.20" font-size="11.76" text-anchor="end" font-weight="normal" fill="#111" textLength="5.9" lengthAdjust="spacingAndGlyphs" >4</text>
<text x="310.80" y="339.40" font-size="11.76" text-anchor="end" font-weight="normal" fill="#111" textLength="5.9" lengthAdjust="spacingAndGlyphs" >6</text>
<text x="310.80" y="318.60" font-size="11.76" text-anchor="end" font-weight="normal" fill="#111" textLength="5.9" lengthAdjust="spacingAndGlyphs" >8</text>
<text x="310.80" y="297.80" font-size="11.76" text-anchor="end" font-weight="normal" fill="#111" textLength="11.8" lengthAdjust="spacingAndGlyphs" >10</text>
<text x="310.80" y="277.00" font-size="11.76" text-anchor="end" font-weight="normal" fill="#111" textLength="11.8" lengthAdjust="spacingAndGlyphs" >12</text>
<line x1="331.30" y1="306.25" x2="331.30" y2="280.25" stroke="#2a2a2a" stroke-width="1.4" />
<line x1="329.00" y1="280.25" x2="333.60" y2="280.25" stroke="#2a2a2a" stroke-width="1.4" />
<rect x="326.00" y="306.25" width="10.60" height="89.75" fill="#fff" stroke="#333" stroke-width="1.0" />
<line x1="341.80" y1="333.70" x2="341.80" y2="307.50" stroke="#2a2a2a" stroke-width="1.4" />
<line x1="339.50" y1="307.50" x2="344.10" y2="307.50" stroke="#2a2a2a" stroke-width="1.4" />
<rect x="336.60" y="333.70" width="10.40" height="62.30" fill="#333333" stroke="#222" stroke-width="0.9" />
<line x1="326.30" y1="275.90" x2="345.60" y2="275.90" stroke="#111" stroke-width="2.0" />
<line x1="333.30" y1="270.60" x2="339.30" y2="270.60" stroke="#2a2a2a" stroke-width="1.05" />
<line x1="334.80" y1="268.00" x2="337.80" y2="273.20" stroke="#2a2a2a" stroke-width="1.05" />
<line x1="337.80" y1="268.00" x2="334.80" y2="273.20" stroke="#2a2a2a" stroke-width="1.05" />
<text x="336.70" y="415.30" font-size="14.91" text-anchor="middle" font-weight="normal" fill="#111" textLength="16.5" lengthAdjust="spacingAndGlyphs" >FO</text>
<text transform="translate(295.4,365.3) rotate(-90)" font-size="15.6" letter-spacing="0.5" fill="#111">Cells x10<tspan dy="-5.5" font-size="11.5">6</tspan></text>
<rect x="386.30" y="264.80" width="131.50" height="131.40" fill="none" stroke="#b9b9b9" stroke-width="1.0" />
<line x1="386.80" y1="271.00" x2="386.80" y2="396.20" stroke="#8a8a8a" stroke-width="1.3" />
<line x1="386.80" y1="396.20" x2="517.80" y2="396.20" stroke="#8a8a8a" stroke-width="1.3" />
<line x1="385.00" y1="378.30" x2="386.80" y2="378.30" stroke="#8a8a8a" stroke-width="0.9" />
<line x1="385.00" y1="342.50" x2="386.80" y2="342.50" stroke="#8a8a8a" stroke-width="0.9" />
<line x1="385.00" y1="306.70" x2="386.80" y2="306.70" stroke="#8a8a8a" stroke-width="0.9" />
<line x1="385.00" y1="270.90" x2="386.80" y2="270.90" stroke="#8a8a8a" stroke-width="0.9" />
<line x1="385.00" y1="396.20" x2="386.80" y2="396.20" stroke="#8a8a8a" stroke-width="0.9" />
<line x1="385.00" y1="360.40" x2="386.80" y2="360.40" stroke="#8a8a8a" stroke-width="0.9" />
<line x1="385.00" y1="324.60" x2="386.80" y2="324.60" stroke="#8a8a8a" stroke-width="0.9" />
<line x1="385.00" y1="288.80" x2="386.80" y2="288.80" stroke="#8a8a8a" stroke-width="0.9" />
<text x="380.20" y="401.00" font-size="11.76" text-anchor="end" font-weight="normal" fill="#111" textLength="6.0" lengthAdjust="spacingAndGlyphs" >0</text>
<text x="378.40" y="365.20" font-size="11.76" text-anchor="end" font-weight="normal" fill="#111" textLength="12.4" lengthAdjust="spacingAndGlyphs" >0.4</text>
<text x="378.40" y="329.40" font-size="11.76" text-anchor="end" font-weight="normal" fill="#111" textLength="12.4" lengthAdjust="spacingAndGlyphs" >0.8</text>
<text x="378.40" y="293.60" font-size="11.76" text-anchor="end" font-weight="normal" fill="#111" textLength="12.4" lengthAdjust="spacingAndGlyphs" >1.2</text>
<line x1="398.20" y1="335.79" x2="398.20" y2="314.22" stroke="#2a2a2a" stroke-width="1.4" />
<line x1="395.90" y1="314.22" x2="400.50" y2="314.22" stroke="#2a2a2a" stroke-width="1.4" />
<rect x="393.30" y="335.79" width="9.80" height="60.41" fill="#fff" stroke="#333" stroke-width="1.0" />
<line x1="407.95" y1="320.57" x2="407.95" y2="291.22" stroke="#2a2a2a" stroke-width="1.4" />
<line x1="405.65" y1="291.22" x2="410.25" y2="291.22" stroke="#2a2a2a" stroke-width="1.4" />
<rect x="403.10" y="320.57" width="9.70" height="75.63" fill="#333333" stroke="#222" stroke-width="0.9" />
<line x1="430.75" y1="328.18" x2="430.75" y2="299.99" stroke="#2a2a2a" stroke-width="1.4" />
<line x1="428.45" y1="299.99" x2="433.05" y2="299.99" stroke="#2a2a2a" stroke-width="1.4" />
<rect x="425.80" y="328.18" width="9.90" height="68.02" fill="#fff" stroke="#333" stroke-width="1.0" />
<line x1="440.55" y1="338.92" x2="440.55" y2="318.78" stroke="#2a2a2a" stroke-width="1.4" />
<line x1="438.25" y1="318.78" x2="442.85" y2="318.78" stroke="#2a2a2a" stroke-width="1.4" />
<rect x="435.70" y="338.92" width="9.70" height="57.28" fill="#333333" stroke="#222" stroke-width="0.9" />
<line x1="463.15" y1="372.03" x2="463.15" y2="361.29" stroke="#2a2a2a" stroke-width="1.4" />
<line x1="460.85" y1="361.29" x2="465.45" y2="361.29" stroke="#2a2a2a" stroke-width="1.4" />
<rect x="458.00" y="372.03" width="10.30" height="24.17" fill="#fff" stroke="#333" stroke-width="1.0" />
<line x1="472.90" y1="385.64" x2="472.90" y2="381.97" stroke="#2a2a2a" stroke-width="1.4" />
<line x1="470.60" y1="381.97" x2="475.20" y2="381.97" stroke="#2a2a2a" stroke-width="1.4" />
<rect x="468.30" y="385.64" width="9.20" height="10.56" fill="#333333" stroke="#222" stroke-width="0.9" />
<line x1="495.20" y1="376.96" x2="495.20" y2="368.45" stroke="#2a2a2a" stroke-width="1.4" />
<line x1="492.90" y1="368.45" x2="497.50" y2="368.45" stroke="#2a2a2a" stroke-width="1.4" />
<rect x="490.40" y="376.96" width="9.60" height="19.24" fill="#fff" stroke="#333" stroke-width="1.0" />
<line x1="505.00" y1="388.77" x2="505.00" y2="386.00" stroke="#2a2a2a" stroke-width="1.4" />
<line x1="502.70" y1="386.00" x2="507.30" y2="386.00" stroke="#2a2a2a" stroke-width="1.4" />
<rect x="500.00" y="388.77" width="10.00" height="7.43" fill="#333333" stroke="#222" stroke-width="0.9" />
<line x1="459.40" y1="355.20" x2="479.00" y2="355.20" stroke="#111" stroke-width="2.0" />
<line x1="460.20" y1="347.90" x2="465.80" y2="347.90" stroke="#2a2a2a" stroke-width="1.05" />
<line x1="461.60" y1="345.48" x2="464.40" y2="350.32" stroke="#2a2a2a" stroke-width="1.05" />
<line x1="464.40" y1="345.48" x2="461.60" y2="350.32" stroke="#2a2a2a" stroke-width="1.05" />
<line x1="465.50" y1="347.90" x2="471.10" y2="347.90" stroke="#2a2a2a" stroke-width="1.05" />
<line x1="466.90" y1="345.48" x2="469.70" y2="350.32" stroke="#2a2a2a" stroke-width="1.05" />
<line x1="469.70" y1="345.48" x2="466.90" y2="350.32" stroke="#2a2a2a" stroke-width="1.05" />
<line x1="470.80" y1="347.90" x2="476.40" y2="347.90" stroke="#2a2a2a" stroke-width="1.05" />
<line x1="472.20" y1="345.48" x2="475.00" y2="350.32" stroke="#2a2a2a" stroke-width="1.05" />
<line x1="475.00" y1="345.48" x2="472.20" y2="350.32" stroke="#2a2a2a" stroke-width="1.05" />
<line x1="490.40" y1="362.20" x2="509.80" y2="362.20" stroke="#111" stroke-width="2.0" />
<line x1="490.30" y1="354.80" x2="495.90" y2="354.80" stroke="#2a2a2a" stroke-width="1.05" />
<line x1="491.70" y1="352.38" x2="494.50" y2="357.22" stroke="#2a2a2a" stroke-width="1.05" />
<line x1="494.50" y1="352.38" x2="491.70" y2="357.22" stroke="#2a2a2a" stroke-width="1.05" />
<line x1="495.60" y1="354.80" x2="501.20" y2="354.80" stroke="#2a2a2a" stroke-width="1.05" />
<line x1="497.00" y1="352.38" x2="499.80" y2="357.22" stroke="#2a2a2a" stroke-width="1.05" />
<line x1="499.80" y1="352.38" x2="497.00" y2="357.22" stroke="#2a2a2a" stroke-width="1.05" />
<line x1="500.90" y1="354.80" x2="506.50" y2="354.80" stroke="#2a2a2a" stroke-width="1.05" />
<line x1="502.30" y1="352.38" x2="505.10" y2="357.22" stroke="#2a2a2a" stroke-width="1.05" />
<line x1="505.10" y1="352.38" x2="502.30" y2="357.22" stroke="#2a2a2a" stroke-width="1.05" />
<rect x="442.80" y="268.90" width="10.90" height="11.10" fill="#fff" stroke="#222" stroke-width="1.4" />
<rect x="442.80" y="285.30" width="10.90" height="11.10" fill="#3a3a3a" stroke="#222" stroke-width="1.2" />
<text x="457.20" y="279.00" font-size="12.81" text-anchor="start" font-weight="normal" fill="#111" textLength="15.4" lengthAdjust="spacingAndGlyphs" >WT</text>
<text x="457.20" y="295.60" font-size="12.81" text-anchor="start" font-weight="normal" fill="#111" textLength="40" lengthAdjust="spacingAndGlyphs" >WASP-/-</text>
<text x="396.95" y="415.30" font-size="14.91" text-anchor="middle" font-weight="normal" fill="#111" textLength="11.5" lengthAdjust="spacingAndGlyphs" >T1</text>
<text x="427.10" y="415.30" font-size="14.91" text-anchor="middle" font-weight="normal" fill="#111" textLength="20.4" lengthAdjust="spacingAndGlyphs" >T2-</text>
<text x="465.60" y="415.30" font-size="14.91" text-anchor="middle" font-weight="normal" fill="#111" textLength="20.4" lengthAdjust="spacingAndGlyphs" >T2-</text>
<text x="501.20" y="415.30" font-size="14.91" text-anchor="middle" font-weight="normal" fill="#111" textLength="20" lengthAdjust="spacingAndGlyphs" >MZ</text>
<text x="429.05" y="432.60" font-size="14.91" text-anchor="middle" font-weight="normal" fill="#111" textLength="16.5" lengthAdjust="spacingAndGlyphs" >FO</text>
<text x="466.15" y="432.60" font-size="14.91" text-anchor="middle" font-weight="normal" fill="#111" textLength="28" lengthAdjust="spacingAndGlyphs" >MZP</text>
<text x="54.80" y="474.80" font-size="14.7" text-anchor="start" font-weight="normal" fill="#111" textLength="29.2" lengthAdjust="spacingAndGlyphs" >BrdU</text>
<text x="93.70" y="474.80" font-size="14.7" text-anchor="start" font-weight="normal" fill="#111" textLength="32.6" lengthAdjust="spacingAndGlyphs" >Pulse</text>
<text x="151.20" y="474.80" font-size="14.7" text-anchor="start" font-weight="normal" fill="#111" textLength="37.6" lengthAdjust="spacingAndGlyphs" >Chase</text>
<line x1="59.00" y1="479.00" x2="125.40" y2="479.00" stroke="#111" stroke-width="2.2" />
<line x1="132.50" y1="478.50" x2="206.20" y2="478.50" stroke="#111" stroke-width="2.2" />
<line x1="59.70" y1="492.00" x2="205.00" y2="492.00" stroke="#111" stroke-width="3.0" />
<line x1="59.70" y1="491.00" x2="59.70" y2="506.00" stroke="#111" stroke-width="2.6" />
<line x1="92.70" y1="491.00" x2="92.70" y2="506.00" stroke="#111" stroke-width="2.6" />
<line x1="127.50" y1="491.00" x2="127.50" y2="506.00" stroke="#111" stroke-width="2.6" />
<line x1="163.80" y1="491.00" x2="163.80" y2="506.00" stroke="#111" stroke-width="2.6" />
<line x1="206.00" y1="491.00" x2="206.00" y2="506.00" stroke="#111" stroke-width="2.6" />
<polyline points="194.20,484.00 206.50,492.00 194.20,500.60" fill="none" stroke="#111" stroke-width="2.8" stroke-linejoin="round" />
<text x="40.30" y="518.30" font-size="13.02" text-anchor="start" font-weight="normal" fill="#111" textLength="18.9" lengthAdjust="spacingAndGlyphs" >Day</text>
<text x="65.00" y="518.50" font-size="13.02" text-anchor="middle" font-weight="normal" fill="#111" textLength="6" lengthAdjust="spacingAndGlyphs" >0</text>
<text x="92.50" y="518.50" font-size="13.02" text-anchor="middle" font-weight="normal" fill="#111" textLength="5.5" lengthAdjust="spacingAndGlyphs" >3</text>
<text x="128.90" y="518.50" font-size="13.02" text-anchor="middle" font-weight="normal" fill="#111" textLength="6" lengthAdjust="spacingAndGlyphs" >6</text>
<text x="163.60" y="518.50" font-size="13.02" text-anchor="middle" font-weight="normal" fill="#111" textLength="6" lengthAdjust="spacingAndGlyphs" >9</text>
<text x="203.80" y="518.50" font-size="13.02" text-anchor="middle" font-weight="normal" fill="#111" textLength="10.5" lengthAdjust="spacingAndGlyphs" >14</text>
<line x1="28.30" y1="566.00" x2="28.30" y2="770.00" stroke="#111" stroke-width="2.0" />
<polygon points="21.30,567.30 28.30,560.20 35.40,567.30" fill="#fff" stroke="#111" stroke-width="1.5" stroke-linejoin="round" />
<text transform="translate(21.3,746.5) rotate(-90)" font-size="15.6" fill="#111" textLength="152.7" lengthAdjust="spacingAndGlyphs">% BrdU positive cells</text>
<line x1="56.30" y1="792.50" x2="485.50" y2="792.50" stroke="#111" stroke-width="2.0" />
<polygon points="485.20,785.20 492.50,792.50 485.20,799.80" fill="#fff" stroke="#111" stroke-width="1.5" stroke-linejoin="round" />
<text x="260.30" y="808.50" font-size="13.65" text-anchor="start" font-weight="normal" fill="#111" textLength="22.5" lengthAdjust="spacingAndGlyphs" >Day</text>
<rect x="63.20" y="564.90" width="122.40" height="82.80" fill="none" stroke="#b5b5b5" stroke-width="1.0" />
<line x1="63.20" y1="564.90" x2="63.20" y2="647.70" stroke="#888" stroke-width="1.2" />
<line x1="63.20" y1="647.70" x2="185.60" y2="647.70" stroke="#888" stroke-width="1.2" />
<line x1="61.40" y1="647.70" x2="63.20" y2="647.70" stroke="#888" stroke-width="0.9" />
<line x1="61.40" y1="631.14" x2="63.20" y2="631.14" stroke="#888" stroke-width="0.9" />
<line x1="61.40" y1="614.58" x2="63.20" y2="614.58" stroke="#888" stroke-width="0.9" />
<line x1="61.40" y1="598.02" x2="63.20" y2="598.02" stroke="#888" stroke-width="0.9" />
<line x1="61.40" y1="581.46" x2="63.20" y2="581.46" stroke="#888" stroke-width="0.9" />
<line x1="61.40" y1="564.90" x2="63.20" y2="564.90" stroke="#888" stroke-width="0.9" />
<text x="56.50" y="651.40" font-size="11.34" text-anchor="end" font-weight="normal" fill="#111" textLength="5.6" lengthAdjust="spacingAndGlyphs" >0</text>
<text x="56.50" y="634.84" font-size="11.34" text-anchor="end" font-weight="normal" fill="#111" textLength="11.2" lengthAdjust="spacingAndGlyphs" >20</text>
<text x="56.50" y="618.28" font-size="11.34" text-anchor="end" font-weight="normal" fill="#111" textLength="11.2" lengthAdjust="spacingAndGlyphs" >40</text>
<text x="56.50" y="601.72" font-size="11.34" text-anchor="end" font-weight="normal" fill="#111" textLength="11.2" lengthAdjust="spacingAndGlyphs" >60</text>
<text x="56.50" y="585.16" font-size="11.34" text-anchor="end" font-weight="normal" fill="#111" textLength="11.2" lengthAdjust="spacingAndGlyphs" >80</text>
<text x="56.50" y="568.60" font-size="11.34" text-anchor="end" font-weight="normal" fill="#111" textLength="16.799999999999997" lengthAdjust="spacingAndGlyphs" >100</text>
<line x1="90.50" y1="610.44" x2="90.50" y2="587.26" stroke="#111" stroke-width="1.8" />
<line x1="87.40" y1="610.44" x2="93.60" y2="610.44" stroke="#111" stroke-width="1.9" />
<line x1="87.40" y1="587.26" x2="93.60" y2="587.26" stroke="#111" stroke-width="1.9" />
<line x1="117.50" y1="575.66" x2="117.50" y2="572.35" stroke="#111" stroke-width="1.8" />
<line x1="114.40" y1="575.66" x2="120.60" y2="575.66" stroke="#111" stroke-width="1.9" />
<line x1="114.40" y1="572.35" x2="120.60" y2="572.35" stroke="#111" stroke-width="1.9" />
<line x1="143.90" y1="580.63" x2="143.90" y2="575.66" stroke="#111" stroke-width="1.8" />
<line x1="140.80" y1="580.63" x2="147.00" y2="580.63" stroke="#111" stroke-width="1.9" />
<line x1="140.80" y1="575.66" x2="147.00" y2="575.66" stroke="#111" stroke-width="1.9" />
<path d="M90.50 597.19 C95.00 593.33 108.60 577.18 117.50 574.01 C126.40 570.83 135.02 566.28 143.90 578.15 C152.78 590.02 166.32 634.04 170.80 645.22" fill="none" stroke="#111" stroke-width="2.2" />
<line x1="170.80" y1="646.87" x2="170.80" y2="642.73" stroke="#111" stroke-width="1.8" />
<line x1="167.70" y1="646.87" x2="173.90" y2="646.87" stroke="#111" stroke-width="1.9" />
<line x1="167.70" y1="642.73" x2="173.90" y2="642.73" stroke="#111" stroke-width="1.9" />
<path d="M90.50 593.05 C95.00 589.74 108.60 575.66 117.50 573.18 C126.40 570.70 135.02 566.14 143.90 578.15 C152.78 590.15 166.32 634.04 170.80 645.22" fill="none" stroke="#e31b1b" stroke-width="2.2" />
<polygon points="90.50,593.79 93.90,597.19 90.50,600.59 87.10,597.19" fill="#111"/>
<polygon points="117.50,570.61 120.90,574.01 117.50,577.41 114.10,574.01" fill="#111"/>
<polygon points="143.90,574.75 147.30,578.15 143.90,581.55 140.50,578.15" fill="#111"/>
<polygon points="170.80,641.82 174.20,645.22 170.80,648.62 167.40,645.22" fill="#111"/>
<rect x="87.50" y="590.05" width="6.00" height="6.00" fill="#e31b1b" stroke="none" stroke-width="1" />
<rect x="114.50" y="570.18" width="6.00" height="6.00" fill="#e31b1b" stroke="none" stroke-width="1" />
<rect x="140.90" y="575.15" width="6.00" height="6.00" fill="#e31b1b" stroke="none" stroke-width="1" />
<rect x="167.80" y="642.22" width="6.00" height="6.00" fill="#e31b1b" stroke="none" stroke-width="1" />
<text x="90.50" y="662.00" font-size="11.87" text-anchor="middle" font-weight="normal" fill="#111" textLength="6.3" lengthAdjust="spacingAndGlyphs" >3</text>
<text x="117.50" y="662.00" font-size="11.87" text-anchor="middle" font-weight="normal" fill="#111" textLength="6.3" lengthAdjust="spacingAndGlyphs" >6</text>
<text x="143.90" y="662.00" font-size="11.87" text-anchor="middle" font-weight="normal" fill="#111" textLength="6.3" lengthAdjust="spacingAndGlyphs" >9</text>
<text x="170.80" y="662.00" font-size="11.87" text-anchor="middle" font-weight="normal" fill="#111" textLength="12.6" lengthAdjust="spacingAndGlyphs" >14</text>
<text x="117.85" y="559.60" font-size="16.07" text-anchor="middle" font-weight="normal" fill="#111" textLength="13.2" lengthAdjust="spacingAndGlyphs" >T1</text>
<line x1="67.30" y1="625.40" x2="85.50" y2="625.40" stroke="#111" stroke-width="3.6" />
<polygon points="76.5,621.5 80.4,625.4 76.5,629.3 72.6,625.4" fill="#111"/>
<line x1="67.30" y1="639.20" x2="85.50" y2="639.20" stroke="#e31b1b" stroke-width="3.6" />
<rect x="75.80" y="637.50" width="6.00" height="5.60" fill="#e31b1b" stroke="none" stroke-width="1" />
<text x="92.20" y="629.90" font-size="13.02" text-anchor="start" font-weight="normal" fill="#111" textLength="16.6" lengthAdjust="spacingAndGlyphs" >WT</text>
<text x="92.20" y="644.60" font-size="13.02" text-anchor="start" font-weight="normal" fill="#111" textLength="43.5" lengthAdjust="spacingAndGlyphs" >WASP-/-</text>
<rect x="218.80" y="564.70" width="119.40" height="83.20" fill="none" stroke="#b5b5b5" stroke-width="1.0" />
<line x1="218.80" y1="564.70" x2="218.80" y2="647.90" stroke="#888" stroke-width="1.2" />
<line x1="218.80" y1="647.90" x2="338.20" y2="647.90" stroke="#888" stroke-width="1.2" />
<line x1="217.00" y1="647.90" x2="218.80" y2="647.90" stroke="#888" stroke-width="0.9" />
<line x1="217.00" y1="631.26" x2="218.80" y2="631.26" stroke="#888" stroke-width="0.9" />
<line x1="217.00" y1="614.62" x2="218.80" y2="614.62" stroke="#888" stroke-width="0.9" />
<line x1="217.00" y1="597.98" x2="218.80" y2="597.98" stroke="#888" stroke-width="0.9" />
<line x1="217.00" y1="581.34" x2="218.80" y2="581.34" stroke="#888" stroke-width="0.9" />
<line x1="217.00" y1="564.70" x2="218.80" y2="564.70" stroke="#888" stroke-width="0.9" />
<text x="211.40" y="652.80" font-size="11.34" text-anchor="end" font-weight="normal" fill="#111" textLength="5.6" lengthAdjust="spacingAndGlyphs" >0</text>
<text x="211.40" y="636.16" font-size="11.34" text-anchor="end" font-weight="normal" fill="#111" textLength="11.2" lengthAdjust="spacingAndGlyphs" >20</text>
<text x="211.40" y="619.52" font-size="11.34" text-anchor="end" font-weight="normal" fill="#111" textLength="11.2" lengthAdjust="spacingAndGlyphs" >40</text>
<text x="211.40" y="602.88" font-size="11.34" text-anchor="end" font-weight="normal" fill="#111" textLength="11.2" lengthAdjust="spacingAndGlyphs" >60</text>
<text x="211.40" y="586.24" font-size="11.34" text-anchor="end" font-weight="normal" fill="#111" textLength="11.2" lengthAdjust="spacingAndGlyphs" >80</text>
<text x="211.40" y="569.60" font-size="11.34" text-anchor="end" font-weight="normal" fill="#111" textLength="16.799999999999997" lengthAdjust="spacingAndGlyphs" >100</text>
<line x1="246.50" y1="632.92" x2="246.50" y2="613.79" stroke="#111" stroke-width="1.8" />
<line x1="243.40" y1="632.92" x2="249.60" y2="632.92" stroke="#111" stroke-width="1.9" />
<line x1="243.40" y1="613.79" x2="249.60" y2="613.79" stroke="#111" stroke-width="1.9" />
<line x1="272.70" y1="592.16" x2="272.70" y2="587.16" stroke="#111" stroke-width="1.8" />
<line x1="269.60" y1="592.16" x2="275.80" y2="592.16" stroke="#111" stroke-width="1.9" />
<line x1="269.60" y1="587.16" x2="275.80" y2="587.16" stroke="#111" stroke-width="1.9" />
<line x1="299.50" y1="583.00" x2="299.50" y2="574.68" stroke="#111" stroke-width="1.8" />
<line x1="296.40" y1="583.00" x2="302.60" y2="583.00" stroke="#111" stroke-width="1.9" />
<line x1="296.40" y1="574.68" x2="302.60" y2="574.68" stroke="#111" stroke-width="1.9" />
<line x1="325.90" y1="647.90" x2="325.90" y2="644.57" stroke="#111" stroke-width="1.8" />
<line x1="322.80" y1="647.90" x2="329.00" y2="647.90" stroke="#111" stroke-width="1.9" />
<line x1="322.80" y1="644.57" x2="329.00" y2="644.57" stroke="#111" stroke-width="1.9" />
<path d="M246.50 622.94 C250.87 617.39 263.87 597.01 272.70 589.66 C281.53 582.31 290.63 569.41 299.50 578.84 C308.37 588.27 321.50 635.00 325.90 646.24" fill="none" stroke="#111" stroke-width="2.2" />
<line x1="246.50" y1="609.63" x2="246.50" y2="595.48" stroke="#111" stroke-width="1.8" />
<line x1="243.40" y1="609.63" x2="249.60" y2="609.63" stroke="#111" stroke-width="1.9" />
<line x1="243.40" y1="595.48" x2="249.60" y2="595.48" stroke="#111" stroke-width="1.9" />
<line x1="272.70" y1="592.99" x2="272.70" y2="587.16" stroke="#111" stroke-width="1.8" />
<line x1="269.60" y1="592.99" x2="275.80" y2="592.99" stroke="#111" stroke-width="1.9" />
<line x1="269.60" y1="587.16" x2="275.80" y2="587.16" stroke="#111" stroke-width="1.9" />
<line x1="299.50" y1="580.51" x2="299.50" y2="572.19" stroke="#111" stroke-width="1.8" />
<line x1="296.40" y1="580.51" x2="302.60" y2="580.51" stroke="#111" stroke-width="1.9" />
<line x1="296.40" y1="572.19" x2="302.60" y2="572.19" stroke="#111" stroke-width="1.9" />
<line x1="325.90" y1="644.57" x2="325.90" y2="639.58" stroke="#111" stroke-width="1.8" />
<line x1="322.80" y1="644.57" x2="329.00" y2="644.57" stroke="#111" stroke-width="1.9" />
<line x1="322.80" y1="639.58" x2="329.00" y2="639.58" stroke="#111" stroke-width="1.9" />
<path d="M246.50 602.97 C250.87 600.75 263.87 594.10 272.70 589.66 C281.53 585.22 290.63 567.61 299.50 576.35 C308.37 585.08 321.50 631.12 325.90 642.08" fill="none" stroke="#e31b1b" stroke-width="2.2" />
<polygon points="246.50,619.54 249.90,622.94 246.50,626.34 243.10,622.94" fill="#111"/>
<polygon points="272.70,586.26 276.10,589.66 272.70,593.06 269.30,589.66" fill="#111"/>
<polygon points="299.50,575.44 302.90,578.84 299.50,582.24 296.10,578.84" fill="#111"/>
<polygon points="325.90,642.84 329.30,646.24 325.90,649.64 322.50,646.24" fill="#111"/>
<rect x="243.50" y="599.97" width="6.00" height="6.00" fill="#e31b1b" stroke="none" stroke-width="1" />
<rect x="269.70" y="586.66" width="6.00" height="6.00" fill="#e31b1b" stroke="none" stroke-width="1" />
<rect x="296.50" y="573.35" width="6.00" height="6.00" fill="#e31b1b" stroke="none" stroke-width="1" />
<rect x="322.90" y="639.08" width="6.00" height="6.00" fill="#e31b1b" stroke="none" stroke-width="1" />
<line x1="243.50" y1="588.83" x2="249.50" y2="588.83" stroke="#2a2a2a" stroke-width="1.05" />
<line x1="245.00" y1="586.23" x2="248.00" y2="591.43" stroke="#2a2a2a" stroke-width="1.05" />
<line x1="248.00" y1="586.23" x2="245.00" y2="591.43" stroke="#2a2a2a" stroke-width="1.05" />
<text x="246.50" y="662.00" font-size="11.87" text-anchor="middle" font-weight="normal" fill="#111" textLength="6.3" lengthAdjust="spacingAndGlyphs" >3</text>
<text x="272.70" y="662.00" font-size="11.87" text-anchor="middle" font-weight="normal" fill="#111" textLength="6.3" lengthAdjust="spacingAndGlyphs" >6</text>
<text x="299.50" y="662.00" font-size="11.87" text-anchor="middle" font-weight="normal" fill="#111" textLength="6.3" lengthAdjust="spacingAndGlyphs" >9</text>
<text x="325.90" y="662.00" font-size="11.87" text-anchor="middle" font-weight="normal" fill="#111" textLength="12.6" lengthAdjust="spacingAndGlyphs" >14</text>
<text x="276.85" y="559.60" font-size="16.07" text-anchor="middle" font-weight="normal" fill="#111" textLength="37.6" lengthAdjust="spacingAndGlyphs" >T2-FO</text>
<rect x="372.90" y="564.90" width="119.40" height="83.10" fill="none" stroke="#b5b5b5" stroke-width="1.0" />
<line x1="372.90" y1="564.90" x2="372.90" y2="648.00" stroke="#888" stroke-width="1.2" />
<line x1="372.90" y1="648.00" x2="492.30" y2="648.00" stroke="#888" stroke-width="1.2" />
<line x1="371.10" y1="648.00" x2="372.90" y2="648.00" stroke="#888" stroke-width="0.9" />
<line x1="371.10" y1="629.50" x2="372.90" y2="629.50" stroke="#888" stroke-width="0.9" />
<line x1="371.10" y1="611.00" x2="372.90" y2="611.00" stroke="#888" stroke-width="0.9" />
<line x1="371.10" y1="592.50" x2="372.90" y2="592.50" stroke="#888" stroke-width="0.9" />
<line x1="371.10" y1="574.00" x2="372.90" y2="574.00" stroke="#888" stroke-width="0.9" />
<text x="367.00" y="651.70" font-size="11.34" text-anchor="end" font-weight="normal" fill="#111" textLength="5.6" lengthAdjust="spacingAndGlyphs" >0</text>
<text x="367.00" y="633.20" font-size="11.34" text-anchor="end" font-weight="normal" fill="#111" textLength="5.6" lengthAdjust="spacingAndGlyphs" >4</text>
<text x="367.00" y="614.70" font-size="11.34" text-anchor="end" font-weight="normal" fill="#111" textLength="5.6" lengthAdjust="spacingAndGlyphs" >8</text>
<text x="367.00" y="596.20" font-size="11.34" text-anchor="end" font-weight="normal" fill="#111" textLength="11.2" lengthAdjust="spacingAndGlyphs" >12</text>
<text x="367.00" y="577.70" font-size="11.34" text-anchor="end" font-weight="normal" fill="#111" textLength="11.2" lengthAdjust="spacingAndGlyphs" >16</text>
<line x1="426.50" y1="622.10" x2="426.50" y2="604.99" stroke="#111" stroke-width="1.8" />
<line x1="423.40" y1="622.10" x2="429.60" y2="622.10" stroke="#111" stroke-width="1.9" />
<line x1="423.40" y1="604.99" x2="429.60" y2="604.99" stroke="#111" stroke-width="1.9" />
<line x1="452.50" y1="630.89" x2="452.50" y2="606.38" stroke="#111" stroke-width="1.8" />
<line x1="449.40" y1="630.89" x2="455.60" y2="630.89" stroke="#111" stroke-width="1.9" />
<line x1="449.40" y1="606.38" x2="455.60" y2="606.38" stroke="#111" stroke-width="1.9" />
<line x1="478.50" y1="617.01" x2="478.50" y2="598.98" stroke="#111" stroke-width="1.8" />
<line x1="475.40" y1="617.01" x2="481.60" y2="617.01" stroke="#111" stroke-width="1.9" />
<line x1="475.40" y1="598.98" x2="481.60" y2="598.98" stroke="#111" stroke-width="1.9" />
<path d="M399.50 640.14 C404.00 635.67 417.67 616.63 426.50 613.31 C435.33 610.00 443.83 621.17 452.50 620.25 C461.17 619.33 474.17 609.84 478.50 607.76" fill="none" stroke="#111" stroke-width="2.2" />
<line x1="399.50" y1="631.35" x2="399.50" y2="625.34" stroke="#111" stroke-width="1.8" />
<line x1="396.40" y1="631.35" x2="402.60" y2="631.35" stroke="#111" stroke-width="1.9" />
<line x1="396.40" y1="625.34" x2="402.60" y2="625.34" stroke="#111" stroke-width="1.9" />
<line x1="426.50" y1="623.95" x2="426.50" y2="617.94" stroke="#111" stroke-width="1.8" />
<line x1="423.40" y1="623.95" x2="429.60" y2="623.95" stroke="#111" stroke-width="1.9" />
<line x1="423.40" y1="617.94" x2="429.60" y2="617.94" stroke="#111" stroke-width="1.9" />
<line x1="452.50" y1="622.56" x2="452.50" y2="617.94" stroke="#111" stroke-width="1.8" />
<line x1="449.40" y1="622.56" x2="455.60" y2="622.56" stroke="#111" stroke-width="1.9" />
<line x1="449.40" y1="617.94" x2="455.60" y2="617.94" stroke="#111" stroke-width="1.9" />
<line x1="478.50" y1="585.56" x2="478.50" y2="575.39" stroke="#111" stroke-width="1.8" />
<line x1="475.40" y1="585.56" x2="481.60" y2="585.56" stroke="#111" stroke-width="1.9" />
<line x1="475.40" y1="575.39" x2="481.60" y2="575.39" stroke="#111" stroke-width="1.9" />
<path d="M399.50 629.04 C404.00 627.73 417.67 622.64 426.50 621.17 C435.33 619.71 443.83 626.80 452.50 620.25 C461.17 613.70 474.17 588.26 478.50 581.86" fill="none" stroke="#e31b1b" stroke-width="2.2" />
<polygon points="399.50,636.74 402.90,640.14 399.50,643.54 396.10,640.14" fill="#111"/>
<polygon points="426.50,609.91 429.90,613.31 426.50,616.71 423.10,613.31" fill="#111"/>
<polygon points="452.50,616.85 455.90,620.25 452.50,623.65 449.10,620.25" fill="#111"/>
<polygon points="478.50,604.36 481.90,607.76 478.50,611.16 475.10,607.76" fill="#111"/>
<rect x="396.50" y="626.04" width="6.00" height="6.00" fill="#e31b1b" stroke="none" stroke-width="1" />
<rect x="423.50" y="618.17" width="6.00" height="6.00" fill="#e31b1b" stroke="none" stroke-width="1" />
<rect x="449.50" y="617.25" width="6.00" height="6.00" fill="#e31b1b" stroke="none" stroke-width="1" />
<rect x="475.50" y="578.86" width="6.00" height="6.00" fill="#e31b1b" stroke="none" stroke-width="1" />
<line x1="396.50" y1="618.86" x2="402.50" y2="618.86" stroke="#2a2a2a" stroke-width="1.05" />
<line x1="398.00" y1="616.26" x2="401.00" y2="621.46" stroke="#2a2a2a" stroke-width="1.05" />
<line x1="401.00" y1="616.26" x2="398.00" y2="621.46" stroke="#2a2a2a" stroke-width="1.05" />
<line x1="475.50" y1="571.69" x2="481.50" y2="571.69" stroke="#2a2a2a" stroke-width="1.05" />
<line x1="477.00" y1="569.09" x2="480.00" y2="574.29" stroke="#2a2a2a" stroke-width="1.05" />
<line x1="480.00" y1="569.09" x2="477.00" y2="574.29" stroke="#2a2a2a" stroke-width="1.05" />
<text x="399.50" y="662.00" font-size="11.87" text-anchor="middle" font-weight="normal" fill="#111" textLength="6.3" lengthAdjust="spacingAndGlyphs" >3</text>
<text x="426.50" y="662.00" font-size="11.87" text-anchor="middle" font-weight="normal" fill="#111" textLength="6.3" lengthAdjust="spacingAndGlyphs" >6</text>
<text x="452.50" y="662.00" font-size="11.87" text-anchor="middle" font-weight="normal" fill="#111" textLength="6.3" lengthAdjust="spacingAndGlyphs" >9</text>
<text x="478.50" y="662.00" font-size="11.87" text-anchor="middle" font-weight="normal" fill="#111" textLength="12.6" lengthAdjust="spacingAndGlyphs" >14</text>
<text x="430.35" y="559.80" font-size="16.07" text-anchor="middle" font-weight="normal" fill="#111" textLength="19.2" lengthAdjust="spacingAndGlyphs" >FO</text>
<rect x="143.30" y="685.60" width="115.90" height="83.20" fill="none" stroke="#b5b5b5" stroke-width="1.0" />
<line x1="143.30" y1="685.60" x2="143.30" y2="768.80" stroke="#888" stroke-width="1.2" />
<line x1="143.30" y1="768.80" x2="259.20" y2="768.80" stroke="#888" stroke-width="1.2" />
<line x1="141.50" y1="768.80" x2="143.30" y2="768.80" stroke="#888" stroke-width="0.9" />
<line x1="141.50" y1="754.95" x2="143.30" y2="754.95" stroke="#888" stroke-width="0.9" />
<line x1="141.50" y1="741.10" x2="143.30" y2="741.10" stroke="#888" stroke-width="0.9" />
<line x1="141.50" y1="727.25" x2="143.30" y2="727.25" stroke="#888" stroke-width="0.9" />
<line x1="141.50" y1="713.40" x2="143.30" y2="713.40" stroke="#888" stroke-width="0.9" />
<line x1="141.50" y1="699.55" x2="143.30" y2="699.55" stroke="#888" stroke-width="0.9" />
<line x1="141.50" y1="685.70" x2="143.30" y2="685.70" stroke="#888" stroke-width="0.9" />
<text x="137.40" y="774.10" font-size="11.34" text-anchor="end" font-weight="normal" fill="#111" textLength="5.6" lengthAdjust="spacingAndGlyphs" >0</text>
<text x="137.40" y="760.25" font-size="11.34" text-anchor="end" font-weight="normal" fill="#111" textLength="5.6" lengthAdjust="spacingAndGlyphs" >5</text>
<text x="137.40" y="746.40" font-size="11.34" text-anchor="end" font-weight="normal" fill="#111" textLength="11.2" lengthAdjust="spacingAndGlyphs" >10</text>
<text x="137.40" y="732.55" font-size="11.34" text-anchor="end" font-weight="normal" fill="#111" textLength="11.2" lengthAdjust="spacingAndGlyphs" >15</text>
<text x="137.40" y="718.70" font-size="11.34" text-anchor="end" font-weight="normal" fill="#111" textLength="11.2" lengthAdjust="spacingAndGlyphs" >20</text>
<text x="137.40" y="704.85" font-size="11.34" text-anchor="end" font-weight="normal" fill="#111" textLength="11.2" lengthAdjust="spacingAndGlyphs" >25</text>
<text x="137.40" y="691.00" font-size="11.34" text-anchor="end" font-weight="normal" fill="#111" textLength="11.2" lengthAdjust="spacingAndGlyphs" >30</text>
<line x1="197.60" y1="742.21" x2="197.60" y2="716.45" stroke="#111" stroke-width="1.8" />
<line x1="194.50" y1="742.21" x2="200.70" y2="742.21" stroke="#111" stroke-width="1.9" />
<line x1="194.50" y1="716.45" x2="200.70" y2="716.45" stroke="#111" stroke-width="1.9" />
<line x1="223.90" y1="741.10" x2="223.90" y2="722.26" stroke="#111" stroke-width="1.8" />
<line x1="220.80" y1="741.10" x2="227.00" y2="741.10" stroke="#111" stroke-width="1.9" />
<line x1="220.80" y1="722.26" x2="227.00" y2="722.26" stroke="#111" stroke-width="1.9" />
<line x1="249.50" y1="748.86" x2="249.50" y2="737.78" stroke="#111" stroke-width="1.8" />
<line x1="246.40" y1="748.86" x2="252.60" y2="748.86" stroke="#111" stroke-width="1.9" />
<line x1="246.40" y1="737.78" x2="252.60" y2="737.78" stroke="#111" stroke-width="1.9" />
<path d="M171.00 761.04 C175.43 755.73 188.78 734.04 197.60 729.19 C206.42 724.34 215.25 729.51 223.90 731.96 C232.55 734.41 245.23 741.88 249.50 743.87" fill="none" stroke="#111" stroke-width="2.2" />
<line x1="171.00" y1="742.21" x2="171.00" y2="731.68" stroke="#111" stroke-width="1.8" />
<line x1="167.90" y1="742.21" x2="174.10" y2="742.21" stroke="#111" stroke-width="1.9" />
<line x1="167.90" y1="731.68" x2="174.10" y2="731.68" stroke="#111" stroke-width="1.9" />
<line x1="197.60" y1="730.02" x2="197.60" y2="717.83" stroke="#111" stroke-width="1.8" />
<line x1="194.50" y1="730.02" x2="200.70" y2="730.02" stroke="#111" stroke-width="1.9" />
<line x1="194.50" y1="717.83" x2="200.70" y2="717.83" stroke="#111" stroke-width="1.9" />
<line x1="223.90" y1="724.48" x2="223.90" y2="700.66" stroke="#111" stroke-width="1.8" />
<line x1="220.80" y1="724.48" x2="227.00" y2="724.48" stroke="#111" stroke-width="1.9" />
<line x1="220.80" y1="700.66" x2="227.00" y2="700.66" stroke="#111" stroke-width="1.9" />
<line x1="249.50" y1="709.80" x2="249.50" y2="697.33" stroke="#111" stroke-width="1.8" />
<line x1="246.40" y1="709.80" x2="252.60" y2="709.80" stroke="#111" stroke-width="1.9" />
<line x1="246.40" y1="697.33" x2="252.60" y2="697.33" stroke="#111" stroke-width="1.9" />
<path d="M171.00 736.94 C175.43 734.87 188.78 728.40 197.60 724.48 C206.42 720.56 215.25 716.86 223.90 713.40 C232.55 709.94 245.23 705.32 249.50 703.70" fill="none" stroke="#e31b1b" stroke-width="2.2" />
<polygon points="171.00,757.64 174.40,761.04 171.00,764.44 167.60,761.04" fill="#111"/>
<polygon points="197.60,725.79 201.00,729.19 197.60,732.59 194.20,729.19" fill="#111"/>
<polygon points="223.90,728.56 227.30,731.96 223.90,735.36 220.50,731.96" fill="#111"/>
<polygon points="249.50,740.47 252.90,743.87 249.50,747.27 246.10,743.87" fill="#111"/>
<rect x="168.00" y="733.94" width="6.00" height="6.00" fill="#e31b1b" stroke="none" stroke-width="1" />
<rect x="194.60" y="721.48" width="6.00" height="6.00" fill="#e31b1b" stroke="none" stroke-width="1" />
<rect x="220.90" y="710.40" width="6.00" height="6.00" fill="#e31b1b" stroke="none" stroke-width="1" />
<rect x="246.50" y="700.70" width="6.00" height="6.00" fill="#e31b1b" stroke="none" stroke-width="1" />
<line x1="168.00" y1="724.20" x2="174.00" y2="724.20" stroke="#2a2a2a" stroke-width="1.05" />
<line x1="169.50" y1="721.60" x2="172.50" y2="726.80" stroke="#2a2a2a" stroke-width="1.05" />
<line x1="172.50" y1="721.60" x2="169.50" y2="726.80" stroke="#2a2a2a" stroke-width="1.05" />
<line x1="246.50" y1="692.35" x2="252.50" y2="692.35" stroke="#2a2a2a" stroke-width="1.05" />
<line x1="248.00" y1="689.75" x2="251.00" y2="694.95" stroke="#2a2a2a" stroke-width="1.05" />
<line x1="251.00" y1="689.75" x2="248.00" y2="694.95" stroke="#2a2a2a" stroke-width="1.05" />
<text x="171.00" y="781.30" font-size="11.87" text-anchor="middle" font-weight="normal" fill="#111" textLength="6.3" lengthAdjust="spacingAndGlyphs" >3</text>
<text x="197.60" y="781.30" font-size="11.87" text-anchor="middle" font-weight="normal" fill="#111" textLength="6.3" lengthAdjust="spacingAndGlyphs" >6</text>
<text x="223.90" y="781.30" font-size="11.87" text-anchor="middle" font-weight="normal" fill="#111" textLength="6.3" lengthAdjust="spacingAndGlyphs" >9</text>
<text x="249.50" y="781.30" font-size="11.87" text-anchor="middle" font-weight="normal" fill="#111" textLength="12.6" lengthAdjust="spacingAndGlyphs" >14</text>
<text x="204.50" y="681.20" font-size="16.07" text-anchor="middle" font-weight="normal" fill="#111" textLength="49.3" lengthAdjust="spacingAndGlyphs" >T2-MZP</text>
<rect x="299.50" y="684.60" width="120.10" height="84.00" fill="none" stroke="#b5b5b5" stroke-width="1.0" />
<line x1="299.50" y1="684.60" x2="299.50" y2="768.60" stroke="#888" stroke-width="1.2" />
<line x1="299.50" y1="768.60" x2="419.60" y2="768.60" stroke="#888" stroke-width="1.2" />
<line x1="297.70" y1="768.60" x2="299.50" y2="768.60" stroke="#888" stroke-width="0.9" />
<line x1="297.70" y1="752.00" x2="299.50" y2="752.00" stroke="#888" stroke-width="0.9" />
<line x1="297.70" y1="735.40" x2="299.50" y2="735.40" stroke="#888" stroke-width="0.9" />
<line x1="297.70" y1="718.80" x2="299.50" y2="718.80" stroke="#888" stroke-width="0.9" />
<line x1="297.70" y1="702.20" x2="299.50" y2="702.20" stroke="#888" stroke-width="0.9" />
<line x1="297.70" y1="685.60" x2="299.50" y2="685.60" stroke="#888" stroke-width="0.9" />
<text x="294.30" y="772.30" font-size="11.34" text-anchor="end" font-weight="normal" fill="#111" textLength="5.6" lengthAdjust="spacingAndGlyphs" >0</text>
<text x="294.30" y="755.70" font-size="11.34" text-anchor="end" font-weight="normal" fill="#111" textLength="11.2" lengthAdjust="spacingAndGlyphs" >10</text>
<text x="294.30" y="739.10" font-size="11.34" text-anchor="end" font-weight="normal" fill="#111" textLength="11.2" lengthAdjust="spacingAndGlyphs" >20</text>
<text x="294.30" y="722.50" font-size="11.34" text-anchor="end" font-weight="normal" fill="#111" textLength="11.2" lengthAdjust="spacingAndGlyphs" >30</text>
<text x="294.30" y="705.90" font-size="11.34" text-anchor="end" font-weight="normal" fill="#111" textLength="11.2" lengthAdjust="spacingAndGlyphs" >40</text>
<text x="294.30" y="689.30" font-size="11.34" text-anchor="end" font-weight="normal" fill="#111" textLength="11.2" lengthAdjust="spacingAndGlyphs" >50</text>
<line x1="352.80" y1="750.34" x2="352.80" y2="737.06" stroke="#111" stroke-width="1.8" />
<line x1="349.70" y1="750.34" x2="355.90" y2="750.34" stroke="#111" stroke-width="1.9" />
<line x1="349.70" y1="737.06" x2="355.90" y2="737.06" stroke="#111" stroke-width="1.9" />
<line x1="379.10" y1="758.97" x2="379.10" y2="750.34" stroke="#111" stroke-width="1.8" />
<line x1="376.00" y1="758.97" x2="382.20" y2="758.97" stroke="#111" stroke-width="1.9" />
<line x1="376.00" y1="750.34" x2="382.20" y2="750.34" stroke="#111" stroke-width="1.9" />
<line x1="405.80" y1="752.50" x2="405.80" y2="738.55" stroke="#111" stroke-width="1.8" />
<line x1="402.70" y1="752.50" x2="408.90" y2="752.50" stroke="#111" stroke-width="1.9" />
<line x1="402.70" y1="738.55" x2="408.90" y2="738.55" stroke="#111" stroke-width="1.9" />
<path d="M326.20 764.28 C330.63 760.85 343.98 745.19 352.80 743.70 C361.62 742.21 370.27 755.04 379.10 755.32 C387.93 755.60 401.35 747.02 405.80 745.36" fill="none" stroke="#111" stroke-width="2.2" />
<line x1="326.20" y1="761.63" x2="326.20" y2="755.49" stroke="#111" stroke-width="1.8" />
<line x1="323.10" y1="761.63" x2="329.30" y2="761.63" stroke="#111" stroke-width="1.9" />
<line x1="323.10" y1="755.49" x2="329.30" y2="755.49" stroke="#111" stroke-width="1.9" />
<line x1="352.80" y1="737.39" x2="352.80" y2="730.59" stroke="#111" stroke-width="1.8" />
<line x1="349.70" y1="737.39" x2="355.90" y2="737.39" stroke="#111" stroke-width="1.9" />
<line x1="349.70" y1="730.59" x2="355.90" y2="730.59" stroke="#111" stroke-width="1.9" />
<line x1="379.10" y1="747.85" x2="379.10" y2="733.24" stroke="#111" stroke-width="1.8" />
<line x1="376.00" y1="747.85" x2="382.20" y2="747.85" stroke="#111" stroke-width="1.9" />
<line x1="376.00" y1="733.24" x2="382.20" y2="733.24" stroke="#111" stroke-width="1.9" />
<line x1="405.80" y1="717.47" x2="405.80" y2="703.03" stroke="#111" stroke-width="1.8" />
<line x1="402.70" y1="717.47" x2="408.90" y2="717.47" stroke="#111" stroke-width="1.9" />
<line x1="402.70" y1="703.03" x2="408.90" y2="703.03" stroke="#111" stroke-width="1.9" />
<path d="M326.20 758.64 C330.63 754.49 343.98 736.51 352.80 733.74 C361.62 730.97 370.27 745.91 379.10 742.04 C387.93 738.17 401.35 715.76 405.80 710.50" fill="none" stroke="#e31b1b" stroke-width="2.2" />
<polygon points="326.20,760.88 329.60,764.28 326.20,767.68 322.80,764.28" fill="#111"/>
<polygon points="352.80,740.30 356.20,743.70 352.80,747.10 349.40,743.70" fill="#111"/>
<polygon points="379.10,751.92 382.50,755.32 379.10,758.72 375.70,755.32" fill="#111"/>
<polygon points="405.80,741.96 409.20,745.36 405.80,748.76 402.40,745.36" fill="#111"/>
<rect x="323.20" y="755.64" width="6.00" height="6.00" fill="#e31b1b" stroke="none" stroke-width="1" />
<rect x="349.80" y="730.74" width="6.00" height="6.00" fill="#e31b1b" stroke="none" stroke-width="1" />
<rect x="376.10" y="739.04" width="6.00" height="6.00" fill="#e31b1b" stroke="none" stroke-width="1" />
<rect x="402.80" y="707.50" width="6.00" height="6.00" fill="#e31b1b" stroke="none" stroke-width="1" />
<line x1="323.20" y1="749.68" x2="329.20" y2="749.68" stroke="#2a2a2a" stroke-width="1.05" />
<line x1="324.70" y1="747.08" x2="327.70" y2="752.27" stroke="#2a2a2a" stroke-width="1.05" />
<line x1="327.70" y1="747.08" x2="324.70" y2="752.27" stroke="#2a2a2a" stroke-width="1.05" />
<line x1="349.80" y1="723.78" x2="355.80" y2="723.78" stroke="#2a2a2a" stroke-width="1.05" />
<line x1="351.30" y1="721.18" x2="354.30" y2="726.38" stroke="#2a2a2a" stroke-width="1.05" />
<line x1="354.30" y1="721.18" x2="351.30" y2="726.38" stroke="#2a2a2a" stroke-width="1.05" />
<line x1="376.10" y1="726.10" x2="382.10" y2="726.10" stroke="#2a2a2a" stroke-width="1.05" />
<line x1="377.60" y1="723.51" x2="380.60" y2="728.70" stroke="#2a2a2a" stroke-width="1.05" />
<line x1="380.60" y1="723.51" x2="377.60" y2="728.70" stroke="#2a2a2a" stroke-width="1.05" />
<line x1="402.80" y1="696.22" x2="408.80" y2="696.22" stroke="#2a2a2a" stroke-width="1.05" />
<line x1="404.30" y1="693.63" x2="407.30" y2="698.82" stroke="#2a2a2a" stroke-width="1.05" />
<line x1="407.30" y1="693.63" x2="404.30" y2="698.82" stroke="#2a2a2a" stroke-width="1.05" />
<text x="326.20" y="781.40" font-size="11.87" text-anchor="middle" font-weight="normal" fill="#111" textLength="6.3" lengthAdjust="spacingAndGlyphs" >3</text>
<text x="352.80" y="781.40" font-size="11.87" text-anchor="middle" font-weight="normal" fill="#111" textLength="6.3" lengthAdjust="spacingAndGlyphs" >6</text>
<text x="379.10" y="781.40" font-size="11.87" text-anchor="middle" font-weight="normal" fill="#111" textLength="6.3" lengthAdjust="spacingAndGlyphs" >9</text>
<text x="405.80" y="781.40" font-size="11.87" text-anchor="middle" font-weight="normal" fill="#111" textLength="12.6" lengthAdjust="spacingAndGlyphs" >14</text>
<text x="354.65" y="679.70" font-size="16.07" text-anchor="middle" font-weight="normal" fill="#111" textLength="22.2" lengthAdjust="spacingAndGlyphs" >MZ</text>
</svg></body></html>
